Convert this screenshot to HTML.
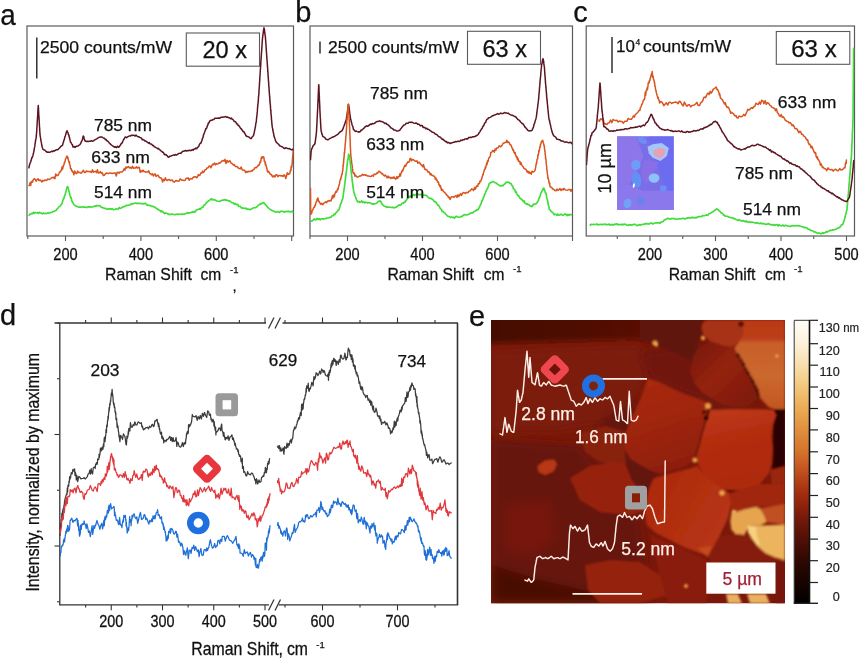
<!DOCTYPE html>
<html><head><meta charset="utf-8"><title>Raman spectra and AFM figure</title>
<style>
html,body{margin:0;padding:0;background:#fff;}
body{width:860px;height:658px;overflow:hidden;}
svg{display:block;font-family:"Liberation Sans", Arial, Helvetica, sans-serif;}
</style></head><body>
<svg width="860" height="658" viewBox="0 0 860 658">
<rect width="860" height="658" fill="#ffffff"/>

<text x="0.3" y="25" font-size="29" fill="#111" stroke="#111" stroke-width="0.25" text-anchor="start" textLength="15.5" lengthAdjust="spacingAndGlyphs" >a</text>
<text x="295.3" y="21.8" font-size="29" fill="#111" stroke="#111" stroke-width="0.25" text-anchor="start" >b</text>
<text x="573.3" y="21.8" font-size="29" fill="#111" stroke="#111" stroke-width="0.25" text-anchor="start" >c</text>
<text x="0" y="325" font-size="29" fill="#111" stroke="#111" stroke-width="0.25" text-anchor="start" >d</text>
<text x="469" y="325.5" font-size="29" fill="#111" stroke="#111" stroke-width="0.25" text-anchor="start" >e</text>
<defs>
<clipPath id="ca"><rect x="27" y="26" width="266.5" height="210"/></clipPath>
<clipPath id="cb"><rect x="310" y="26" width="262.5" height="210"/></clipPath>
<clipPath id="cc"><rect x="586.2" y="26" width="268.3" height="210"/></clipPath>
<filter id="glow" x="-5%" y="-5%" width="110%" height="110%"><feGaussianBlur stdDeviation="0.9"/></filter>
</defs>
<rect x="27" y="26" width="266.5" height="210" fill="#fff" stroke="#5a5a5a" stroke-width="1.2"/>
<line x1="27.799999999999997" y1="236" x2="27.799999999999997" y2="239" stroke="#5a5a5a" stroke-width="1.1"/>
<line x1="65.5" y1="236" x2="65.5" y2="241" stroke="#5a5a5a" stroke-width="1.1"/>
<line x1="103.2" y1="236" x2="103.2" y2="239" stroke="#5a5a5a" stroke-width="1.1"/>
<line x1="140.9" y1="236" x2="140.9" y2="241" stroke="#5a5a5a" stroke-width="1.1"/>
<line x1="178.6" y1="236" x2="178.6" y2="239" stroke="#5a5a5a" stroke-width="1.1"/>
<line x1="216.3" y1="236" x2="216.3" y2="241" stroke="#5a5a5a" stroke-width="1.1"/>
<line x1="254.0" y1="236" x2="254.0" y2="239" stroke="#5a5a5a" stroke-width="1.1"/>
<line x1="291.7" y1="236" x2="291.7" y2="241" stroke="#5a5a5a" stroke-width="1.1"/>
<text transform="translate(65.5,260) scale(1,1.12)" font-size="14.6" fill="#111" stroke="#111" stroke-width="0.25" text-anchor="middle" >200</text>
<text transform="translate(140.9,260) scale(1,1.12)" font-size="14.6" fill="#111" stroke="#111" stroke-width="0.25" text-anchor="middle" >400</text>
<text transform="translate(216.3,260) scale(1,1.12)" font-size="14.6" fill="#111" stroke="#111" stroke-width="0.25" text-anchor="middle" >600</text>
<text transform="translate(105,280) scale(1,1.11)" font-size="15.5" fill="#111" stroke="#111" stroke-width="0.25" text-anchor="start" textLength="87" lengthAdjust="spacingAndGlyphs" >Raman Shift</text>
<text transform="translate(200.5,280) scale(1,1.11)" font-size="15.5" fill="#111" stroke="#111" stroke-width="0.25" text-anchor="start" textLength="20.7" lengthAdjust="spacingAndGlyphs" >cm</text>
<text x="230" y="273" font-size="9.5" fill="#111" stroke="#111" stroke-width="0.25" text-anchor="start" >-1</text>
<text x="232.5" y="290.5" font-size="15" fill="#111" stroke="#111" stroke-width="0.25" text-anchor="start" >,</text>
<line x1="36.8" y1="37.5" x2="36.8" y2="78.5" stroke="#222" stroke-width="1.4"/>
<text x="40" y="52.5" font-size="17" fill="#111" stroke="#111" stroke-width="0.25" text-anchor="start" textLength="132" lengthAdjust="spacingAndGlyphs" >2500 counts/mW</text>
<rect x="186.3" y="33" width="73.2" height="33.2" fill="#fff" stroke="#5a5a5a" stroke-width="1.1"/>
<text x="202.5" y="57.5" font-size="23.5" fill="#111" stroke="#111" stroke-width="0.25" text-anchor="start" textLength="44.5" lengthAdjust="spacingAndGlyphs" >20 x</text>
<g clip-path="url(#ca)">
<path d="M29.1,215.4 L29.7,214.4 L30.6,214.1 L31.5,213.5 L32.5,213.8 L33.4,212.3 L34.3,213.4 L35.3,212.4 L36.3,212.8 L37.3,212.7 L38.3,213.4 L39.3,212.3 L40.3,213.0 L41.3,213.1 L42.3,213.8 L43.3,213.1 L44.3,213.6 L45.2,213.3 L46.2,213.5 L47.2,213.4 L48.2,212.6 L49.1,213.1 L50.1,212.8 L51.1,212.4 L52.1,212.3 L53.0,211.5 L54.0,211.5 L54.9,210.8 L55.7,210.5 L56.4,210.0 L57.1,208.9 L57.8,208.3 L58.5,207.5 L59.2,206.7 L60.0,206.1 L60.6,205.6 L61.2,204.4 L61.7,204.0 L62.0,203.5 L62.4,202.3 L62.7,201.0 L63.1,199.8 L63.4,198.9 L63.8,198.8 L64.1,197.3 L64.5,196.1 L64.8,195.5 L65.1,195.2 L65.4,193.5 L65.6,192.7 L65.9,191.7 L66.2,190.5 L66.4,189.2 L66.7,188.5 L66.9,187.6 L67.2,186.9 L67.4,186.5 L67.7,186.7 L67.9,187.3 L68.2,188.5 L68.5,188.9 L68.7,190.6 L69.0,191.3 L69.2,192.0 L69.5,193.2 L69.7,194.0 L70.0,195.4 L70.3,196.5 L70.6,197.6 L71.0,197.3 L71.3,198.3 L71.6,199.5 L71.9,200.7 L72.3,201.9 L72.6,202.7 L73.0,202.7 L73.7,204.1 L74.4,205.1 L75.2,205.4 L76.1,206.2 L76.9,206.4 L77.8,206.8 L78.7,207.1 L79.7,207.1 L80.7,207.1 L81.7,207.0 L82.7,206.8 L83.7,207.1 L84.8,207.0 L85.8,207.4 L86.8,207.4 L87.8,207.1 L88.8,206.9 L89.8,206.8 L90.8,207.1 L91.8,207.0 L92.8,206.7 L93.7,206.6 L94.7,206.1 L95.6,206.2 L96.6,205.5 L97.5,205.8 L98.5,205.5 L99.3,205.8 L100.1,205.8 L100.8,206.8 L101.7,207.5 L102.6,207.4 L103.5,208.0 L104.5,208.5 L105.4,208.2 L106.4,209.0 L107.4,209.2 L108.4,208.7 L109.4,209.2 L110.4,208.7 L111.4,209.2 L112.4,208.7 L113.4,209.8 L114.4,209.5 L115.4,209.3 L116.3,208.8 L117.3,209.2 L118.2,209.1 L119.2,207.5 L120.2,208.3 L121.1,208.1 L122.1,207.3 L123.0,206.5 L124.0,206.9 L124.9,206.2 L125.9,205.8 L126.8,205.2 L127.8,205.5 L128.8,205.3 L129.7,204.5 L130.7,204.6 L131.6,203.7 L132.6,204.1 L133.5,203.5 L134.5,203.2 L135.5,203.1 L136.5,203.4 L137.5,203.4 L138.5,203.4 L139.5,203.4 L140.5,203.4 L141.5,203.7 L142.5,203.6 L143.5,203.9 L144.5,203.6 L145.4,203.1 L146.4,204.6 L147.3,205.4 L148.3,205.1 L149.2,205.3 L150.1,205.6 L151.1,206.0 L152.0,206.4 L153.0,206.3 L153.9,206.9 L154.8,207.1 L155.7,208.0 L156.6,208.3 L157.4,209.1 L158.3,209.4 L159.2,210.3 L160.0,210.6 L160.9,211.8 L161.7,210.9 L162.6,211.7 L163.6,212.7 L164.5,213.6 L165.5,212.9 L166.4,213.3 L167.4,213.5 L168.3,214.4 L169.3,214.1 L170.2,214.6 L171.2,214.3 L172.2,214.0 L173.2,214.5 L174.2,214.5 L175.3,214.7 L176.3,214.2 L177.3,214.0 L178.3,214.4 L179.3,214.2 L180.3,214.2 L181.3,214.0 L182.3,214.4 L183.3,214.0 L184.2,214.3 L185.2,213.8 L186.2,213.5 L187.2,212.5 L188.2,213.1 L189.2,212.8 L190.1,212.8 L191.1,212.6 L192.1,211.9 L193.1,212.2 L194.1,211.5 L195.0,212.1 L196.0,210.5 L196.8,209.9 L197.7,209.5 L198.6,209.3 L199.5,208.7 L200.4,209.3 L201.3,208.0 L202.1,207.2 L202.8,207.4 L203.5,206.0 L204.1,205.0 L204.8,205.0 L205.4,204.1 L206.0,203.0 L206.6,202.8 L207.3,201.6 L208.1,201.5 L208.9,200.5 L209.7,200.3 L210.5,199.3 L211.4,198.6 L212.3,200.0 L213.2,199.4 L214.2,199.9 L215.1,200.0 L216.0,200.6 L217.0,201.0 L217.9,201.2 L218.9,201.3 L219.9,201.5 L220.9,200.7 L221.9,200.2 L222.9,200.1 L223.9,200.1 L224.9,199.6 L225.9,200.5 L226.8,200.1 L227.8,200.5 L228.7,201.0 L229.6,200.9 L230.5,201.5 L231.4,202.5 L232.4,202.8 L233.3,202.9 L234.2,204.1 L235.1,203.4 L236.0,204.2 L236.9,204.7 L237.7,204.3 L238.6,206.5 L239.5,206.4 L240.4,206.4 L241.2,208.0 L242.1,207.9 L243.1,208.2 L244.0,208.1 L245.0,208.5 L246.0,208.2 L247.0,209.2 L248.0,209.0 L249.0,209.3 L249.9,209.7 L250.9,209.2 L251.8,208.8 L252.7,208.4 L253.6,207.7 L254.5,207.8 L255.5,207.7 L256.4,207.0 L257.3,206.6 L258.1,205.4 L258.9,204.8 L259.7,204.0 L260.5,204.4 L261.4,203.3 L262.3,203.5 L263.2,202.6 L264.0,202.9 L264.7,203.6 L265.4,204.6 L266.0,205.1 L266.7,206.0 L267.2,206.7 L267.8,207.6 L268.5,207.9 L269.2,208.9 L270.1,209.4 L270.9,209.9 L271.8,210.5 L272.7,210.6 L273.6,211.3 L274.5,211.6 L275.5,212.0 L276.4,212.2 L277.5,211.6 L278.5,212.1 L279.5,212.5 L280.5,211.3 L281.5,211.4 L282.5,211.4 L283.5,211.6 L284.5,212.2 L285.5,211.6 L286.5,211.3 L287.5,211.7 L288.5,211.2 L289.5,211.8 L290.5,211.5 L291.5,211.8 L292.5,211.1 L293.2,212.3" fill="none" stroke="#3fdc3a" stroke-width="1.65" stroke-linejoin="round" stroke-linecap="round" />
<path d="M29.0,185.6 L29.4,185.4 L30.0,182.8 L30.7,185.4 L31.3,181.6 L32.0,181.6 L32.6,182.1 L33.2,179.7 L33.9,179.1 L34.6,178.6 L35.3,179.6 L36.2,181.2 L37.2,179.5 L38.1,178.8 L39.1,180.6 L40.0,179.9 L41.0,180.7 L41.9,182.0 L42.9,180.4 L43.9,180.9 L44.8,179.9 L45.8,180.3 L46.8,180.4 L47.7,179.0 L48.7,179.4 L49.7,179.2 L50.7,178.6 L51.6,177.9 L52.5,177.3 L53.4,177.9 L54.1,177.1 L54.9,178.8 L55.7,173.9 L56.4,175.6 L57.2,175.2 L58.0,175.4 L58.8,174.0 L59.5,172.1 L60.1,172.1 L60.6,171.7 L61.1,170.1 L61.5,170.2 L62.0,166.9 L62.4,169.2 L62.9,168.1 L63.3,165.6 L63.7,165.5 L64.1,164.1 L64.4,162.3 L64.7,162.2 L65.0,162.1 L65.3,159.9 L65.6,158.9 L65.9,158.2 L66.2,157.7 L66.5,157.7 L66.9,155.9 L67.2,157.5 L67.5,158.1 L67.9,157.2 L68.2,159.5 L68.6,160.7 L68.9,161.7 L69.2,163.0 L69.4,161.8 L69.7,164.7 L69.9,165.0 L70.1,165.3 L70.4,168.0 L70.8,169.1 L71.3,168.8 L71.8,171.0 L72.3,170.8 L72.7,172.0 L73.2,171.9 L73.9,174.8 L74.7,171.1 L75.7,173.2 L76.7,173.7 L77.6,171.1 L78.6,172.5 L79.6,172.4 L80.6,173.0 L81.5,173.1 L82.5,171.4 L83.5,170.3 L84.5,172.6 L85.5,172.4 L86.5,170.8 L87.5,171.6 L88.5,171.6 L89.5,171.8 L90.5,171.4 L91.5,172.5 L92.5,169.7 L93.5,172.2 L94.5,171.6 L95.5,171.2 L96.5,172.7 L97.4,169.8 L98.4,173.1 L99.4,172.7 L100.4,171.6 L101.3,173.2 L102.3,172.8 L103.3,175.6 L104.3,175.2 L105.2,174.1 L106.2,173.1 L107.2,173.2 L108.2,173.5 L109.2,173.2 L110.3,172.9 L111.3,173.2 L112.3,173.5 L113.3,173.3 L114.3,173.1 L115.3,172.9 L116.3,176.0 L117.2,172.3 L118.1,172.4 L119.0,173.2 L119.9,172.0 L120.7,172.1 L121.6,171.9 L122.4,171.8 L123.3,170.8 L124.1,168.7 L125.0,170.1 L125.8,167.0 L126.7,167.9 L127.6,167.2 L128.5,166.5 L129.5,168.0 L130.5,167.3 L131.5,168.4 L132.5,166.2 L133.5,168.3 L134.5,168.0 L135.5,167.9 L136.5,166.8 L137.4,168.2 L138.3,167.4 L139.3,167.2 L140.2,172.4 L141.1,170.7 L142.1,171.8 L143.0,170.1 L144.0,171.5 L144.9,171.8 L145.8,172.1 L146.8,171.9 L147.7,172.1 L148.7,170.8 L149.6,173.5 L150.5,173.7 L151.5,174.7 L152.4,173.8 L153.4,176.0 L154.3,174.3 L155.2,174.0 L156.1,176.4 L157.1,175.5 L158.0,175.2 L158.9,176.9 L159.8,177.8 L160.7,177.8 L161.6,178.4 L162.6,182.1 L163.5,179.5 L164.4,180.6 L165.3,177.7 L166.3,180.0 L167.3,180.5 L168.3,179.7 L169.3,179.4 L170.3,180.6 L171.3,180.2 L172.3,180.1 L173.3,181.8 L174.3,182.1 L175.2,181.2 L176.2,180.4 L177.2,181.1 L178.2,181.3 L179.2,180.9 L180.2,178.9 L181.2,179.8 L182.2,180.2 L183.2,180.3 L184.2,180.5 L185.2,180.1 L186.1,178.2 L187.1,178.4 L188.1,177.8 L189.1,180.3 L190.1,178.6 L191.1,178.8 L192.0,179.0 L193.0,177.6 L194.0,176.7 L195.0,177.0 L195.9,176.8 L196.7,177.8 L197.6,176.7 L198.4,174.4 L199.3,175.4 L200.1,175.0 L201.0,172.8 L201.8,173.1 L202.7,171.0 L203.5,172.5 L204.3,171.3 L205.1,169.8 L205.7,169.6 L206.2,169.6 L206.8,168.0 L207.5,168.1 L208.2,167.7 L209.1,166.0 L210.0,166.1 L210.9,167.8 L211.8,165.6 L212.7,164.3 L213.6,164.7 L214.6,163.0 L215.5,164.9 L216.4,163.8 L217.4,164.1 L218.3,163.6 L219.2,162.8 L220.2,163.0 L221.1,161.9 L222.1,160.9 L223.0,160.5 L224.0,161.1 L225.0,159.4 L226.0,163.5 L227.0,160.5 L228.0,162.1 L229.0,161.1 L229.9,160.8 L230.8,162.9 L231.7,163.3 L232.5,163.9 L233.4,165.1 L234.2,164.6 L235.1,166.0 L235.9,166.7 L236.8,166.4 L237.6,167.0 L238.5,168.3 L239.3,168.4 L240.2,168.9 L241.1,167.0 L242.1,169.6 L243.0,170.2 L244.0,170.1 L244.9,170.9 L245.8,172.7 L246.8,171.4 L247.7,172.2 L248.7,171.2 L249.6,171.4 L250.5,171.6 L251.3,170.7 L252.1,171.1 L253.0,169.7 L253.8,169.8 L254.6,168.1 L255.5,167.4 L256.3,167.7 L257.1,166.7 L257.7,166.3 L258.2,165.5 L258.6,164.8 L259.0,165.2 L259.4,164.6 L259.9,163.1 L260.3,161.2 L260.7,162.0 L261.2,158.3 L261.6,157.0 L262.1,158.2 L262.6,157.1 L263.0,156.8 L263.4,157.3 L263.7,156.8 L264.0,158.1 L264.3,161.2 L264.7,162.0 L265.0,161.4 L265.3,164.7 L265.5,163.0 L265.8,164.4 L266.1,166.2 L266.3,165.8 L266.6,167.4 L266.8,168.6 L267.1,169.4 L267.4,171.5 L267.9,172.1 L268.5,171.3 L269.3,172.4 L270.0,173.9 L270.7,174.4 L271.4,174.4 L272.1,176.1 L273.0,176.9 L273.9,175.7 L274.9,177.0 L275.9,174.8 L276.9,174.8 L277.9,176.7 L278.9,175.5 L279.9,175.4 L281.0,176.0 L282.0,175.6 L283.0,176.5 L284.0,174.9 L284.9,175.7 L285.8,178.5 L286.6,175.2 L287.4,172.7 L288.2,174.4 L289.0,173.8 L289.7,173.8 L290.1,171.9 L290.4,170.2 L290.7,171.1 L291.0,169.5 L291.2,166.3 L291.5,167.6 L291.7,165.8 L291.9,166.0 L292.1,163.7 L292.2,163.7 L292.2,162.2 L292.3,161.5 L292.4,160.0 L292.5,158.6 L292.6,158.1 L292.6,157.6 L292.7,156.4 L292.8,156.5 L292.9,154.4 L293.0,153.6 L293.0,153.9 L293.1,151.1 L293.2,150.8" fill="none" stroke="#d9541f" stroke-width="1.5" stroke-linejoin="round" stroke-linecap="round" />
<path d="M28.9,167.8 L29.1,166.7 L29.4,165.6 L29.7,164.0 L30.0,163.6 L30.3,162.6 L30.7,161.8 L31.0,160.6 L31.3,159.9 L31.6,158.8 L31.9,157.5 L32.2,157.4 L32.6,156.4 L32.9,155.7 L33.2,154.2 L33.5,153.1 L33.7,152.1 L33.9,150.8 L34.1,150.7 L34.2,148.9 L34.4,147.9 L34.6,147.3 L34.7,146.9 L34.9,145.4 L35.0,144.0 L35.2,143.1 L35.3,142.6 L35.5,141.3 L35.6,140.1 L35.8,139.3 L36.0,138.7 L36.1,138.1 L36.3,136.0 L36.4,135.2 L36.5,134.2 L36.6,132.6 L36.6,132.1 L36.7,131.1 L36.8,130.9 L36.8,129.4 L36.9,127.9 L36.9,127.7 L37.0,126.3 L37.1,124.9 L37.1,124.3 L37.2,123.3 L37.2,122.2 L37.3,121.5 L37.3,119.7 L37.4,119.4 L37.5,118.8 L37.5,117.8 L37.6,116.9 L37.6,115.9 L37.7,115.0 L37.8,113.1 L37.8,112.8 L37.9,110.8 L37.9,110.3 L38.0,108.8 L38.0,108.8 L38.1,107.9 L38.2,106.4 L38.2,106.4 L38.3,105.6 L38.3,106.6 L38.4,107.6 L38.5,108.2 L38.5,109.7 L38.6,111.2 L38.6,111.2 L38.7,112.8 L38.7,113.5 L38.8,115.1 L38.9,115.7 L38.9,116.8 L39.0,117.8 L39.0,118.6 L39.1,119.0 L39.2,121.0 L39.2,121.0 L39.3,122.6 L39.3,123.7 L39.4,124.2 L39.4,125.6 L39.5,126.9 L39.6,127.5 L39.6,128.2 L39.7,128.5 L39.7,130.2 L39.8,131.3 L39.9,132.3 L39.9,133.2 L40.0,134.7 L40.1,135.3 L40.3,136.5 L40.5,137.7 L40.6,138.2 L40.8,139.4 L41.0,141.2 L41.2,141.7 L41.3,142.0 L41.5,143.4 L41.7,144.6 L41.9,145.8 L42.1,146.4 L42.2,147.2 L42.5,148.0 L43.0,149.3 L43.8,149.8 L44.6,150.1 L45.4,150.8 L46.2,151.4 L47.0,152.3 L47.9,152.0 L48.8,152.3 L49.8,152.2 L50.7,151.9 L51.7,151.2 L52.7,151.7 L53.7,150.7 L54.6,150.9 L55.6,150.2 L56.6,149.6 L57.4,149.9 L58.2,149.4 L58.9,148.5 L59.7,147.9 L60.4,146.9 L61.1,146.2 L61.8,145.7 L62.4,145.6 L62.8,144.3 L63.1,142.9 L63.4,142.3 L63.7,141.0 L64.0,140.1 L64.3,139.6 L64.6,138.1 L64.9,136.8 L65.2,136.1 L65.4,135.5 L65.7,134.5 L66.0,133.9 L66.3,132.3 L66.5,131.8 L66.8,131.0 L67.1,130.7 L67.4,131.6 L67.7,132.4 L68.1,132.9 L68.4,134.5 L68.7,134.7 L69.0,136.1 L69.3,137.0 L69.5,138.1 L69.7,138.7 L70.0,139.9 L70.2,140.8 L70.5,142.2 L71.0,142.5 L71.4,143.6 L72.0,144.4 L72.5,144.9 L73.0,147.1 L73.6,146.8 L74.3,146.6 L75.1,147.4 L76.1,146.2 L77.0,146.3 L77.9,146.1 L78.9,145.2 L79.7,144.8 L80.3,144.1 L80.8,143.4 L81.2,142.0 L81.7,141.2 L82.0,140.6 L82.3,140.1 L82.5,139.0 L82.7,138.4 L83.0,137.0 L83.2,136.1 L83.4,136.3 L83.7,136.4 L84.0,137.7 L84.2,138.7 L84.6,140.0 L85.2,141.0 L85.9,141.2 L86.7,141.5 L87.6,141.2 L88.5,141.4 L89.5,141.3 L90.5,141.2 L91.5,140.5 L92.5,141.3 L93.4,140.8 L94.4,140.1 L95.3,139.5 L96.2,139.1 L97.0,138.7 L97.8,138.1 L98.6,137.7 L99.5,137.2 L100.3,137.1 L101.2,137.1 L102.0,137.1 L102.9,137.7 L103.8,138.0 L104.6,138.4 L105.5,139.8 L106.3,139.5 L107.0,141.0 L107.7,141.0 L108.4,141.9 L109.1,142.9 L109.8,143.3 L110.4,144.2 L111.1,144.7 L111.8,145.3 L112.6,146.0 L113.5,146.2 L114.4,147.2 L115.4,146.8 L116.4,147.6 L117.4,146.3 L118.3,147.2 L119.0,147.0 L119.6,146.0 L120.1,145.7 L120.7,144.7 L121.2,143.5 L121.7,142.9 L122.3,142.9 L122.8,141.1 L123.3,140.3 L123.9,139.2 L124.4,138.5 L125.0,137.3 L125.8,137.1 L126.7,137.7 L127.6,136.8 L128.6,136.3 L129.5,136.1 L130.4,136.0 L131.4,135.2 L132.3,135.5 L133.2,135.2 L134.1,135.2 L135.1,136.1 L136.0,135.1 L136.9,136.1 L137.9,136.7 L138.8,136.7 L139.7,137.4 L140.6,137.7 L141.5,138.2 L142.3,139.8 L143.2,139.6 L144.0,139.9 L144.9,140.9 L145.8,140.9 L146.6,141.8 L147.5,142.1 L148.3,143.1 L149.2,142.5 L150.0,143.8 L150.9,144.1 L151.7,144.2 L152.6,145.5 L153.4,145.4 L154.3,146.8 L155.1,147.0 L155.9,147.6 L156.8,147.9 L157.6,148.8 L158.5,148.3 L159.3,149.6 L160.1,149.9 L160.9,150.8 L161.7,151.3 L162.5,152.2 L163.3,152.3 L164.0,153.9 L164.8,154.7 L165.6,154.4 L166.4,155.1 L167.2,155.8 L167.9,156.8 L168.8,157.3 L169.7,156.3 L170.6,156.2 L171.6,155.7 L172.5,155.4 L173.5,154.9 L174.4,155.3 L175.4,154.5 L176.4,155.1 L177.3,154.6 L178.3,153.7 L179.2,153.4 L180.2,153.1 L181.0,153.4 L181.9,152.1 L182.8,151.3 L183.6,151.3 L184.5,151.0 L185.4,150.4 L186.4,151.1 L187.4,150.6 L188.4,150.7 L189.4,150.2 L190.4,150.5 L191.4,150.4 L192.4,149.6 L193.3,150.1 L194.1,148.9 L195.0,149.0 L195.8,148.0 L196.7,148.7 L197.5,147.5 L198.2,146.9 L198.8,146.2 L199.4,144.6 L200.0,143.5 L200.6,143.3 L201.1,142.9 L201.4,141.7 L201.8,141.0 L202.1,140.1 L202.4,138.3 L202.7,138.0 L203.0,137.6 L203.3,135.8 L203.7,134.3 L204.0,134.0 L204.3,133.0 L204.6,132.3 L205.0,130.9 L205.3,130.3 L205.8,128.6 L206.2,128.8 L206.6,128.2 L207.0,127.2 L207.5,125.3 L207.9,125.0 L208.3,122.9 L208.8,123.2 L209.2,122.2 L209.7,121.0 L210.3,120.8 L211.1,120.2 L212.1,120.2 L213.0,119.6 L214.0,119.4 L214.9,118.3 L215.9,118.3 L216.9,118.3 L217.8,118.3 L218.8,118.0 L219.8,118.3 L220.8,117.3 L221.7,117.3 L222.7,117.3 L223.7,116.9 L224.7,116.9 L225.7,116.5 L226.6,117.3 L227.6,117.0 L228.5,117.8 L229.4,117.8 L230.4,118.7 L231.3,118.0 L232.2,119.2 L232.9,119.4 L233.6,120.4 L234.3,121.5 L235.0,121.4 L235.6,122.1 L236.3,122.9 L236.9,124.1 L237.6,124.1 L238.3,125.6 L238.9,125.8 L239.6,126.7 L240.2,127.7 L240.9,128.7 L241.5,129.2 L242.1,130.0 L242.7,131.0 L243.3,131.7 L243.9,131.6 L244.6,133.2 L245.2,134.2 L245.8,135.3 L246.5,136.3 L247.3,136.4 L248.2,136.8 L249.0,136.9 L249.8,137.9 L250.6,138.5 L251.3,138.6 L251.9,137.3 L252.4,136.8 L252.9,136.2 L253.4,135.7 L253.8,134.2 L254.1,133.0 L254.3,132.0 L254.5,131.1 L254.7,130.0 L254.9,129.5 L255.0,128.6 L255.2,127.5 L255.4,126.7 L255.6,125.1 L255.7,124.4 L255.9,123.2 L256.1,122.4 L256.3,121.8 L256.4,120.3 L256.5,118.7 L256.6,118.3 L256.7,117.1 L256.8,115.8 L256.9,115.1 L257.0,114.7 L257.1,114.0 L257.2,112.2 L257.3,111.7 L257.4,110.8 L257.5,109.0 L257.5,108.4 L257.6,107.4 L257.7,106.5 L257.8,104.8 L257.9,104.3 L258.0,103.8 L258.1,102.9 L258.2,102.1 L258.3,100.3 L258.4,100.1 L258.4,98.7 L258.5,96.9 L258.6,96.7 L258.7,95.3 L258.8,94.6 L258.9,93.4 L258.9,92.9 L259.0,91.5 L259.0,90.3 L259.1,89.8 L259.2,88.5 L259.2,87.3 L259.3,86.9 L259.4,85.3 L259.4,84.2 L259.5,83.2 L259.6,81.9 L259.6,81.2 L259.7,81.1 L259.8,79.1 L259.8,78.4 L259.9,77.0 L259.9,76.2 L260.0,76.0 L260.1,74.7 L260.1,73.2 L260.2,72.4 L260.3,71.1 L260.3,70.2 L260.4,69.1 L260.5,68.1 L260.5,67.6 L260.6,66.6 L260.7,65.6 L260.7,64.4 L260.8,63.0 L260.8,62.4 L260.9,61.1 L261.0,60.7 L261.0,59.6 L261.1,58.7 L261.2,57.3 L261.2,55.8 L261.3,55.8 L261.4,54.9 L261.4,52.9 L261.5,52.5 L261.6,51.9 L261.7,50.1 L261.7,50.1 L261.8,48.3 L261.9,47.1 L261.9,46.9 L262.0,45.6 L262.1,44.2 L262.1,43.8 L262.2,41.8 L262.3,42.1 L262.3,40.2 L262.4,39.6 L262.5,38.3 L262.6,37.6 L262.7,36.8 L262.8,35.2 L263.0,34.8 L263.1,33.4 L263.3,32.3 L263.4,31.4 L263.5,30.2 L263.7,29.2 L263.8,28.9 L263.9,27.8 L264.1,28.2 L264.2,28.6 L264.3,29.1 L264.5,29.8 L264.6,31.2 L264.7,32.5 L264.9,33.4 L265.0,34.1 L265.1,35.8 L265.3,35.8 L265.4,36.9 L265.5,38.4 L265.6,40.1 L265.7,40.5 L265.7,41.0 L265.8,42.6 L265.9,43.6 L265.9,44.7 L266.0,45.2 L266.1,46.1 L266.1,47.4 L266.2,48.5 L266.3,49.9 L266.3,51.1 L266.4,51.1 L266.5,52.2 L266.5,53.3 L266.6,54.3 L266.7,55.5 L266.8,56.5 L266.8,57.5 L266.9,58.8 L267.0,59.3 L267.0,60.0 L267.1,60.8 L267.2,62.0 L267.2,63.0 L267.3,63.7 L267.4,65.6 L267.5,66.4 L267.5,67.2 L267.6,68.0 L267.7,68.8 L267.7,70.0 L267.8,72.0 L267.9,71.6 L268.0,73.4 L268.0,74.6 L268.1,75.4 L268.2,76.2 L268.2,77.6 L268.3,78.0 L268.4,79.5 L268.5,80.8 L268.5,81.0 L268.6,82.1 L268.7,83.4 L268.7,84.7 L268.8,85.8 L268.9,86.6 L269.0,87.1 L269.0,88.0 L269.1,89.4 L269.2,90.5 L269.2,91.0 L269.3,92.4 L269.4,93.5 L269.5,94.7 L269.5,95.0 L269.6,96.5 L269.7,96.9 L269.8,98.2 L269.9,99.3 L269.9,100.9 L270.0,102.5 L270.1,102.4 L270.2,103.5 L270.3,104.7 L270.4,104.8 L270.4,106.6 L270.5,106.9 L270.6,108.9 L270.7,109.8 L270.8,110.5 L270.9,111.0 L270.9,112.9 L271.0,113.4 L271.1,114.3 L271.2,115.5 L271.3,115.7 L271.4,117.4 L271.4,118.6 L271.5,119.4 L271.6,120.3 L271.7,121.0 L271.8,122.5 L271.9,123.4 L271.9,124.3 L272.1,125.1 L272.2,126.6 L272.4,127.7 L272.6,128.4 L272.8,129.5 L272.9,130.7 L273.1,131.7 L273.3,132.3 L273.5,133.1 L273.7,134.0 L273.8,135.1 L274.1,136.3 L274.4,137.4 L274.7,137.9 L275.0,139.0 L275.3,139.6 L275.7,141.3 L276.0,141.6 L276.6,142.7 L277.2,143.0 L278.0,143.8 L278.8,144.3 L279.6,145.8 L280.4,145.9 L281.1,146.4 L281.9,146.7 L282.8,147.2 L283.7,148.0 L284.7,148.6 L285.7,147.7 L286.7,148.1 L287.6,148.6 L288.6,148.7 L289.6,148.5 L290.6,149.3 L291.5,149.8 L292.5,149.2 L293.2,150.0" fill="none" stroke="#5c1420" stroke-width="1.5" stroke-linejoin="round" stroke-linecap="round" />
</g>
<text x="94" y="131" font-size="17" fill="#111" stroke="#111" stroke-width="0.25" text-anchor="start" textLength="58" lengthAdjust="spacingAndGlyphs" >785 nm</text>
<text x="91.3" y="163" font-size="17" fill="#111" stroke="#111" stroke-width="0.25" text-anchor="start" textLength="58.5" lengthAdjust="spacingAndGlyphs" >633 nm</text>
<text x="94" y="198" font-size="17" fill="#111" stroke="#111" stroke-width="0.25" text-anchor="start" textLength="58" lengthAdjust="spacingAndGlyphs" >514 nm</text>
<rect x="310" y="26" width="262.5" height="210" fill="#fff" stroke="#5a5a5a" stroke-width="1.2"/>
<line x1="310.0" y1="236" x2="310.0" y2="239" stroke="#5a5a5a" stroke-width="1.1"/>
<line x1="347.5" y1="236" x2="347.5" y2="241" stroke="#5a5a5a" stroke-width="1.1"/>
<line x1="385.0" y1="236" x2="385.0" y2="239" stroke="#5a5a5a" stroke-width="1.1"/>
<line x1="422.5" y1="236" x2="422.5" y2="241" stroke="#5a5a5a" stroke-width="1.1"/>
<line x1="460.0" y1="236" x2="460.0" y2="239" stroke="#5a5a5a" stroke-width="1.1"/>
<line x1="497.5" y1="236" x2="497.5" y2="241" stroke="#5a5a5a" stroke-width="1.1"/>
<line x1="535.0" y1="236" x2="535.0" y2="239" stroke="#5a5a5a" stroke-width="1.1"/>
<line x1="572.5" y1="236" x2="572.5" y2="241" stroke="#5a5a5a" stroke-width="1.1"/>
<text transform="translate(347.5,260) scale(1,1.12)" font-size="14.6" fill="#111" stroke="#111" stroke-width="0.25" text-anchor="middle" >200</text>
<text transform="translate(422.5,260) scale(1,1.12)" font-size="14.6" fill="#111" stroke="#111" stroke-width="0.25" text-anchor="middle" >400</text>
<text transform="translate(497.5,260) scale(1,1.12)" font-size="14.6" fill="#111" stroke="#111" stroke-width="0.25" text-anchor="middle" >600</text>
<text transform="translate(387.5,280) scale(1,1.11)" font-size="15.5" fill="#111" stroke="#111" stroke-width="0.25" text-anchor="start" textLength="86.5" lengthAdjust="spacingAndGlyphs" >Raman Shift</text>
<text transform="translate(483.7,280) scale(1,1.11)" font-size="15.5" fill="#111" stroke="#111" stroke-width="0.25" text-anchor="start" textLength="20.7" lengthAdjust="spacingAndGlyphs" >cm</text>
<text x="513" y="272" font-size="9.5" fill="#111" stroke="#111" stroke-width="0.25" text-anchor="start" >-1</text>
<line x1="320" y1="41.5" x2="320" y2="53.5" stroke="#222" stroke-width="1.4"/>
<text x="328" y="53" font-size="17" fill="#111" stroke="#111" stroke-width="0.25" text-anchor="start" textLength="131" lengthAdjust="spacingAndGlyphs" >2500 counts/mW</text>
<rect x="467.5" y="31.3" width="73" height="33" fill="#fff" stroke="#5a5a5a" stroke-width="1.1"/>
<text x="482.5" y="57" font-size="23.5" fill="#111" stroke="#111" stroke-width="0.25" text-anchor="start" textLength="44.5" lengthAdjust="spacingAndGlyphs" >63 x</text>
<g clip-path="url(#cb)">
<path d="M310.5,159.7 L310.6,159.2 L310.6,157.7 L310.7,157.2 L310.8,155.9 L310.9,154.5 L310.9,153.8 L311.0,153.2 L311.1,152.1 L311.2,150.7 L311.4,150.2 L311.6,149.1 L312.0,148.3 L312.5,147.4 L312.9,146.0 L313.5,145.7 L314.1,144.6 L314.6,144.4 L315.0,143.3 L315.2,142.1 L315.3,140.8 L315.5,140.2 L315.6,139.2 L315.7,137.8 L315.8,137.8 L316.0,136.3 L316.1,135.7 L316.2,133.8 L316.3,133.7 L316.5,131.8 L316.5,131.0 L316.6,130.4 L316.6,129.2 L316.7,127.5 L316.7,126.9 L316.8,126.4 L316.8,125.8 L316.9,124.5 L316.9,123.1 L317.0,122.4 L317.0,120.8 L317.1,120.3 L317.1,118.8 L317.2,118.2 L317.2,117.1 L317.3,116.4 L317.3,115.1 L317.4,114.5 L317.4,113.1 L317.5,112.4 L317.5,111.4 L317.6,109.6 L317.6,109.2 L317.7,108.2 L317.7,106.9 L317.8,106.2 L317.8,104.7 L317.8,104.3 L317.9,103.3 L317.9,102.3 L318.0,101.9 L318.0,100.3 L318.1,99.2 L318.1,97.9 L318.2,97.3 L318.2,95.9 L318.2,95.5 L318.3,94.0 L318.3,93.2 L318.4,92.8 L318.4,91.5 L318.5,90.2 L318.5,89.6 L318.6,88.1 L318.6,87.4 L318.6,86.2 L318.7,84.9 L318.7,84.7 L318.8,84.9 L318.8,85.2 L318.9,86.0 L318.9,87.2 L319.0,87.6 L319.0,89.2 L319.0,90.0 L319.1,92.0 L319.1,92.2 L319.2,92.9 L319.2,94.6 L319.3,95.3 L319.3,96.4 L319.4,97.4 L319.4,98.4 L319.4,99.3 L319.5,100.7 L319.5,101.5 L319.6,102.2 L319.6,103.3 L319.7,104.1 L319.7,105.5 L319.8,106.6 L319.8,107.6 L319.8,108.6 L319.9,109.3 L319.9,110.9 L320.0,111.3 L320.0,112.4 L320.1,113.3 L320.1,114.4 L320.2,115.3 L320.2,117.0 L320.3,117.5 L320.4,117.9 L320.4,119.3 L320.5,120.0 L320.5,121.6 L320.6,122.8 L320.6,123.2 L320.7,124.6 L320.7,125.3 L320.8,126.5 L320.9,127.9 L320.9,128.3 L321.0,129.0 L321.1,130.6 L321.3,131.5 L321.6,132.5 L321.8,133.6 L322.0,134.1 L322.3,134.7 L322.7,136.4 L323.3,136.7 L324.1,137.1 L324.9,137.7 L325.7,139.0 L326.5,139.3 L327.3,139.7 L328.2,139.8 L329.1,139.0 L330.0,138.4 L330.8,138.1 L331.7,137.5 L332.6,137.3 L333.5,136.7 L334.4,136.5 L335.3,135.8 L336.1,135.3 L336.8,134.9 L337.6,134.5 L338.4,133.9 L339.1,132.8 L339.9,132.2 L340.7,131.4 L341.4,131.2 L342.1,130.6 L342.7,129.2 L343.1,128.7 L343.4,127.4 L343.8,126.5 L344.1,125.7 L344.5,124.6 L344.8,124.1 L345.2,122.4 L345.5,121.7 L345.9,120.9 L346.2,119.7 L346.4,119.2 L346.5,117.6 L346.7,117.1 L346.8,115.6 L346.9,115.0 L347.1,114.2 L347.2,113.7 L347.3,112.4 L347.5,111.6 L347.6,110.1 L347.8,109.8 L347.9,108.1 L348.0,107.1 L348.2,105.8 L348.3,105.2 L348.4,104.9 L348.6,104.4 L348.7,105.2 L348.9,106.2 L349.0,107.2 L349.1,108.1 L349.3,108.9 L349.4,110.7 L349.5,110.7 L349.7,112.0 L349.8,113.4 L350.0,114.6 L350.1,115.2 L350.2,116.2 L350.4,117.3 L350.5,118.2 L350.7,119.5 L350.9,120.1 L351.1,120.9 L351.4,122.0 L351.7,123.1 L352.0,124.4 L352.3,125.5 L352.5,125.8 L352.8,126.5 L353.1,127.5 L353.4,129.5 L353.9,129.6 L354.5,130.5 L355.4,131.4 L356.3,131.1 L357.2,131.6 L358.0,131.9 L358.9,131.7 L359.7,132.0 L360.5,131.4 L361.2,129.9 L362.0,130.1 L362.8,129.1 L363.5,128.6 L364.3,127.9 L365.1,126.8 L365.9,126.5 L366.7,125.8 L367.6,126.2 L368.5,125.9 L369.5,124.9 L370.4,124.1 L371.3,124.4 L372.2,123.6 L373.1,123.8 L374.1,123.5 L375.0,123.0 L375.9,122.1 L376.9,121.6 L377.8,121.4 L378.8,121.3 L379.7,120.8 L380.7,121.4 L381.6,121.5 L382.5,121.8 L383.3,122.2 L384.2,122.9 L385.1,123.6 L386.0,123.1 L386.9,124.3 L387.7,124.6 L388.5,125.1 L389.2,125.9 L390.0,126.7 L390.7,127.9 L391.5,128.0 L392.2,128.5 L393.0,129.0 L393.8,130.1 L394.7,130.0 L395.7,130.4 L396.6,130.9 L397.6,131.0 L398.5,130.8 L399.3,130.5 L399.9,130.1 L400.5,129.0 L401.2,128.3 L401.8,127.6 L402.4,126.6 L403.0,126.0 L403.7,125.1 L404.5,125.0 L405.4,124.3 L406.3,123.2 L407.2,123.3 L408.1,123.2 L409.0,122.4 L410.0,122.1 L410.9,122.5 L411.9,122.1 L412.9,122.7 L413.8,123.1 L414.8,123.4 L415.8,123.0 L416.8,123.2 L417.7,124.4 L418.6,124.1 L419.5,124.7 L420.4,125.9 L421.3,125.5 L422.2,125.4 L423.1,127.4 L424.0,127.3 L424.9,127.6 L425.8,128.7 L426.7,128.3 L427.6,129.3 L428.4,129.3 L429.3,129.8 L430.1,130.6 L431.0,131.2 L431.8,131.8 L432.7,132.3 L433.5,132.4 L434.4,133.0 L435.2,134.2 L436.1,134.3 L436.9,134.7 L437.7,135.6 L438.5,136.3 L439.3,136.9 L440.1,137.0 L440.8,137.7 L441.6,138.6 L442.4,139.4 L443.1,139.3 L443.9,140.2 L444.7,140.8 L445.6,141.7 L446.5,141.4 L447.4,142.9 L448.4,142.5 L449.3,142.9 L450.3,143.5 L451.3,142.9 L452.2,142.8 L453.2,142.3 L454.2,142.3 L455.2,141.6 L456.2,141.7 L457.2,141.6 L458.1,141.1 L459.1,141.5 L460.1,141.1 L461.0,140.1 L462.0,140.5 L462.9,139.7 L463.9,139.8 L464.8,139.1 L465.8,138.9 L466.7,138.8 L467.7,138.9 L468.6,137.5 L469.6,137.6 L470.5,137.3 L471.5,137.4 L472.5,136.8 L473.4,136.7 L474.4,136.7 L475.4,136.3 L476.3,135.7 L477.2,135.3 L477.9,134.7 L478.5,134.0 L479.0,132.9 L479.5,132.3 L480.0,131.6 L480.6,130.4 L481.1,129.6 L481.6,129.0 L482.2,128.3 L482.7,126.8 L483.2,126.0 L483.7,125.8 L484.1,124.5 L484.6,123.3 L485.1,122.8 L485.6,122.4 L486.1,120.9 L486.6,119.9 L487.1,119.2 L487.7,119.1 L488.5,117.8 L489.4,117.7 L490.2,117.3 L491.1,116.8 L492.0,116.0 L492.9,115.8 L493.8,115.2 L494.7,115.0 L495.6,114.6 L496.6,114.3 L497.6,113.6 L498.6,114.2 L499.6,113.9 L500.6,113.1 L501.6,113.6 L502.6,113.6 L503.6,113.3 L504.5,112.5 L505.5,112.9 L506.5,112.9 L507.5,113.4 L508.4,113.1 L509.3,114.2 L510.3,114.7 L511.2,115.0 L512.2,115.2 L513.1,115.5 L514.0,116.2 L514.9,116.5 L515.7,116.8 L516.4,117.7 L517.1,118.6 L517.8,119.4 L518.5,119.9 L519.2,120.2 L519.9,121.0 L520.6,122.0 L521.4,122.7 L522.1,123.6 L522.7,123.5 L523.4,124.6 L524.0,125.2 L524.7,126.7 L525.3,127.4 L526.0,128.0 L526.6,128.9 L527.2,129.3 L527.9,130.4 L528.6,130.8 L529.4,130.9 L530.3,130.7 L531.3,130.7 L532.1,130.3 L532.6,128.8 L533.0,128.2 L533.3,127.4 L533.6,126.6 L533.9,125.0 L534.1,124.3 L534.4,123.5 L534.7,123.1 L535.0,121.4 L535.3,120.6 L535.6,119.7 L535.9,118.7 L536.1,117.9 L536.3,116.8 L536.5,115.8 L536.6,114.9 L536.7,113.9 L536.8,113.0 L537.0,112.0 L537.1,110.5 L537.2,109.9 L537.4,108.9 L537.5,108.1 L537.6,107.1 L537.7,106.4 L537.9,104.7 L538.0,103.9 L538.1,103.0 L538.3,101.7 L538.4,100.9 L538.5,99.8 L538.6,98.8 L538.7,98.6 L538.8,96.9 L538.8,96.4 L538.9,94.7 L539.0,94.0 L539.1,92.8 L539.2,92.1 L539.3,91.5 L539.4,90.5 L539.4,89.2 L539.5,88.1 L539.6,87.0 L539.7,86.1 L539.8,85.4 L539.9,83.5 L540.0,82.9 L540.0,81.7 L540.1,81.3 L540.2,79.6 L540.3,79.2 L540.4,77.6 L540.5,76.7 L540.6,76.4 L540.7,75.3 L540.8,73.7 L540.9,72.5 L541.0,71.7 L541.0,71.2 L541.1,70.0 L541.2,68.7 L541.3,68.2 L541.4,67.4 L541.5,65.7 L541.7,65.0 L541.9,63.8 L542.1,63.4 L542.2,62.1 L542.4,60.9 L542.6,59.6 L542.8,59.3 L543.0,58.6 L543.1,59.0 L543.3,59.8 L543.5,61.0 L543.6,61.3 L543.8,62.6 L543.9,63.9 L544.1,65.3 L544.2,65.9 L544.4,66.8 L544.4,67.6 L544.5,68.6 L544.6,69.7 L544.6,70.6 L544.7,71.8 L544.8,72.8 L544.9,74.4 L544.9,74.8 L545.0,76.1 L545.1,76.7 L545.2,78.1 L545.2,79.5 L545.3,79.6 L545.4,80.4 L545.4,82.1 L545.5,82.8 L545.6,83.7 L545.7,84.9 L545.8,85.9 L545.9,87.2 L546.0,87.9 L546.0,88.6 L546.1,89.4 L546.2,90.3 L546.3,91.5 L546.4,93.1 L546.5,93.3 L546.6,94.8 L546.6,96.1 L546.7,96.9 L546.8,98.2 L546.9,99.0 L547.0,100.2 L547.1,100.6 L547.2,101.5 L547.3,103.3 L547.4,103.9 L547.5,104.8 L547.6,105.6 L547.7,107.2 L547.8,107.9 L547.9,108.9 L548.0,109.5 L548.1,110.8 L548.2,111.6 L548.3,112.7 L548.4,113.8 L548.5,114.6 L548.6,115.5 L548.7,116.9 L548.8,117.4 L549.0,119.1 L549.2,120.1 L549.5,120.2 L549.7,122.1 L549.9,122.3 L550.1,124.0 L550.4,124.4 L550.6,125.7 L550.8,126.2 L551.0,127.7 L551.3,128.5 L551.5,129.9 L551.7,130.6 L551.9,131.1 L552.2,132.4 L552.5,133.1 L552.9,134.2 L553.5,135.4 L554.2,136.2 L554.8,136.5 L555.5,137.0 L556.2,138.0 L556.8,139.3 L557.6,139.3 L558.4,139.4 L559.4,139.7 L560.3,140.1 L561.3,141.1 L562.2,141.0 L563.2,141.2 L564.1,141.8 L565.1,142.3 L566.0,142.1 L567.0,142.1 L568.0,142.5 L569.0,142.8 L570.0,142.2 L571.0,142.5 L571.7,143.6" fill="none" stroke="#5c1420" stroke-width="1.5" stroke-linejoin="round" stroke-linecap="round" />
<path d="M310.5,188.2 L310.5,188.2 L310.5,191.5 L310.5,190.3 L310.5,191.6 L310.5,193.8 L310.5,192.8 L310.6,194.0 L310.6,195.7 L310.6,196.3 L310.6,196.6 L310.6,198.4 L310.6,199.2 L310.6,201.0 L310.6,200.2 L310.6,202.0 L310.6,204.5 L310.6,206.0 L310.6,204.3 L310.6,207.1 L310.6,206.8 L310.7,207.9 L310.7,208.9 L310.7,210.2 L310.7,212.4 L310.7,213.1 L310.7,213.6 L310.8,213.9 L311.0,214.2 L311.3,213.5 L311.7,213.2 L312.1,211.2 L312.4,210.7 L312.8,209.7 L313.2,208.8 L313.6,208.2 L314.0,207.2 L314.4,207.2 L314.9,205.2 L315.3,205.6 L315.8,203.2 L316.1,202.2 L316.5,201.7 L316.7,200.9 L316.9,199.9 L317.1,199.7 L317.4,198.8 L317.6,198.1 L317.9,198.0 L318.2,199.1 L318.4,201.3 L318.7,201.3 L319.0,201.0 L319.4,202.4 L319.9,202.9 L320.8,204.4 L321.7,203.2 L322.7,204.8 L323.7,203.3 L324.7,202.6 L325.6,201.9 L326.5,202.7 L327.5,201.3 L328.4,200.5 L329.3,201.2 L330.3,200.4 L331.1,200.8 L331.7,199.1 L332.3,196.1 L332.8,198.1 L333.3,195.1 L333.9,197.0 L334.4,196.4 L334.9,193.8 L335.5,192.3 L336.0,191.3 L336.5,192.2 L337.1,190.5 L337.5,189.3 L337.8,188.7 L338.1,189.6 L338.4,187.2 L338.7,186.6 L338.9,185.6 L339.2,184.9 L339.5,183.9 L339.8,181.5 L340.0,181.0 L340.3,179.6 L340.6,178.6 L340.9,179.2 L341.1,176.9 L341.4,176.3 L341.7,174.8 L342.0,173.9 L342.2,174.1 L342.4,172.1 L342.6,171.1 L342.7,170.9 L342.8,169.9 L342.9,169.1 L343.0,167.6 L343.1,165.1 L343.2,166.0 L343.3,164.9 L343.4,164.3 L343.5,161.8 L343.6,163.5 L343.7,159.5 L343.8,160.1 L343.9,158.5 L344.0,157.1 L344.1,157.2 L344.2,155.3 L344.3,152.6 L344.4,152.6 L344.5,152.9 L344.6,153.3 L344.7,149.3 L344.8,149.5 L344.9,149.7 L345.0,148.0 L345.1,146.2 L345.2,144.4 L345.3,143.1 L345.4,142.9 L345.5,142.2 L345.6,139.7 L345.6,139.2 L345.7,139.8 L345.8,138.2 L345.8,136.9 L345.9,136.2 L346.0,134.9 L346.0,135.3 L346.1,134.8 L346.2,134.2 L346.2,132.1 L346.3,131.1 L346.4,130.7 L346.4,129.9 L346.5,128.7 L346.6,127.5 L346.6,125.0 L346.7,123.2 L346.8,124.2 L346.8,122.4 L346.9,121.5 L347.0,119.8 L347.0,118.5 L347.1,119.6 L347.2,117.9 L347.3,115.7 L347.3,115.8 L347.4,114.8 L347.5,113.9 L347.6,114.3 L347.7,111.5 L347.7,109.5 L347.8,109.5 L347.9,108.0 L348.0,108.0 L348.0,106.7 L348.1,105.8 L348.2,104.2 L348.3,104.8 L348.3,104.6 L348.4,106.4 L348.4,106.7 L348.5,107.1 L348.6,109.4 L348.6,109.4 L348.7,112.1 L348.7,112.3 L348.8,113.4 L348.9,114.1 L348.9,114.9 L349.0,114.1 L349.0,118.0 L349.1,117.3 L349.1,119.8 L349.2,119.5 L349.3,120.9 L349.3,121.8 L349.4,122.2 L349.4,123.9 L349.5,125.4 L349.5,125.7 L349.6,126.0 L349.6,127.5 L349.7,129.2 L349.7,130.9 L349.8,131.7 L349.8,132.2 L349.8,132.2 L349.9,134.7 L349.9,135.0 L350.0,135.8 L350.0,137.8 L350.0,138.5 L350.1,139.4 L350.1,139.1 L350.2,140.5 L350.2,140.7 L350.3,143.2 L350.3,144.1 L350.3,145.8 L350.4,146.2 L350.4,146.7 L350.5,149.7 L350.5,148.2 L350.5,149.0 L350.6,150.6 L350.6,152.5 L350.7,152.8 L350.7,153.7 L350.8,154.2 L350.9,157.2 L351.0,156.5 L351.1,157.2 L351.3,158.9 L351.4,159.4 L351.5,160.8 L351.7,163.1 L351.8,162.7 L351.9,164.0 L352.0,164.7 L352.2,165.8 L352.3,167.6 L352.4,168.4 L352.5,168.7 L352.7,169.2 L352.8,170.9 L353.0,172.6 L353.3,172.8 L353.8,173.6 L354.3,173.1 L354.9,176.2 L355.4,175.1 L356.1,175.9 L356.8,176.9 L357.7,177.1 L358.7,176.8 L359.6,175.9 L360.6,176.0 L361.6,175.5 L362.5,174.3 L363.5,175.2 L364.5,174.7 L365.4,175.4 L366.4,175.0 L367.4,176.0 L368.4,175.9 L369.4,176.2 L370.4,176.5 L371.4,176.2 L372.4,175.4 L373.3,176.3 L374.2,174.0 L375.0,174.2 L375.9,174.4 L376.7,173.0 L377.6,173.3 L378.5,171.5 L379.3,171.3 L380.1,172.2 L380.9,172.7 L381.6,173.8 L382.3,173.5 L383.0,174.5 L383.7,175.4 L384.4,176.0 L385.2,175.1 L386.1,176.1 L387.1,177.9 L388.1,176.0 L389.0,177.8 L390.0,177.2 L391.0,178.5 L392.0,177.4 L392.9,178.3 L393.9,176.9 L394.9,178.5 L395.8,179.2 L396.7,176.7 L397.6,178.4 L398.5,176.4 L399.3,176.5 L400.0,173.6 L400.5,175.9 L400.9,173.4 L401.3,172.8 L401.8,171.3 L402.2,170.6 L402.6,171.4 L403.0,169.2 L403.4,169.4 L403.8,167.6 L404.2,167.1 L404.6,165.5 L405.1,165.4 L405.7,166.3 L406.4,164.1 L407.1,163.3 L407.9,161.8 L408.6,162.2 L409.3,161.8 L410.0,158.7 L410.7,158.3 L411.5,160.8 L412.4,159.5 L413.3,159.7 L414.2,160.4 L415.2,161.2 L416.1,161.3 L417.0,160.9 L417.8,163.3 L418.6,162.3 L419.3,162.3 L420.0,163.3 L420.7,164.3 L421.4,164.8 L422.1,165.7 L422.8,166.8 L423.5,164.6 L424.2,167.4 L425.0,169.4 L425.7,169.8 L426.4,169.5 L427.2,170.2 L428.0,172.2 L428.7,171.8 L429.5,172.2 L430.2,174.8 L431.0,173.7 L431.7,175.2 L432.5,175.3 L433.2,176.0 L434.0,175.9 L434.7,176.7 L435.3,179.1 L435.9,178.0 L436.4,180.0 L436.9,179.7 L437.4,181.3 L437.9,182.3 L438.4,181.9 L439.0,185.0 L439.5,184.8 L440.0,186.8 L440.5,185.9 L441.0,188.3 L441.5,190.3 L442.1,189.4 L442.6,189.6 L443.2,191.3 L443.9,191.8 L444.5,192.2 L445.2,193.1 L445.8,193.5 L446.4,195.1 L447.1,195.2 L447.7,195.6 L448.4,197.6 L449.2,197.2 L450.1,199.5 L451.1,197.1 L452.1,196.7 L453.1,196.7 L454.1,197.3 L455.1,196.3 L456.0,195.5 L457.0,197.4 L457.9,194.7 L458.8,196.5 L459.7,195.0 L460.6,193.6 L461.5,195.4 L462.4,193.5 L463.4,192.4 L464.3,192.9 L465.2,193.5 L466.1,192.6 L467.1,192.4 L468.0,192.8 L468.9,191.2 L469.9,191.0 L470.8,190.1 L471.8,188.8 L472.7,189.5 L473.6,190.6 L474.5,187.4 L475.3,189.3 L475.9,187.7 L476.5,185.9 L477.1,185.9 L477.7,186.5 L478.2,183.8 L478.8,184.0 L479.4,183.5 L480.0,181.1 L480.6,181.5 L481.1,180.5 L481.5,178.8 L481.8,178.8 L482.1,177.0 L482.5,175.9 L482.8,174.4 L483.1,174.8 L483.4,173.2 L483.7,172.1 L484.1,170.7 L484.4,169.6 L484.7,169.1 L485.0,169.3 L485.3,167.1 L485.6,168.0 L486.0,166.2 L486.3,165.1 L486.6,163.0 L487.0,164.6 L487.4,161.0 L487.8,161.6 L488.1,161.6 L488.5,159.2 L488.9,157.9 L489.3,157.5 L489.6,157.3 L490.0,156.7 L490.4,155.2 L490.7,152.9 L491.2,152.4 L491.8,152.3 L492.6,150.5 L493.4,150.8 L494.3,152.2 L495.1,149.0 L495.9,150.2 L496.7,148.0 L497.6,147.9 L498.4,147.5 L499.2,145.8 L500.0,146.3 L500.8,146.8 L501.6,145.7 L502.3,145.0 L503.1,143.2 L503.8,143.0 L504.6,142.7 L505.4,142.4 L506.1,142.3 L506.8,140.2 L507.5,142.6 L508.1,141.8 L508.7,142.6 L509.3,142.6 L509.9,144.4 L510.5,145.0 L511.1,145.1 L511.6,146.7 L512.0,147.9 L512.5,148.4 L512.9,150.2 L513.4,149.7 L513.8,152.1 L514.3,152.1 L514.7,153.5 L515.2,152.6 L515.6,155.1 L516.1,155.8 L516.5,157.5 L517.0,156.7 L517.4,159.6 L518.0,158.5 L518.5,161.3 L519.1,161.5 L519.7,161.2 L520.3,164.4 L520.9,162.5 L521.5,164.2 L522.0,165.3 L522.6,166.3 L523.2,166.9 L523.8,168.2 L524.5,168.7 L525.1,169.1 L525.8,169.1 L526.5,170.3 L527.1,172.0 L527.8,171.1 L528.5,172.9 L529.1,171.9 L529.8,173.4 L530.5,172.6 L531.3,174.3 L532.0,171.2 L532.8,171.8 L533.5,171.9 L534.3,171.2 L534.8,170.5 L535.2,169.9 L535.4,168.4 L535.6,167.7 L535.8,166.0 L536.1,165.1 L536.3,162.7 L536.5,163.3 L536.7,163.2 L536.9,160.6 L537.1,159.3 L537.3,159.3 L537.5,159.1 L537.7,158.2 L537.9,155.1 L538.2,155.6 L538.4,153.8 L538.6,153.5 L538.8,150.5 L539.0,152.1 L539.2,150.1 L539.5,149.6 L539.7,148.3 L539.9,146.6 L540.2,146.9 L540.4,145.1 L540.6,144.0 L540.9,144.1 L541.2,142.6 L541.6,141.2 L542.1,141.6 L542.5,140.2 L542.9,141.0 L543.2,142.5 L543.6,143.6 L543.9,144.8 L544.1,146.1 L544.2,145.8 L544.4,146.2 L544.5,149.1 L544.6,149.9 L544.7,149.6 L544.8,151.3 L545.0,151.5 L545.1,151.5 L545.2,154.6 L545.3,155.0 L545.5,155.9 L545.6,158.1 L545.7,158.9 L545.8,158.2 L545.9,158.9 L546.0,159.2 L546.1,161.7 L546.2,162.4 L546.3,164.0 L546.4,164.7 L546.5,165.2 L546.6,166.4 L546.7,166.5 L546.8,169.7 L546.9,169.3 L547.0,171.2 L547.2,171.2 L547.3,172.8 L547.4,174.2 L547.5,174.5 L547.7,175.0 L547.9,178.5 L548.1,177.5 L548.3,179.1 L548.5,179.5 L548.7,180.0 L549.0,182.6 L549.2,182.9 L549.4,183.8 L549.6,182.7 L549.9,185.7 L550.3,187.0 L551.0,187.2 L551.8,187.5 L552.6,189.1 L553.4,189.0 L554.2,189.9 L555.1,190.6 L556.0,190.8 L557.0,189.0 L558.0,190.4 L559.0,189.6 L560.0,188.6 L561.0,190.5 L562.0,189.0 L563.0,190.0 L564.0,188.4 L565.0,189.6 L566.0,190.1 L567.0,190.4 L568.0,189.9 L569.0,189.5 L570.0,189.4 L571.0,191.3 L571.7,189.6" fill="none" stroke="#d9541f" stroke-width="1.5" stroke-linejoin="round" stroke-linecap="round" />
<path d="M310.8,221.0 L311.4,221.2 L312.4,220.7 L313.3,219.9 L314.3,218.9 L315.2,219.9 L316.2,219.7 L317.1,218.3 L318.1,219.5 L319.1,218.6 L320.1,219.8 L321.1,219.0 L322.1,218.6 L323.1,219.2 L324.1,218.8 L325.1,218.7 L326.1,218.4 L327.0,218.0 L328.0,218.0 L328.9,217.8 L329.9,217.3 L330.8,217.5 L331.8,215.9 L332.6,215.8 L333.4,215.7 L334.1,214.2 L334.8,214.6 L335.5,213.5 L336.2,212.4 L336.9,212.0 L337.7,210.9 L338.3,209.8 L338.8,209.9 L339.2,209.0 L339.5,207.7 L339.9,206.7 L340.2,204.9 L340.5,204.5 L340.8,203.7 L341.2,203.0 L341.5,202.5 L341.8,200.8 L342.1,199.7 L342.5,199.5 L342.8,198.1 L343.0,196.6 L343.2,196.7 L343.3,194.8 L343.4,194.0 L343.6,192.8 L343.7,192.3 L343.8,191.6 L343.9,190.1 L344.1,189.4 L344.2,188.0 L344.3,188.2 L344.5,186.8 L344.6,185.0 L344.7,184.4 L344.9,183.6 L345.0,182.4 L345.1,180.9 L345.2,180.2 L345.4,179.5 L345.5,178.4 L345.6,176.9 L345.8,176.4 L345.9,174.9 L346.0,173.4 L346.1,173.3 L346.3,172.7 L346.4,171.5 L346.5,170.9 L346.6,170.0 L346.7,168.4 L346.9,167.0 L347.0,166.3 L347.1,164.7 L347.2,164.3 L347.3,163.3 L347.4,162.4 L347.5,161.7 L347.7,159.5 L347.8,159.6 L348.0,158.1 L348.1,157.7 L348.3,156.4 L348.5,154.9 L348.7,155.0 L348.8,154.2 L349.0,155.3 L349.2,155.9 L349.4,156.9 L349.6,158.1 L349.8,159.8 L350.0,160.3 L350.1,161.0 L350.2,162.7 L350.3,163.0 L350.4,163.9 L350.5,164.6 L350.6,166.1 L350.7,167.1 L350.8,167.8 L350.9,168.3 L351.0,170.0 L351.1,171.1 L351.2,171.9 L351.3,172.6 L351.4,173.6 L351.6,174.8 L351.7,176.6 L351.8,177.1 L351.9,177.4 L352.1,179.3 L352.2,179.8 L352.3,181.9 L352.4,181.9 L352.6,183.0 L352.7,184.1 L352.8,185.1 L352.9,186.0 L353.1,187.0 L353.2,187.9 L353.3,188.7 L353.4,189.8 L353.6,190.5 L353.7,191.7 L354.0,192.7 L354.3,193.7 L354.7,194.6 L355.0,195.7 L355.4,196.8 L355.8,197.5 L356.1,198.6 L356.5,199.6 L356.9,200.3 L357.3,201.2 L357.9,202.0 L358.8,201.4 L359.8,202.4 L360.8,202.0 L361.8,200.8 L362.8,202.6 L363.8,201.9 L364.8,202.9 L365.8,202.2 L366.8,202.6 L367.8,203.1 L368.8,202.7 L369.8,202.7 L370.8,203.2 L371.8,203.9 L372.8,203.9 L373.8,204.2 L374.7,203.7 L375.6,203.5 L376.5,203.2 L377.3,202.5 L378.2,201.4 L379.0,201.5 L379.8,200.8 L380.4,201.0 L381.0,202.1 L381.6,202.9 L382.1,204.1 L382.7,204.7 L383.2,205.2 L383.9,206.0 L384.7,206.2 L385.7,206.5 L386.7,207.3 L387.7,207.1 L388.7,207.0 L389.7,207.2 L390.7,207.2 L391.7,207.6 L392.7,207.2 L393.6,208.0 L394.6,207.5 L395.5,207.4 L396.4,207.1 L397.3,206.4 L398.2,205.4 L399.1,204.9 L400.0,205.3 L400.9,204.9 L401.8,203.5 L402.6,203.2 L403.4,203.3 L404.1,202.2 L404.8,202.3 L405.5,201.0 L406.2,200.4 L406.9,199.3 L407.6,198.5 L408.3,197.3 L409.0,196.1 L409.8,197.0 L410.6,196.4 L411.6,195.5 L412.5,195.8 L413.5,194.5 L414.4,195.4 L415.4,194.6 L416.3,194.8 L417.3,193.3 L418.3,194.6 L419.2,194.6 L420.2,194.6 L421.2,194.3 L422.2,195.1 L423.1,195.3 L424.1,195.2 L425.1,195.1 L426.1,195.5 L427.0,196.0 L427.9,197.1 L428.7,197.6 L429.6,198.4 L430.4,198.5 L431.2,198.3 L432.0,199.2 L432.8,199.6 L433.6,200.5 L434.5,201.8 L435.3,201.7 L436.0,202.3 L436.7,203.4 L437.3,204.3 L437.9,205.2 L438.5,205.2 L439.1,206.1 L439.6,207.1 L440.2,208.4 L440.8,209.0 L441.4,209.3 L442.0,211.3 L442.6,211.1 L443.3,212.0 L444.1,212.6 L444.8,213.0 L445.5,214.0 L446.3,214.7 L447.0,215.5 L447.8,216.2 L448.5,216.4 L449.4,216.6 L450.4,217.4 L451.4,216.9 L452.4,217.4 L453.4,217.2 L454.4,218.1 L455.4,217.0 L456.4,216.3 L457.4,216.8 L458.4,217.2 L459.4,217.3 L460.4,217.0 L461.3,216.3 L462.3,216.4 L463.3,215.1 L464.2,215.0 L465.2,214.6 L466.2,215.0 L467.2,215.0 L468.1,214.3 L469.1,214.2 L470.0,213.5 L470.9,213.1 L471.8,212.8 L472.7,212.8 L473.6,211.9 L474.4,211.4 L475.3,211.2 L476.2,210.5 L477.0,209.5 L477.9,209.9 L478.6,208.5 L479.2,207.8 L479.5,206.8 L479.9,206.2 L480.3,204.9 L480.7,204.2 L481.1,203.8 L481.5,201.9 L481.9,200.6 L482.2,200.9 L482.6,199.6 L483.0,198.8 L483.4,197.9 L483.8,196.5 L484.2,195.8 L484.6,194.1 L485.0,193.9 L485.4,193.0 L485.8,191.6 L486.2,190.8 L486.6,190.2 L487.0,189.4 L487.4,188.3 L487.8,188.0 L488.2,186.8 L488.6,185.9 L489.0,184.0 L489.4,183.6 L490.0,183.1 L490.7,182.3 L491.6,182.3 L492.6,181.8 L493.5,181.6 L494.4,182.2 L495.3,182.7 L496.2,183.1 L497.0,183.7 L497.9,184.6 L498.7,184.9 L499.6,185.6 L500.5,186.0 L501.3,185.9 L502.2,185.5 L503.0,185.8 L503.8,184.6 L504.6,184.3 L505.5,183.1 L506.3,182.3 L507.2,182.0 L508.0,182.3 L508.9,182.2 L509.8,183.4 L510.7,183.4 L511.4,184.1 L512.0,185.7 L512.4,185.8 L512.9,186.6 L513.4,188.7 L513.9,188.7 L514.4,189.5 L514.9,190.1 L515.4,191.7 L515.9,192.5 L516.3,192.0 L516.8,193.8 L517.4,194.8 L518.0,195.7 L518.6,195.7 L519.3,196.9 L520.0,198.4 L520.7,198.9 L521.4,198.8 L522.1,200.0 L522.7,200.3 L523.4,201.7 L524.1,200.9 L524.9,203.1 L525.7,203.4 L526.5,204.3 L527.4,203.8 L528.3,204.7 L529.2,204.8 L530.1,205.9 L531.0,206.0 L531.9,206.6 L532.7,205.7 L533.6,204.0 L534.4,204.5 L535.3,203.9 L536.2,203.8 L536.9,203.0 L537.6,201.7 L538.0,201.1 L538.4,200.7 L538.7,199.0 L539.1,198.4 L539.4,197.0 L539.8,196.9 L540.1,196.0 L540.5,194.6 L540.8,193.3 L541.2,192.5 L541.7,191.8 L542.1,190.8 L542.6,190.2 L543.1,188.6 L543.6,188.2 L544.0,188.5 L544.3,190.0 L544.7,190.1 L545.0,191.6 L545.3,192.8 L545.7,192.8 L546.0,193.6 L546.3,194.6 L546.5,196.5 L546.7,197.4 L546.9,198.1 L547.2,198.8 L547.4,200.2 L547.6,200.6 L547.8,202.3 L548.0,203.1 L548.2,204.1 L548.4,205.7 L548.7,205.7 L548.9,206.6 L549.1,208.2 L549.3,209.5 L549.7,209.5 L550.3,210.2 L551.1,211.2 L551.8,212.1 L552.6,212.2 L553.4,213.6 L554.2,214.7 L555.0,214.2 L555.9,214.3 L556.9,215.4 L557.9,214.0 L558.9,215.1 L560.0,215.0 L561.0,214.1 L562.0,215.0 L563.0,215.3 L564.0,214.6 L565.0,213.8 L566.0,214.5 L567.0,215.6 L568.0,214.4 L569.0,215.3 L570.0,214.4 L571.0,214.7 L571.7,214.7" fill="none" stroke="#3fdc3a" stroke-width="1.65" stroke-linejoin="round" stroke-linecap="round" />
</g>
<text x="370" y="99" font-size="17" fill="#111" stroke="#111" stroke-width="0.25" text-anchor="start" textLength="58" lengthAdjust="spacingAndGlyphs" >785 nm</text>
<text x="366.2" y="150" font-size="17" fill="#111" stroke="#111" stroke-width="0.25" text-anchor="start" textLength="58" lengthAdjust="spacingAndGlyphs" >633 nm</text>
<text x="366.2" y="197.5" font-size="17" fill="#111" stroke="#111" stroke-width="0.25" text-anchor="start" textLength="58" lengthAdjust="spacingAndGlyphs" >514 nm</text>
<rect x="586.2" y="26" width="268.29999999999995" height="210" fill="#fff" stroke="#5a5a5a" stroke-width="1.2"/>
<line x1="617.25" y1="236" x2="617.25" y2="239" stroke="#5a5a5a" stroke-width="1.1"/>
<line x1="650.0" y1="236" x2="650.0" y2="241" stroke="#5a5a5a" stroke-width="1.1"/>
<line x1="682.75" y1="236" x2="682.75" y2="239" stroke="#5a5a5a" stroke-width="1.1"/>
<line x1="715.5" y1="236" x2="715.5" y2="241" stroke="#5a5a5a" stroke-width="1.1"/>
<line x1="748.25" y1="236" x2="748.25" y2="239" stroke="#5a5a5a" stroke-width="1.1"/>
<line x1="781.0" y1="236" x2="781.0" y2="241" stroke="#5a5a5a" stroke-width="1.1"/>
<line x1="813.75" y1="236" x2="813.75" y2="239" stroke="#5a5a5a" stroke-width="1.1"/>
<line x1="846.5" y1="236" x2="846.5" y2="241" stroke="#5a5a5a" stroke-width="1.1"/>
<text transform="translate(650.0,260) scale(1,1.12)" font-size="14.6" fill="#111" stroke="#111" stroke-width="0.25" text-anchor="middle" >200</text>
<text transform="translate(715.5,260) scale(1,1.12)" font-size="14.6" fill="#111" stroke="#111" stroke-width="0.25" text-anchor="middle" >300</text>
<text transform="translate(781.0,260) scale(1,1.12)" font-size="14.6" fill="#111" stroke="#111" stroke-width="0.25" text-anchor="middle" >400</text>
<text transform="translate(846.5,260) scale(1,1.12)" font-size="14.6" fill="#111" stroke="#111" stroke-width="0.25" text-anchor="middle" >500</text>
<text transform="translate(668.7,280) scale(1,1.11)" font-size="15.5" fill="#111" stroke="#111" stroke-width="0.25" text-anchor="start" textLength="86.8" lengthAdjust="spacingAndGlyphs" >Raman Shift</text>
<text transform="translate(765,280) scale(1,1.11)" font-size="15.5" fill="#111" stroke="#111" stroke-width="0.25" text-anchor="start" textLength="20.7" lengthAdjust="spacingAndGlyphs" >cm</text>
<text x="794" y="272" font-size="9.5" fill="#111" stroke="#111" stroke-width="0.25" text-anchor="start" >-1</text>
<line x1="612" y1="37" x2="612" y2="73" stroke="#222" stroke-width="1.4"/>
<text x="616" y="52" font-size="17" fill="#111" stroke="#111" stroke-width="0.25" text-anchor="start" >10</text>
<text x="635.5" y="45" font-size="8.5" fill="#111" stroke="#111" stroke-width="0.25" text-anchor="start" >4</text>
<text x="643" y="52" font-size="17" fill="#111" stroke="#111" stroke-width="0.25" text-anchor="start" textLength="88" lengthAdjust="spacingAndGlyphs" >counts/mW</text>
<rect x="776.3" y="31.5" width="73.5" height="32.8" fill="#fff" stroke="#5a5a5a" stroke-width="1.1"/>
<text x="791.2" y="56.8" font-size="23.5" fill="#111" stroke="#111" stroke-width="0.25" text-anchor="start" textLength="45.5" lengthAdjust="spacingAndGlyphs" >63 x</text>
<g clip-path="url(#cc)">
<path d="M590.3,225.1 L591.0,224.3 L592.0,224.5 L593.0,224.6 L594.0,224.2 L595.0,224.5 L596.0,224.5 L597.0,223.9 L598.0,224.9 L599.0,224.7 L600.0,224.3 L601.0,224.4 L602.0,224.7 L603.0,224.4 L604.1,224.4 L605.1,224.0 L606.1,224.7 L607.1,224.5 L608.1,224.6 L609.1,224.0 L610.1,225.1 L611.1,224.6 L612.1,224.4 L613.1,225.2 L614.1,224.5 L615.1,224.0 L616.1,224.4 L617.1,223.8 L618.1,225.0 L619.1,224.5 L620.1,224.4 L621.1,225.0 L622.1,224.1 L623.1,224.9 L624.1,224.0 L625.1,224.5 L626.1,224.4 L627.1,225.3 L628.1,225.4 L629.1,224.7 L630.1,225.1 L631.1,224.8 L632.1,225.1 L633.2,224.6 L634.2,224.3 L635.2,224.3 L636.2,225.1 L637.2,225.7 L638.2,225.0 L639.2,224.6 L640.2,225.3 L641.2,224.6 L642.1,224.5 L643.1,224.4 L644.1,224.1 L645.1,223.9 L646.1,223.4 L647.1,224.0 L648.1,223.7 L649.1,224.1 L650.1,223.5 L651.1,222.9 L652.1,223.4 L653.1,224.0 L654.1,223.2 L655.1,223.0 L656.1,222.8 L657.1,222.8 L658.1,223.0 L659.1,222.6 L660.1,223.3 L661.0,222.3 L661.8,221.8 L662.6,221.7 L663.4,221.2 L664.3,220.0 L665.1,219.6 L666.0,219.3 L666.9,218.8 L667.9,218.1 L668.9,219.0 L669.9,219.1 L670.9,218.9 L671.9,218.4 L672.9,218.7 L673.9,218.5 L674.9,218.6 L675.9,219.2 L676.9,219.3 L677.9,219.0 L678.9,218.9 L679.9,219.0 L680.9,218.7 L681.9,218.6 L682.9,218.3 L683.9,218.4 L684.9,219.1 L685.9,218.6 L686.9,218.1 L687.9,217.9 L688.9,217.7 L689.9,218.1 L690.9,218.0 L691.9,217.3 L692.9,217.8 L693.9,217.4 L694.9,218.0 L695.9,217.4 L696.9,217.7 L697.9,216.8 L698.9,216.6 L699.8,216.6 L700.8,216.7 L701.8,216.3 L702.8,215.5 L703.8,215.8 L704.8,215.6 L705.7,215.2 L706.7,214.9 L707.6,215.4 L708.5,214.2 L709.4,213.5 L710.2,213.5 L711.1,212.8 L711.9,212.2 L712.8,211.9 L713.6,211.2 L714.4,210.6 L715.2,210.2 L716.0,209.4 L716.8,208.9 L717.5,209.2 L718.2,209.8 L718.9,210.8 L719.5,211.1 L720.2,211.5 L721.0,212.9 L721.7,213.0 L722.5,213.4 L723.3,214.9 L724.1,215.1 L724.9,216.1 L725.8,216.1 L726.8,216.2 L727.7,216.5 L728.7,217.0 L729.7,217.4 L730.6,217.5 L731.6,218.0 L732.5,217.9 L733.5,218.7 L734.4,218.4 L735.4,219.2 L736.4,219.7 L737.4,220.1 L738.4,220.5 L739.3,219.5 L740.3,220.5 L741.3,220.9 L742.3,221.0 L743.3,220.5 L744.3,221.2 L745.3,221.9 L746.2,220.9 L747.2,221.8 L748.2,222.2 L749.2,221.8 L750.2,222.4 L751.2,222.0 L752.2,222.2 L753.2,222.3 L754.2,222.7 L755.2,222.7 L756.2,223.2 L757.2,222.7 L758.2,223.1 L759.2,223.6 L760.1,223.5 L761.1,223.0 L762.1,223.8 L763.1,223.5 L764.1,223.9 L765.1,224.0 L766.1,224.4 L767.1,224.2 L768.1,223.6 L769.1,223.9 L770.1,224.7 L771.1,224.5 L772.1,225.1 L773.1,224.9 L774.1,224.6 L775.1,225.4 L776.1,224.8 L777.1,224.5 L778.1,226.0 L779.1,224.7 L780.1,225.6 L781.1,225.8 L782.1,225.6 L783.1,225.1 L784.1,226.1 L785.1,225.3 L786.1,225.4 L787.1,225.8 L788.1,226.3 L789.1,226.2 L790.1,226.4 L791.1,225.9 L792.1,225.9 L793.1,225.5 L794.1,225.7 L795.1,225.9 L796.1,225.5 L797.1,225.8 L798.1,225.5 L799.1,225.7 L800.0,226.2 L801.0,226.3 L802.0,226.8 L803.0,226.9 L804.0,227.7 L804.9,227.3 L805.8,227.7 L806.7,227.8 L807.6,228.7 L808.5,229.3 L809.4,229.3 L810.3,230.0 L811.2,230.7 L812.1,230.8 L813.1,231.0 L814.0,231.9 L815.0,231.9 L815.9,232.3 L816.9,232.9 L817.8,233.2 L818.8,233.0 L819.7,233.3 L820.7,233.8 L821.6,233.6 L822.6,232.7 L823.5,233.5 L824.4,232.7 L825.4,232.6 L826.3,231.6 L827.3,232.1 L828.2,231.2 L829.2,231.0 L830.2,230.3 L831.1,230.4 L832.1,230.1 L833.0,229.8 L834.0,229.8 L835.0,229.4 L835.9,229.4 L836.9,228.6 L837.8,228.1 L838.7,227.9 L839.4,227.5 L840.1,227.0 L840.8,226.2 L841.6,224.6 L842.3,224.6 L842.9,224.3 L843.4,222.9 L843.7,221.8 L844.0,221.1 L844.2,219.9 L844.5,219.3 L844.8,218.1 L845.0,217.6 L845.3,216.3 L845.5,214.9 L845.8,214.4 L846.1,213.6 L846.3,212.1 L846.6,211.2 L846.8,209.5 L847.0,209.7 L847.1,208.2 L847.2,206.6 L847.3,205.7 L847.4,205.3 L847.5,204.6 L847.5,203.3 L847.6,202.5 L847.7,201.0 L847.8,199.9 L847.9,199.7 L848.0,198.5 L848.0,197.4 L848.1,196.8 L848.2,195.0 L848.3,194.2 L848.4,193.7 L848.5,193.0 L848.5,191.4 L848.6,190.9 L848.7,189.2 L848.8,188.5 L848.9,187.3 L849.0,185.8 L849.0,185.5 L849.1,184.7 L849.2,183.3 L849.3,182.3 L849.4,181.8 L849.5,179.9 L849.5,178.8 L849.6,178.1 L849.7,176.9 L849.8,176.8 L849.9,175.5 L849.9,174.1 L850.0,173.1 L850.1,173.4 L850.2,171.1 L850.3,170.1 L850.3,169.5 L850.4,168.6 L850.5,167.4 L850.6,166.0 L850.7,164.9 L850.7,164.6 L850.8,163.3 L850.9,161.8 L851.0,161.8 L851.1,160.6 L851.1,159.3 L851.2,158.3 L851.3,157.4 L851.4,156.1 L851.5,154.9 L851.5,154.5 L851.6,152.8 L851.6,152.5 L851.7,150.8 L851.7,150.3 L851.7,149.3 L851.8,149.0 L851.8,147.0 L851.9,145.8 L851.9,145.1 L852.0,143.9 L852.0,143.1 L852.0,142.5 L852.1,141.6 L852.1,140.9 L852.2,139.1 L852.2,139.2 L852.3,138.0 L852.3,136.2 L852.3,134.5 L852.4,134.3 L852.4,133.3 L852.5,131.5 L852.5,131.3 L852.6,130.2 L852.6,129.0 L852.6,128.5 L852.7,127.6 L852.7,126.1 L852.8,125.4 L852.8,124.0 L852.9,123.0 L852.9,122.3 L852.9,121.4 L853.0,120.1 L853.0,118.5 L853.0,118.5 L853.0,116.7 L853.0,116.3 L853.0,115.9 L853.1,114.2 L853.1,112.8 L853.1,111.7 L853.1,111.6 L853.1,110.2 L853.1,109.4 L853.1,108.5 L853.1,107.2 L853.1,106.1 L853.1,104.9 L853.1,103.1 L853.2,102.7 L853.2,102.2 L853.2,101.1 L853.2,100.3 L853.2,99.1 L853.2,98.2 L853.2,97.5 L853.2,95.9 L853.2,95.1 L853.2,93.6 L853.3,93.5 L853.3,92.2 L853.3,91.3 L853.3,90.7 L853.3,89.5 L853.3,88.1 L853.3,87.4 L853.3,85.6 L853.3,85.3 L853.3,84.2 L853.3,82.6 L853.4,82.6 L853.4,80.9 L853.4,80.4 L853.4,79.0 L853.4,78.5 L853.4,77.6 L853.4,75.8 L853.4,74.6 L853.4,74.0 L853.4,73.4 L853.4,72.0 L853.5,70.9 L853.5,70.2 L853.5,68.1 L853.5,67.8 L853.5,66.6 L853.5,66.2 L853.5,64.8 L853.5,63.7 L853.5,62.9 L853.5,61.5 L853.6,61.0 L853.6,59.8 L853.6,58.9 L853.6,57.8 L853.6,57.4 L853.6,56.0 L853.6,55.2 L853.6,54.2 L853.6,52.7 L853.7,52.2 L853.7,51.1 L853.7,50.1 L853.7,48.9 L853.7,48.2" fill="none" stroke="#3fdc3a" stroke-width="1.65" stroke-linejoin="round" stroke-linecap="round" />
<path d="M598.8,120.1 L599.4,121.3 L600.6,118.7 L601.8,119.6 L603.1,119.1 L604.4,124.1 L605.6,123.8 L606.9,124.5 L608.1,123.0 L609.3,122.7 L610.6,120.1 L611.8,122.7 L613.0,119.5 L614.3,120.1 L615.6,120.5 L616.9,120.2 L618.2,122.0 L619.5,121.1 L620.8,121.4 L622.1,121.4 L623.4,123.2 L624.7,121.3 L625.8,121.3 L627.0,121.3 L628.1,118.5 L629.2,119.0 L630.3,119.3 L631.4,119.3 L632.5,117.6 L633.5,115.9 L634.4,117.1 L635.3,114.5 L636.2,113.8 L637.2,113.0 L638.1,111.9 L639.0,110.5 L639.8,110.5 L640.4,107.7 L640.8,107.1 L641.3,106.0 L641.7,104.3 L642.2,104.0 L642.6,102.9 L643.0,101.6 L643.5,100.1 L643.9,99.6 L644.4,99.5 L644.8,97.6 L645.2,92.2 L645.7,95.3 L646.1,91.0 L646.5,89.9 L646.8,90.5 L647.1,87.8 L647.5,89.4 L647.8,87.3 L648.1,84.5 L648.4,82.4 L648.8,83.1 L649.1,82.8 L649.4,80.4 L649.8,80.9 L650.2,78.3 L650.6,77.4 L651.1,75.0 L651.5,74.5 L651.9,72.9 L652.2,71.5 L652.6,77.1 L652.9,75.8 L653.3,77.3 L653.6,79.8 L653.9,79.8 L654.2,81.2 L654.4,82.7 L654.6,82.4 L654.9,86.4 L655.1,86.5 L655.3,86.8 L655.6,89.6 L655.8,90.3 L656.0,90.3 L656.3,92.7 L656.7,93.8 L657.1,95.4 L657.5,96.6 L657.9,98.2 L658.3,97.5 L658.7,100.0 L659.2,100.3 L659.6,103.0 L660.2,102.0 L661.2,101.4 L662.5,102.9 L663.8,105.7 L665.1,104.1 L666.4,102.8 L667.7,105.0 L669.0,102.3 L670.3,102.3 L671.6,103.4 L672.9,102.8 L674.2,102.4 L675.5,102.0 L676.8,102.4 L678.1,103.6 L679.4,101.2 L680.7,102.0 L681.9,104.4 L683.2,106.0 L684.4,102.0 L685.7,104.6 L686.9,106.2 L688.2,104.7 L689.4,104.8 L690.7,106.9 L691.9,105.5 L693.2,105.3 L694.4,105.0 L695.7,103.8 L696.9,102.4 L698.1,105.5 L699.4,105.6 L700.4,103.5 L701.3,102.1 L702.1,101.8 L703.0,100.1 L703.8,97.5 L704.7,97.1 L705.5,97.7 L706.4,95.9 L707.2,93.8 L708.2,93.0 L709.2,94.6 L710.2,91.3 L711.2,93.2 L712.2,91.7 L713.1,89.2 L713.9,88.9 L714.7,88.3 L715.5,87.5 L716.2,87.1 L716.8,89.0 L717.3,89.8 L717.7,89.5 L718.2,91.1 L718.6,91.6 L719.0,93.2 L719.4,95.1 L719.8,93.9 L720.3,97.5 L721.0,98.5 L721.7,99.4 L722.3,99.4 L723.0,101.3 L723.7,102.2 L724.4,104.0 L725.2,102.7 L726.1,105.7 L727.0,107.5 L727.9,107.0 L728.8,107.9 L729.8,110.5 L730.7,113.3 L731.6,112.2 L732.5,113.2 L733.4,113.5 L734.3,115.2 L735.2,116.0 L736.0,115.5 L736.9,117.6 L738.0,118.2 L739.1,116.0 L740.3,116.5 L741.5,116.8 L742.7,116.0 L743.8,114.4 L744.9,115.8 L745.9,113.9 L746.9,111.8 L747.8,109.2 L748.8,110.0 L749.8,109.5 L750.8,108.2 L751.7,107.7 L752.7,108.4 L753.7,106.7 L754.8,106.6 L755.9,103.2 L757.1,104.0 L758.2,104.7 L759.4,102.0 L760.5,104.1 L761.7,100.3 L762.9,100.9 L764.0,103.7 L765.2,100.6 L766.3,104.2 L767.5,102.7 L768.7,103.4 L769.8,105.2 L770.9,105.8 L771.9,107.3 L772.8,107.5 L773.7,108.3 L774.6,108.3 L775.5,110.7 L776.5,108.9 L777.4,112.9 L778.3,113.4 L779.2,115.5 L780.2,116.4 L781.2,114.5 L782.2,117.3 L783.2,116.8 L784.1,117.9 L785.1,120.0 L786.1,120.6 L787.1,121.4 L788.1,121.7 L789.1,122.9 L790.1,122.4 L791.1,123.7 L792.1,125.8 L793.1,124.9 L794.0,126.3 L795.0,128.6 L795.9,128.7 L796.9,128.8 L797.9,130.8 L798.8,132.7 L799.8,131.3 L800.7,131.7 L801.6,134.3 L802.5,134.2 L803.4,135.7 L804.3,136.4 L805.2,137.0 L806.1,138.8 L807.0,140.0 L807.7,139.8 L808.4,143.0 L809.1,144.4 L809.7,144.0 L810.4,145.5 L811.1,147.9 L811.7,146.2 L812.4,147.6 L813.1,149.4 L813.7,150.9 L814.4,152.6 L815.0,153.4 L815.6,152.5 L816.2,156.6 L816.8,157.9 L817.4,156.9 L817.9,159.5 L818.5,159.5 L819.1,160.9 L819.7,161.8 L820.4,165.2 L821.1,163.8 L821.8,165.8 L822.4,167.5 L823.1,167.1 L824.2,168.4 L825.4,168.7 L826.7,170.7 L828.0,167.9 L829.3,169.4 L830.6,169.8 L831.9,169.5 L833.2,171.1 L834.5,169.7 L835.8,169.2 L837.1,170.4 L838.4,170.7 L839.7,168.6 L841.0,170.1 L842.3,169.7 L843.6,168.7 L844.5,167.3 L844.9,167.8 L845.2,166.3 L845.5,163.5 L845.8,162.6 L846.1,163.6 L846.4,159.9" fill="none" stroke="#d9541f" stroke-width="1.5" stroke-linejoin="round" stroke-linecap="round" />
<path d="M586.5,164.7 L586.6,163.9 L586.6,162.6 L586.7,162.0 L586.8,160.9 L586.8,159.8 L586.9,158.5 L587.0,157.8 L587.0,156.9 L587.1,155.8 L587.2,155.2 L587.2,154.6 L587.3,153.1 L587.4,152.2 L587.4,151.6 L587.6,150.1 L587.7,149.5 L588.0,147.7 L588.2,147.0 L588.5,146.5 L588.7,145.3 L589.0,144.1 L589.2,143.5 L589.5,142.3 L589.7,141.4 L589.9,140.1 L590.2,139.3 L590.4,138.4 L590.7,137.1 L590.9,135.6 L591.2,135.4 L591.6,135.4 L592.1,132.7 L592.7,132.5 L593.3,131.9 L593.8,131.2 L594.4,130.7 L594.9,129.8 L595.5,129.1 L596.0,128.3 L596.3,126.6 L596.4,125.8 L596.5,124.7 L596.6,124.0 L596.7,122.7 L596.8,121.5 L596.9,121.5 L597.0,119.8 L597.1,118.7 L597.2,118.2 L597.3,116.5 L597.4,115.7 L597.5,114.6 L597.6,113.2 L597.7,112.0 L597.8,111.9 L597.9,110.7 L598.0,109.7 L598.1,109.2 L598.2,107.6 L598.3,107.5 L598.4,105.3 L598.4,103.9 L598.5,103.8 L598.6,103.0 L598.6,102.5 L598.7,100.7 L598.8,99.7 L598.8,98.8 L598.9,98.7 L599.0,96.2 L599.0,96.0 L599.1,94.9 L599.2,93.5 L599.3,92.7 L599.3,91.9 L599.4,90.6 L599.5,89.9 L599.5,89.1 L599.6,88.1 L599.7,86.7 L599.7,85.8 L599.8,84.9 L599.9,84.2 L599.9,83.0 L600.0,83.1 L600.1,83.3 L600.1,83.6 L600.2,85.5 L600.3,85.9 L600.4,87.3 L600.4,88.1 L600.5,89.5 L600.6,90.2 L600.6,91.2 L600.7,91.6 L600.8,93.6 L600.8,94.2 L600.9,95.0 L601.0,96.6 L601.0,97.4 L601.1,98.2 L601.2,99.3 L601.2,100.2 L601.3,100.8 L601.4,101.7 L601.5,103.5 L601.5,104.5 L601.6,105.4 L601.7,106.3 L601.7,107.5 L601.8,108.6 L601.9,109.3 L602.0,110.5 L602.1,111.5 L602.2,112.0 L602.4,113.4 L602.5,113.8 L602.6,114.4 L602.7,116.4 L602.8,117.0 L602.9,118.8 L603.0,118.7 L603.1,120.5 L603.2,121.1 L603.3,122.2 L603.4,122.8 L603.5,125.0 L603.6,125.0 L603.9,126.7 L604.5,126.8 L605.2,127.0 L606.0,127.8 L606.8,129.1 L607.6,129.1 L608.4,130.0 L609.1,131.1 L610.0,131.3 L610.9,130.8 L611.9,130.9 L612.9,131.4 L613.9,130.6 L614.9,131.0 L615.9,130.6 L616.9,130.0 L617.9,130.4 L618.9,129.9 L619.9,130.0 L620.9,129.5 L621.8,129.9 L622.8,129.4 L623.8,129.6 L624.8,128.7 L625.8,128.8 L626.8,129.0 L627.7,128.9 L628.7,128.6 L629.7,128.4 L630.7,127.6 L631.7,127.8 L632.7,127.7 L633.7,127.4 L634.7,127.5 L635.7,127.0 L636.7,127.3 L637.6,126.8 L638.6,126.4 L639.6,126.1 L640.6,126.9 L641.6,125.9 L642.5,125.7 L643.4,125.0 L644.2,125.7 L645.0,125.0 L645.8,123.5 L646.6,122.5 L647.3,122.2 L647.8,121.4 L648.3,120.6 L648.6,120.0 L649.0,118.5 L649.4,117.9 L649.8,117.2 L650.2,116.3 L650.6,115.3 L651.0,114.3 L651.4,114.4 L651.8,115.3 L652.2,115.5 L652.6,117.2 L653.0,117.7 L653.4,119.1 L653.8,119.0 L654.2,120.7 L654.6,121.3 L655.0,122.8 L655.6,123.2 L656.2,123.7 L656.8,125.1 L657.5,125.3 L658.1,126.0 L658.7,126.8 L659.3,127.6 L660.1,128.2 L661.0,128.6 L661.9,129.4 L662.9,129.6 L663.9,129.8 L664.9,130.2 L665.9,129.9 L666.9,129.8 L667.9,129.6 L668.9,130.1 L669.9,130.4 L670.8,131.0 L671.8,130.5 L672.8,131.4 L673.8,131.6 L674.8,131.1 L675.8,131.2 L676.8,131.4 L677.8,131.1 L678.8,131.1 L679.8,131.3 L680.8,131.8 L681.8,130.9 L682.8,132.0 L683.8,132.3 L684.8,132.3 L685.8,132.5 L686.8,131.4 L687.8,131.5 L688.8,132.3 L689.8,131.8 L690.8,131.9 L691.8,131.4 L692.8,131.4 L693.8,130.6 L694.8,130.7 L695.8,131.0 L696.7,130.6 L697.7,130.3 L698.7,130.5 L699.7,129.7 L700.6,129.1 L701.5,128.9 L702.4,128.7 L703.3,128.9 L704.2,127.5 L705.1,127.7 L706.0,127.2 L706.9,126.8 L707.8,126.6 L708.7,125.6 L709.6,125.5 L710.5,124.3 L711.3,124.5 L712.1,123.7 L713.0,122.6 L713.8,121.6 L714.6,121.8 L715.5,121.2 L716.2,122.0 L716.8,122.5 L717.2,122.2 L717.7,123.8 L718.2,124.3 L718.7,125.1 L719.2,125.6 L719.7,126.8 L720.2,127.9 L720.7,128.4 L721.2,129.8 L721.7,130.4 L722.2,131.9 L722.8,132.4 L723.3,133.1 L723.8,133.9 L724.3,134.6 L724.8,135.9 L725.3,136.2 L725.9,137.5 L726.4,138.1 L726.9,139.1 L727.5,140.5 L728.1,140.8 L728.8,141.6 L729.5,141.9 L730.2,142.7 L730.9,143.5 L731.6,143.9 L732.3,144.5 L733.1,145.6 L733.8,146.7 L734.5,146.5 L735.3,147.6 L736.2,147.7 L737.1,148.5 L738.0,148.9 L738.9,148.7 L739.9,149.1 L740.8,149.9 L741.7,149.7 L742.7,149.4 L743.6,149.1 L744.5,148.8 L745.4,148.9 L746.4,147.9 L747.3,147.4 L748.2,146.9 L749.1,147.2 L750.1,146.7 L751.1,145.8 L752.0,145.5 L753.0,145.3 L754.0,145.8 L755.0,145.6 L756.0,145.1 L757.0,144.2 L757.9,144.2 L758.9,144.9 L759.8,145.0 L760.7,145.4 L761.7,145.8 L762.6,146.1 L763.5,146.8 L764.4,147.0 L765.3,146.9 L766.2,147.7 L767.1,148.5 L768.0,148.7 L768.9,149.6 L769.7,150.5 L770.6,149.9 L771.4,152.1 L772.3,151.3 L773.1,151.9 L774.0,152.7 L774.8,152.6 L775.7,153.6 L776.5,154.1 L777.4,154.4 L778.2,155.3 L779.1,155.5 L779.9,156.2 L780.8,156.2 L781.6,157.5 L782.4,158.2 L783.3,159.1 L784.1,158.8 L784.9,159.8 L785.8,160.1 L786.6,161.0 L787.4,160.7 L788.3,161.6 L789.1,162.4 L790.0,163.5 L790.8,162.8 L791.8,164.0 L792.7,164.2 L793.6,164.8 L794.5,164.8 L795.4,164.9 L796.3,166.3 L797.2,165.9 L798.2,166.8 L799.1,166.8 L799.9,167.8 L800.7,168.7 L801.4,169.0 L802.2,169.4 L803.0,170.2 L803.7,171.0 L804.5,171.0 L805.2,172.4 L806.0,172.9 L806.7,173.4 L807.5,174.4 L808.3,175.0 L809.0,175.5 L809.8,176.1 L810.5,176.7 L811.2,177.7 L811.9,178.9 L812.6,179.2 L813.3,180.0 L814.0,180.0 L814.7,180.6 L815.4,182.1 L816.1,182.4 L816.8,183.7 L817.5,183.9 L818.2,184.7 L819.0,185.6 L819.7,185.9 L820.5,185.9 L821.4,187.6 L822.3,187.6 L823.1,188.4 L824.0,188.5 L824.8,189.1 L825.7,189.7 L826.6,190.5 L827.4,190.9 L828.3,190.7 L829.1,192.0 L830.0,192.4 L830.9,192.8 L831.7,193.7 L832.6,193.2 L833.4,194.5 L834.3,194.9 L835.1,195.7 L836.0,196.2 L836.8,196.9 L837.7,196.7 L838.5,198.0 L839.4,197.7 L840.2,198.7 L841.1,199.1 L842.0,199.9 L842.9,200.1 L843.8,200.7 L844.7,201.1 L845.6,201.2 L846.5,201.7 L847.2,201.2 L847.8,199.8 L848.2,199.2 L848.7,198.4 L849.2,197.7 L849.5,196.7 L849.7,196.1 L849.8,194.7 L850.0,194.2 L850.1,193.0 L850.3,191.3 L850.4,190.9 L850.6,189.7 L850.7,189.1 L850.8,188.5 L851.0,186.4 L851.1,185.8 L851.3,185.7 L851.4,183.5 L851.5,183.2 L851.7,181.3 L851.8,180.9 L852.0,179.8 L852.1,178.5 L852.2,177.6 L852.3,177.3 L852.3,175.9 L852.4,175.5 L852.5,173.7 L852.6,172.8 L852.7,172.5 L852.8,171.7 L852.9,170.3 L853.0,169.1 L853.1,168.2 L853.2,167.0 L853.3,166.8 L853.3,165.4 L853.4,163.7 L853.5,163.5 L853.6,161.9 L853.7,161.0 L853.8,160.5" fill="none" stroke="#5c1420" stroke-width="1.5" stroke-linejoin="round" stroke-linecap="round" />
</g>
<text x="777.8" y="107.5" font-size="17" fill="#111" stroke="#111" stroke-width="0.25" text-anchor="start" textLength="58.5" lengthAdjust="spacingAndGlyphs" >633 nm</text>
<text x="735" y="179" font-size="17" fill="#111" stroke="#111" stroke-width="0.25" text-anchor="start" textLength="58" lengthAdjust="spacingAndGlyphs" >785 nm</text>
<text x="743" y="215" font-size="17" fill="#111" stroke="#111" stroke-width="0.25" text-anchor="start" textLength="58" lengthAdjust="spacingAndGlyphs" >514 nm</text>
<defs><clipPath id="insclip"><rect x="617.2" y="136.3" width="56.6" height="73.6"/></clipPath><filter id="insblur" x="-10%" y="-10%" width="120%" height="120%"><feGaussianBlur stdDeviation="0.7"/></filter></defs><g clip-path="url(#insclip)"><rect x="617" y="136" width="57" height="74" fill="#7a6ee8"/><g filter="url(#insblur)"><polygon points="617.1,136.5 635.9,136.5 643.6,155.9 635.9,172.7 629.4,184.3 617.1,185.6" fill="#8c76ea" /><polygon points="617.1,185.6 629.4,184.3 642.3,190.8 673.6,190.8 673.6,209.9 617.1,209.9" fill="#8a78ec" /><polygon points="648.8,136.5 673.6,136.5 673.6,190.8 664.3,189.5 659.1,168.8 652.7,158.4" fill="#6c6cf0" /><polygon points="643.6,159.7 659.1,162.3 652.7,172.7 646.2,184.3 641.0,175.2" fill="#8a6ee6" /><polygon points="647.5,146.8 652.7,144.2 661.7,142.9 668.8,148.1 666.9,155.9 660.4,161.0 652.7,157.8 648.8,153.3" fill="#a4c6f8" /><polygon points="652.7,151.3 659.1,147.5 665.6,149.4 664.3,155.2 659.8,158.7 654.6,155.9" fill="#e6a2b4" /><ellipse cx="642.3" cy="140.3" rx="5.2" ry="3.2" fill="#6e8cf4" transform="rotate(30 642.3 140.3)"/><ellipse cx="635.9" cy="164.9" rx="4.7" ry="5.2" fill="#6e9cf8" transform="rotate(10 635.9 164.9)"/><ellipse cx="636.5" cy="179.8" rx="4.7" ry="8.0" fill="#6490f4" transform="rotate(-10 636.5 179.8)"/><ellipse cx="654.0" cy="178.1" rx="5.4" ry="4.7" fill="#8cc2f8" transform="rotate(0 654.0 178.1)"/><ellipse cx="627.5" cy="203.4" rx="3.9" ry="4.9" fill="#70a2f8" transform="rotate(15 627.5 203.4)"/><ellipse cx="640.8" cy="200.8" rx="4.1" ry="3.9" fill="#6a82f0" transform="rotate(0 640.8 200.8)"/><ellipse cx="663.3" cy="188.4" rx="3.4" ry="3.1" fill="#6a90f4" transform="rotate(0 663.3 188.4)"/><ellipse cx="633.8" cy="185.6" rx="1.0" ry="2.3" fill="#ffffff" transform="rotate(10 633.8 185.6)"/></g></g>
<text transform="translate(610.5,193.5) rotate(-90)" font-size="18" fill="#111" stroke="#111" stroke-width="0.25">10 µm</text>
<line x1="54.5" y1="323" x2="266" y2="323" stroke="#333" stroke-width="1.3"/>
<line x1="282.5" y1="323" x2="458" y2="323" stroke="#333" stroke-width="1.3"/>
<line x1="59.8" y1="323" x2="59.8" y2="605" stroke="#333" stroke-width="1.3"/>
<line x1="457.5" y1="323" x2="457.5" y2="605" stroke="#333" stroke-width="1.6"/>
<line x1="59.2" y1="604.9" x2="269" y2="604.9" stroke="#333" stroke-width="1.3"/>
<line x1="278.7" y1="604.9" x2="458.2" y2="604.9" stroke="#333" stroke-width="1.3"/>
<line x1="268.5" y1="328.5" x2="274" y2="317.5" stroke="#333" stroke-width="1.2"/>
<line x1="275" y1="328.5" x2="280.5" y2="317.5" stroke="#333" stroke-width="1.2"/>
<line x1="268.5" y1="610.4" x2="274" y2="599.4" stroke="#333" stroke-width="1.2"/>
<line x1="275" y1="610.4" x2="280.5" y2="599.4" stroke="#333" stroke-width="1.2"/>
<line x1="85.625" y1="323" x2="85.625" y2="320" stroke="#333" stroke-width="1.1"/>
<line x1="85.625" y1="604.9" x2="85.625" y2="607.5" stroke="#333" stroke-width="1.1"/>
<line x1="111.25" y1="323" x2="111.25" y2="317.5" stroke="#333" stroke-width="1.1"/>
<line x1="111.25" y1="604.9" x2="111.25" y2="610.3" stroke="#333" stroke-width="1.1"/>
<line x1="136.875" y1="323" x2="136.875" y2="320" stroke="#333" stroke-width="1.1"/>
<line x1="136.875" y1="604.9" x2="136.875" y2="607.5" stroke="#333" stroke-width="1.1"/>
<line x1="162.5" y1="323" x2="162.5" y2="317.5" stroke="#333" stroke-width="1.1"/>
<line x1="162.5" y1="604.9" x2="162.5" y2="610.3" stroke="#333" stroke-width="1.1"/>
<line x1="188.125" y1="323" x2="188.125" y2="320" stroke="#333" stroke-width="1.1"/>
<line x1="188.125" y1="604.9" x2="188.125" y2="607.5" stroke="#333" stroke-width="1.1"/>
<line x1="213.75" y1="323" x2="213.75" y2="317.5" stroke="#333" stroke-width="1.1"/>
<line x1="213.75" y1="604.9" x2="213.75" y2="610.3" stroke="#333" stroke-width="1.1"/>
<line x1="239.375" y1="323" x2="239.375" y2="320" stroke="#333" stroke-width="1.1"/>
<line x1="239.375" y1="604.9" x2="239.375" y2="607.5" stroke="#333" stroke-width="1.1"/>
<line x1="265.0" y1="323" x2="265.0" y2="317.5" stroke="#333" stroke-width="1.1"/>
<line x1="265.0" y1="604.9" x2="265.0" y2="610.3" stroke="#333" stroke-width="1.1"/>
<line x1="285.0" y1="323" x2="285.0" y2="320" stroke="#333" stroke-width="1.1"/>
<line x1="285.0" y1="604.9" x2="285.0" y2="607.5" stroke="#333" stroke-width="1.1"/>
<line x1="322.5" y1="323" x2="322.5" y2="317.5" stroke="#333" stroke-width="1.1"/>
<line x1="322.5" y1="604.9" x2="322.5" y2="610.3" stroke="#333" stroke-width="1.1"/>
<line x1="360.0" y1="323" x2="360.0" y2="320" stroke="#333" stroke-width="1.1"/>
<line x1="360.0" y1="604.9" x2="360.0" y2="607.5" stroke="#333" stroke-width="1.1"/>
<line x1="397.5" y1="323" x2="397.5" y2="317.5" stroke="#333" stroke-width="1.1"/>
<line x1="397.5" y1="604.9" x2="397.5" y2="610.3" stroke="#333" stroke-width="1.1"/>
<line x1="435.0" y1="323" x2="435.0" y2="320" stroke="#333" stroke-width="1.1"/>
<line x1="435.0" y1="604.9" x2="435.0" y2="607.5" stroke="#333" stroke-width="1.1"/>
<line x1="59.5" y1="323.0" x2="57.0" y2="323.0" stroke="#333" stroke-width="1.1"/>
<line x1="59.5" y1="378.75" x2="57.0" y2="378.75" stroke="#333" stroke-width="1.1"/>
<line x1="59.5" y1="434.5" x2="54.5" y2="434.5" stroke="#333" stroke-width="1.1"/>
<line x1="59.5" y1="490.25" x2="57.0" y2="490.25" stroke="#333" stroke-width="1.1"/>
<line x1="59.5" y1="546.0" x2="54.5" y2="546.0" stroke="#333" stroke-width="1.1"/>
<line x1="59.5" y1="601.75" x2="57.0" y2="601.75" stroke="#333" stroke-width="1.1"/>
<text transform="translate(111.25,626.5) scale(1,1.1)" font-size="14.4" fill="#111" stroke="#111" stroke-width="0.25" text-anchor="middle" >200</text>
<text transform="translate(162.5,626.5) scale(1,1.1)" font-size="14.4" fill="#111" stroke="#111" stroke-width="0.25" text-anchor="middle" >300</text>
<text transform="translate(213.75,626.5) scale(1,1.1)" font-size="14.4" fill="#111" stroke="#111" stroke-width="0.25" text-anchor="middle" >400</text>
<text transform="translate(265.0,626.5) scale(1,1.1)" font-size="14.4" fill="#111" stroke="#111" stroke-width="0.25" text-anchor="middle" >500</text>
<text transform="translate(322.5,626.5) scale(1,1.1)" font-size="14.4" fill="#111" stroke="#111" stroke-width="0.25" text-anchor="middle" >600</text>
<text transform="translate(397.5,626.5) scale(1,1.1)" font-size="14.4" fill="#111" stroke="#111" stroke-width="0.25" text-anchor="middle" >700</text>
<text transform="translate(191.3,654.8) scale(1,1.17)" font-size="15.5" fill="#111" stroke="#111" stroke-width="0.25" text-anchor="start" textLength="91.7" lengthAdjust="spacingAndGlyphs" >Raman Shift,</text>
<text transform="translate(287,654.8) scale(1,1.17)" font-size="15.5" fill="#111" stroke="#111" stroke-width="0.25" text-anchor="start" textLength="21" lengthAdjust="spacingAndGlyphs" >cm</text>
<text x="316.3" y="647.5" font-size="9.5" fill="#111" stroke="#111" stroke-width="0.25" text-anchor="start" >-1</text>
<text transform="translate(39.2,591.6) rotate(-90) scale(1,1.1)" font-size="16" fill="#111" stroke="#111" stroke-width="0.25" textLength="238.6" lengthAdjust="spacingAndGlyphs">Intensity, normalized by maximum</text>
<text x="90.5" y="375.5" font-size="17" fill="#111" stroke="#111" stroke-width="0.25" text-anchor="start" textLength="29" lengthAdjust="spacingAndGlyphs" >203</text>
<text x="268.8" y="365.5" font-size="17" fill="#111" stroke="#111" stroke-width="0.25" text-anchor="start" textLength="28.5" lengthAdjust="spacingAndGlyphs" >629</text>
<text x="397.5" y="367" font-size="17" fill="#111" stroke="#111" stroke-width="0.25" text-anchor="start" textLength="28.5" lengthAdjust="spacingAndGlyphs" >734</text>
<path d="M60.0,535.3 L60.1,530.4 L60.3,528.9 L60.4,523.7 L60.5,527.6 L60.6,525.9 L60.8,524.4 L60.9,524.9 L61.0,524.0 L61.2,520.1 L61.3,519.4 L61.4,519.0 L61.5,520.2 L61.7,518.8 L61.8,514.2 L61.9,513.4 L62.1,515.9 L62.3,516.4 L62.5,512.3 L62.8,509.9 L63.0,512.2 L63.2,508.5 L63.4,509.4 L63.6,509.8 L63.8,507.0 L64.1,504.9 L64.3,505.0 L64.5,501.4 L64.7,501.2 L64.9,499.3 L65.2,499.0 L65.4,497.3 L65.7,496.8 L66.0,495.4 L66.2,495.2 L66.5,494.1 L66.8,493.5 L67.0,494.5 L67.3,487.8 L67.6,492.2 L67.8,488.2 L68.0,485.2 L68.3,486.1 L68.5,485.6 L68.7,486.3 L69.0,481.2 L69.2,482.6 L69.4,481.3 L69.6,476.8 L69.9,476.7 L70.1,479.0 L70.3,478.1 L70.6,477.7 L70.8,475.6 L71.0,474.3 L71.3,472.7 L72.1,474.0 L72.9,469.3 L73.6,469.9 L74.1,471.6 L74.6,468.9 L75.0,475.4 L75.4,472.4 L75.9,474.8 L76.3,480.0 L76.7,475.4 L77.2,477.0 L77.7,481.7 L78.8,476.4 L79.9,477.3 L80.9,478.9 L82.0,478.5 L83.1,478.4 L84.1,477.6 L85.1,479.0 L86.1,478.0 L87.2,476.8 L88.2,473.9 L89.1,473.3 L89.8,470.2 L90.5,474.2 L91.2,468.6 L91.9,472.9 L92.6,473.9 L93.3,467.5 L94.0,467.4 L94.7,466.9 L95.2,468.5 L95.6,464.2 L96.1,464.6 L96.5,462.8 L96.9,462.3 L97.3,464.2 L97.7,458.9 L98.1,459.8 L98.5,459.2 L98.8,459.3 L99.1,454.2 L99.3,457.6 L99.6,455.2 L99.8,455.0 L100.1,452.4 L100.5,448.1 L100.9,449.0 L101.3,450.8 L101.7,448.2 L102.1,447.1 L102.6,449.5 L103.0,449.3 L103.4,444.0 L103.8,446.7 L104.2,438.2 L104.6,437.1 L105.0,441.6 L105.2,438.4 L105.3,438.9 L105.5,437.7 L105.6,435.4 L105.7,435.8 L105.9,433.7 L106.0,429.4 L106.2,431.6 L106.3,430.5 L106.5,432.5 L106.6,425.8 L106.8,426.9 L106.9,425.0 L107.1,424.4 L107.2,426.7 L107.4,423.2 L107.5,420.5 L107.7,420.6 L107.8,420.7 L108.0,416.2 L108.1,416.5 L108.3,418.9 L108.4,416.5 L108.6,413.7 L108.7,411.7 L108.9,411.3 L109.1,407.5 L109.2,411.2 L109.4,408.9 L109.6,407.5 L109.7,403.6 L109.9,403.7 L110.1,404.9 L110.2,403.3 L110.4,400.8 L110.6,401.6 L110.7,401.3 L110.9,397.2 L111.1,396.4 L111.2,394.6 L111.4,393.0 L111.6,395.6 L111.7,394.0 L111.9,392.6 L112.1,389.4 L112.2,390.8 L112.4,393.7 L112.6,394.1 L112.8,396.2 L112.9,395.8 L113.1,399.4 L113.3,402.7 L113.5,403.3 L113.6,404.5 L113.8,402.7 L114.0,405.4 L114.2,404.0 L114.3,407.6 L114.5,406.2 L114.7,407.1 L114.9,407.9 L115.0,411.5 L115.2,411.8 L115.3,412.7 L115.5,411.3 L115.6,414.8 L115.8,412.9 L116.0,419.5 L116.1,417.6 L116.3,419.3 L116.4,419.8 L116.6,418.1 L116.7,419.6 L116.9,423.2 L117.1,427.2 L117.2,423.3 L117.4,425.2 L117.5,427.6 L117.8,425.5 L118.0,426.6 L118.3,430.1 L118.5,431.9 L118.7,432.3 L119.0,437.0 L119.2,434.9 L119.4,437.0 L119.7,440.4 L119.9,441.7 L120.6,435.3 L121.6,437.0 L122.5,439.3 L123.4,433.9 L124.0,435.1 L124.4,435.4 L124.8,436.3 L125.2,437.8 L125.6,441.3 L126.0,444.4 L126.4,444.9 L126.7,440.9 L126.9,436.1 L127.2,438.6 L127.5,437.0 L127.7,437.3 L128.0,435.3 L128.3,431.1 L128.5,434.2 L128.8,428.4 L129.1,429.9 L129.3,430.8 L129.6,429.8 L129.9,431.0 L130.4,422.7 L131.3,427.2 L132.2,427.2 L133.1,424.6 L134.0,425.7 L134.8,421.8 L135.9,425.0 L137.0,424.8 L138.1,421.9 L139.2,422.5 L140.3,423.4 L141.3,422.7 L141.9,426.8 L142.5,426.1 L143.0,429.2 L143.6,429.9 L144.2,428.7 L144.7,429.2 L145.5,427.9 L146.5,427.7 L147.5,427.2 L148.5,428.9 L149.5,426.1 L150.4,427.3 L151.1,426.7 L151.9,424.6 L152.6,424.3 L153.4,426.6 L154.1,426.1 L154.9,420.8 L155.6,421.1 L156.4,420.0 L157.2,419.3 L157.6,423.0 L157.9,422.5 L158.2,424.6 L158.4,426.7 L158.7,423.5 L158.9,425.1 L159.2,426.6 L159.4,429.5 L159.7,428.5 L159.9,431.0 L160.2,433.0 L160.6,434.1 L160.9,433.8 L161.2,432.5 L161.5,432.1 L161.8,438.2 L162.1,438.0 L162.5,436.4 L162.8,438.3 L163.1,439.5 L163.4,438.2 L163.7,442.9 L164.5,440.3 L165.3,440.4 L166.0,441.6 L166.8,439.3 L167.6,439.7 L168.4,438.7 L169.2,437.2 L169.9,436.4 L170.7,440.5 L171.5,437.4 L172.3,441.6 L173.1,437.6 L173.8,441.5 L174.6,441.2 L175.4,440.3 L176.1,437.5 L176.8,446.4 L177.5,442.0 L178.3,443.2 L179.0,446.1 L179.7,446.8 L180.6,447.2 L181.5,445.6 L182.4,442.6 L183.3,446.5 L184.3,442.5 L185.0,444.0 L185.3,443.6 L185.5,443.6 L185.8,439.9 L186.0,438.7 L186.3,437.7 L186.5,433.6 L186.8,434.6 L187.0,433.0 L187.3,431.7 L187.5,433.1 L187.8,431.1 L188.0,433.7 L188.3,432.4 L188.5,424.9 L188.8,427.7 L189.2,424.5 L189.7,426.4 L190.1,424.7 L190.5,425.1 L191.0,422.9 L191.4,422.8 L191.8,419.8 L192.3,414.5 L193.0,416.3 L194.0,416.6 L195.1,417.0 L196.1,415.6 L197.2,420.3 L198.2,416.5 L199.3,419.0 L200.3,415.5 L201.4,419.0 L202.4,413.3 L203.5,416.4 L204.5,412.4 L205.6,415.5 L206.7,417.4 L207.7,410.9 L208.8,412.1 L209.3,415.2 L209.9,415.3 L210.4,414.1 L211.0,419.8 L211.5,418.7 L212.1,422.0 L212.6,421.1 L213.1,419.3 L213.7,421.5 L214.0,426.1 L214.3,421.9 L214.5,424.7 L214.8,427.8 L215.1,429.7 L215.3,430.4 L215.6,427.1 L215.9,434.9 L216.1,431.7 L216.7,432.1 L217.5,431.3 L218.2,430.1 L219.0,427.9 L219.8,428.3 L220.6,430.7 L221.3,425.1 L221.7,424.1 L222.1,430.7 L222.5,431.4 L223.0,433.1 L223.4,436.1 L223.8,432.4 L224.2,435.2 L224.6,436.8 L225.0,439.2 L225.4,439.8 L225.8,437.3 L226.2,437.3 L227.1,438.9 L228.1,435.8 L229.0,440.4 L230.0,437.0 L230.9,436.5 L231.9,434.9 L232.6,439.5 L233.0,438.2 L233.4,437.9 L233.8,440.9 L234.1,440.6 L234.5,442.9 L234.9,445.3 L235.3,443.4 L235.6,445.9 L236.0,446.8 L236.4,449.1 L236.8,449.1 L237.2,449.1 L237.5,448.9 L237.9,451.7 L238.3,450.2 L238.7,454.4 L239.1,454.3 L239.5,456.3 L239.9,455.3 L240.2,455.8 L240.6,456.6 L241.0,461.5 L241.3,460.0 L241.6,461.1 L241.8,459.2 L242.1,463.5 L242.3,458.2 L242.5,468.4 L242.8,466.4 L243.0,468.0 L243.3,466.3 L243.5,468.0 L243.7,472.3 L244.5,471.6 L245.3,473.6 L246.1,476.0 L246.8,475.6 L247.6,471.5 L248.4,474.0 L249.3,474.2 L250.4,474.9 L251.5,473.0 L252.5,473.3 L253.6,476.1 L254.2,477.2 L254.8,480.2 L255.4,479.6 L255.9,483.9 L256.5,478.6 L257.1,480.4 L257.7,484.0 L258.3,482.1 L259.0,479.9 L259.7,482.3 L260.3,482.1 L261.0,481.6 L261.6,477.4 L262.1,477.2 L262.7,476.7 L263.2,475.4 L263.8,476.3 L264.3,472.5 L264.9,473.1 L265.4,467.3 L266.0,471.9 L266.4,472.6 L266.8,468.4 L267.2,469.4 L267.6,463.3 L268.0,464.7 L268.3,461.4 L268.7,463.9 L269.1,463.3 L269.5,458.6" fill="none" stroke="#3c3c3c" stroke-width="1.25" stroke-linejoin="round" stroke-linecap="round" />
<path d="M277.5,447.1 L278.2,445.8 L278.8,448.5 L279.5,445.7 L280.2,451.2 L280.8,447.8 L281.5,451.0 L282.3,450.0 L283.1,447.9 L283.9,454.1 L284.6,446.7 L285.4,448.0 L286.2,448.4 L287.0,443.2 L287.8,447.3 L288.5,443.7 L289.3,445.1 L290.1,440.7 L290.9,439.7 L291.4,443.0 L291.8,440.6 L292.1,438.9 L292.5,438.8 L292.8,437.5 L293.2,433.3 L293.5,430.2 L293.9,430.2 L294.2,428.9 L294.6,427.0 L294.9,429.0 L295.3,428.2 L295.6,428.0 L296.0,427.5 L296.3,425.3 L296.7,424.5 L297.0,424.1 L297.4,421.0 L297.7,420.5 L298.1,420.9 L298.4,418.4 L298.8,417.6 L299.1,417.4 L299.5,419.1 L299.8,416.2 L300.2,413.9 L300.5,412.3 L300.9,412.2 L301.2,415.6 L301.6,404.3 L301.9,410.3 L302.3,408.7 L302.6,408.8 L302.8,403.9 L303.1,409.0 L303.3,405.8 L303.5,402.7 L303.8,402.1 L304.0,399.3 L304.3,399.7 L304.5,398.3 L304.7,399.2 L305.0,397.1 L305.2,395.1 L305.5,395.5 L305.7,394.2 L305.9,392.5 L306.2,388.1 L306.4,391.9 L306.6,386.6 L306.9,385.8 L307.1,386.5 L307.4,386.6 L307.7,388.1 L308.2,383.2 L308.7,390.2 L309.2,391.5 L309.7,388.5 L310.2,389.2 L310.6,387.5 L311.0,386.4 L311.4,384.0 L311.9,382.3 L312.3,384.1 L312.7,384.0 L313.1,385.9 L313.6,379.6 L314.0,376.5 L314.4,379.7 L314.8,377.5 L315.3,378.1 L315.7,375.6 L316.1,372.9 L316.9,373.3 L317.8,375.6 L318.8,374.0 L319.7,371.1 L320.7,374.0 L321.6,369.0 L322.5,370.3 L323.2,372.5 L323.9,370.4 L324.6,371.6 L325.3,374.8 L326.0,375.5 L326.7,376.0 L327.4,376.3 L327.8,374.5 L328.1,374.1 L328.5,380.3 L328.8,372.3 L329.2,375.3 L329.5,370.3 L329.9,372.9 L330.2,371.6 L330.6,369.1 L330.9,366.0 L331.3,363.5 L331.6,366.9 L332.0,361.6 L332.3,360.6 L332.7,364.9 L333.0,363.7 L333.4,359.9 L333.7,358.4 L334.1,358.4 L334.5,361.4 L334.9,360.8 L335.4,359.9 L335.8,362.3 L336.2,365.3 L336.7,361.2 L337.3,361.4 L337.8,362.5 L338.3,364.5 L338.9,360.7 L339.4,359.5 L340.0,362.1 L340.5,355.5 L341.1,355.1 L341.9,358.2 L342.9,359.1 L343.9,358.5 L344.9,353.1 L345.9,360.0 L346.4,359.3 L346.7,357.1 L347.1,357.2 L347.4,357.6 L347.7,353.9 L348.0,351.0 L348.3,348.2 L348.6,350.8 L348.9,349.1 L349.2,350.4 L349.6,350.4 L349.9,354.1 L350.3,356.0 L350.6,356.5 L351.0,354.6 L351.3,359.4 L351.7,359.4 L352.0,355.1 L352.4,362.0 L352.7,358.1 L353.1,360.8 L353.4,366.0 L353.8,366.3 L354.1,364.9 L354.5,365.5 L354.8,368.9 L355.2,365.9 L355.5,371.1 L355.9,370.8 L356.2,373.8 L356.5,373.2 L356.9,372.5 L357.2,376.0 L357.5,376.0 L357.8,375.0 L358.1,376.6 L358.4,377.9 L358.8,381.0 L359.1,383.4 L359.4,382.9 L359.7,381.8 L360.0,384.4 L360.4,387.2 L360.8,389.2 L361.2,386.4 L361.6,389.8 L362.0,389.5 L362.4,387.2 L362.8,389.9 L363.1,392.3 L363.5,393.4 L364.1,394.6 L364.9,395.0 L365.7,397.6 L366.4,395.9 L367.2,395.4 L368.0,400.2 L368.8,398.9 L369.6,402.3 L370.2,400.1 L370.8,405.1 L371.3,401.3 L371.8,402.3 L372.3,406.9 L372.9,409.9 L373.4,406.0 L373.9,411.4 L374.5,412.3 L375.0,411.9 L375.5,411.0 L376.0,408.2 L376.6,410.3 L377.1,412.7 L377.6,416.2 L378.2,415.8 L378.7,415.9 L379.3,418.3 L379.8,415.9 L380.4,420.8 L380.9,419.2 L381.5,424.4 L382.0,423.2 L382.6,422.3 L383.7,423.0 L384.8,421.3 L385.8,424.9 L386.9,422.9 L387.8,425.2 L388.5,428.4 L389.2,427.8 L389.9,428.9 L390.6,433.9 L391.3,431.0 L392.0,432.7 L392.6,430.5 L393.0,427.8 L393.5,429.4 L393.9,425.8 L394.3,421.2 L394.8,427.1 L395.2,425.6 L395.6,421.9 L396.1,425.4 L396.5,421.7 L396.9,420.0 L397.3,418.0 L397.8,421.0 L398.2,417.0 L398.6,415.8 L399.0,414.9 L399.5,413.3 L399.9,410.5 L400.3,411.3 L400.7,410.0 L401.2,412.0 L401.6,407.2 L402.0,409.9 L402.4,406.6 L402.9,405.1 L403.3,405.2 L403.7,404.6 L404.1,403.7 L404.5,403.6 L404.9,401.9 L405.3,397.5 L405.7,398.1 L406.1,401.5 L406.5,397.1 L407.0,391.9 L407.4,395.6 L407.8,397.5 L408.2,395.5 L408.5,392.3 L408.9,391.6 L409.3,391.4 L409.7,388.8 L410.1,387.2 L410.5,390.2 L410.9,385.3 L411.3,386.9 L411.9,382.9 L412.6,385.3 L413.2,385.5 L413.9,389.3 L414.6,388.2 L415.1,389.1 L415.2,389.7 L415.4,392.8 L415.6,395.5 L415.8,393.6 L416.0,397.0 L416.2,396.9 L416.3,396.8 L416.5,399.8 L416.7,402.7 L416.9,396.3 L417.1,403.7 L417.2,406.8 L417.4,404.2 L417.6,407.1 L417.8,408.6 L418.0,408.8 L418.1,409.4 L418.3,412.5 L418.5,413.2 L418.7,412.5 L418.9,414.5 L419.0,412.6 L419.2,415.1 L419.4,416.8 L419.5,417.5 L419.7,417.5 L419.8,422.2 L420.0,421.6 L420.2,423.4 L420.3,420.6 L420.5,423.2 L420.7,424.0 L420.8,426.0 L421.0,430.7 L421.2,433.4 L421.3,430.0 L421.5,431.4 L421.6,431.5 L421.8,431.9 L422.0,435.7 L422.1,434.3 L422.3,434.2 L422.5,438.5 L422.7,438.1 L423.0,440.0 L423.4,441.1 L423.7,443.4 L424.0,443.8 L424.3,445.4 L424.6,444.6 L424.9,445.6 L425.2,447.6 L425.5,448.4 L425.8,450.0 L426.1,450.8 L426.4,455.3 L426.7,451.9 L427.0,454.2 L427.3,454.6 L427.7,457.9 L428.4,454.8 L429.1,454.7 L429.8,460.2 L430.5,460.2 L431.2,460.0 L431.9,459.1 L432.6,463.7 L433.6,461.7 L434.7,459.4 L435.7,459.3 L436.8,458.6 L437.8,462.2 L438.9,458.8 L439.9,456.8 L440.8,458.3 L441.7,462.2 L442.5,461.9 L443.4,460.1 L444.2,459.9 L445.1,461.7 L446.0,464.1 L447.0,463.2 L448.0,463.1 L449.1,464.5 L450.2,463.6 L451.2,462.9" fill="none" stroke="#3c3c3c" stroke-width="1.25" stroke-linejoin="round" stroke-linecap="round" />
<path d="M60.0,530.8 L60.2,533.2 L60.4,530.2 L60.5,530.3 L60.7,531.4 L60.9,528.3 L61.1,529.2 L61.3,526.9 L61.5,527.3 L61.6,520.2 L61.8,519.7 L62.0,517.5 L62.2,520.8 L62.4,517.8 L62.6,519.5 L62.8,517.0 L63.1,515.4 L63.3,519.2 L63.5,514.4 L63.8,511.8 L64.0,508.5 L64.3,512.6 L64.5,511.0 L64.8,505.0 L65.0,506.2 L65.3,506.0 L65.5,500.4 L65.8,502.6 L66.0,505.6 L66.3,497.3 L66.8,501.3 L67.3,503.7 L67.8,496.7 L68.3,496.1 L68.8,496.7 L69.3,496.5 L69.8,495.2 L70.2,489.6 L70.7,490.4 L71.2,491.5 L72.2,489.9 L73.1,492.9 L74.1,488.8 L75.0,488.1 L76.0,492.9 L76.9,487.7 L77.8,485.5 L78.5,488.6 L79.2,488.9 L79.9,492.1 L80.6,492.3 L81.3,491.2 L82.0,492.0 L82.7,492.5 L83.4,497.8 L84.2,499.4 L84.9,493.7 L85.7,494.4 L86.5,493.1 L87.3,490.2 L88.2,489.7 L89.2,489.4 L90.3,485.5 L91.3,487.9 L92.3,490.4 L93.3,491.1 L94.3,487.9 L95.3,486.9 L96.2,488.8 L97.2,491.6 L98.1,483.9 L99.1,483.7 L100.0,484.0 L100.6,485.4 L101.2,481.1 L101.8,483.4 L102.4,479.6 L103.1,481.8 L103.7,478.7 L104.3,477.5 L104.9,479.6 L105.3,473.8 L105.7,473.8 L106.1,476.3 L106.5,475.4 L106.9,473.0 L107.3,466.2 L107.6,472.2 L108.0,470.2 L108.4,467.6 L108.8,462.7 L109.0,468.3 L109.3,469.4 L109.5,465.3 L109.7,466.2 L110.0,460.4 L110.2,461.3 L110.4,458.2 L110.7,456.0 L110.9,456.8 L111.2,454.4 L111.4,453.7 L111.6,453.7 L111.9,455.7 L112.1,457.0 L112.4,459.1 L112.6,456.9 L112.9,461.7 L113.1,457.7 L113.4,463.2 L113.6,464.4 L113.9,459.7 L114.1,465.5 L114.4,470.0 L114.6,469.6 L114.9,468.4 L115.4,469.2 L116.0,472.2 L116.6,472.7 L117.2,475.3 L117.8,474.6 L118.4,477.3 L119.0,477.0 L119.6,475.1 L120.4,474.9 L121.4,475.5 L122.4,477.3 L123.4,473.7 L124.4,477.5 L125.2,471.7 L125.7,475.7 L126.2,475.1 L126.7,479.1 L127.1,479.6 L127.6,479.9 L128.1,478.3 L128.6,480.1 L129.3,480.3 L130.0,483.4 L130.7,478.6 L131.4,480.5 L132.1,480.7 L132.8,475.6 L133.5,475.5 L134.2,470.6 L134.9,474.1 L135.8,477.3 L136.7,474.0 L137.6,477.8 L138.4,479.5 L139.3,479.1 L140.1,477.5 L140.7,478.1 L141.2,475.0 L141.8,474.6 L142.3,480.4 L142.9,472.5 L143.4,471.1 L144.0,472.2 L144.5,471.5 L145.1,471.9 L145.8,469.1 L146.5,469.3 L147.1,470.3 L147.8,475.3 L148.5,477.0 L149.2,473.4 L149.9,474.9 L150.5,475.4 L151.1,472.2 L151.7,472.4 L152.3,474.9 L152.8,468.8 L153.4,471.7 L154.0,472.7 L154.6,466.3 L155.2,470.6 L155.8,467.0 L156.3,465.1 L156.8,469.5 L157.2,468.6 L157.6,468.9 L158.1,469.1 L158.5,469.5 L158.9,471.2 L159.4,472.9 L159.8,476.4 L160.3,474.9 L160.9,477.1 L161.6,476.4 L162.2,479.4 L162.8,479.0 L163.4,483.1 L164.0,481.6 L164.6,477.9 L165.3,482.5 L166.1,482.5 L166.8,486.6 L167.6,485.2 L168.4,488.0 L169.2,488.5 L170.0,485.9 L170.9,487.2 L171.9,488.6 L172.9,486.4 L173.9,497.6 L174.9,491.2 L175.7,487.6 L176.5,488.1 L177.3,492.6 L178.0,492.1 L178.8,490.1 L179.6,490.5 L180.3,495.5 L181.0,495.2 L181.6,498.2 L182.3,497.8 L183.0,501.6 L183.6,495.4 L184.3,502.2 L185.0,499.7 L185.6,500.2 L186.3,505.7 L186.9,499.6 L187.6,504.6 L188.2,503.1 L188.8,505.9 L189.4,498.6 L190.0,502.0 L190.7,501.4 L191.3,499.3 L191.9,498.7 L192.5,497.1 L193.3,493.3 L194.2,494.8 L195.0,490.8 L195.9,496.9 L196.7,496.3 L197.6,489.9 L198.4,495.5 L199.3,491.4 L200.1,487.6 L201.2,489.2 L202.3,492.1 L203.4,490.2 L204.4,487.6 L205.5,491.5 L206.6,489.1 L207.6,488.1 L208.7,486.1 L209.8,490.0 L210.7,491.3 L211.5,487.5 L212.4,490.0 L213.2,490.7 L214.1,492.5 L214.9,490.2 L215.8,498.3 L216.6,494.9 L217.5,497.1 L218.4,493.6 L219.3,498.8 L220.2,494.3 L221.1,488.2 L222.0,494.4 L223.0,491.2 L223.9,488.2 L224.8,490.0 L225.7,488.3 L226.6,492.8 L227.5,493.2 L228.5,489.0 L229.4,494.5 L230.3,496.0 L231.2,488.2 L232.1,497.9 L233.1,496.9 L234.1,497.8 L235.1,499.7 L236.1,496.7 L237.0,495.2 L237.7,498.9 L238.1,498.7 L238.5,501.2 L238.9,495.5 L239.4,501.2 L239.8,509.4 L240.2,505.1 L240.6,507.6 L241.0,507.1 L241.4,506.4 L241.8,510.3 L242.2,511.1 L242.8,509.4 L243.5,510.6 L244.3,513.4 L245.1,510.7 L245.9,511.4 L246.7,517.0 L247.4,517.7 L248.2,515.3 L249.1,519.8 L250.1,517.7 L251.0,516.1 L252.0,513.4 L253.0,516.0 L253.9,512.7 L254.4,514.8 L254.8,514.5 L255.3,519.9 L255.8,518.3 L256.3,519.0 L256.8,521.6 L257.2,526.9 L257.7,524.5 L258.2,518.4 L258.7,521.1 L259.2,520.4 L259.7,517.8 L260.2,515.8 L260.7,521.3 L261.3,518.0 L261.8,517.5 L262.3,515.2 L262.8,515.3 L263.4,513.6 L263.9,511.8 L264.5,510.0 L265.1,507.2 L265.6,506.8 L266.2,507.5 L266.5,504.4 L266.8,506.3 L267.1,502.3 L267.4,505.2 L267.7,498.9 L268.0,502.0 L268.3,503.2 L268.5,501.2 L268.8,496.8 L269.1,500.1 L269.4,496.0 L269.7,495.7 L270.0,493.6" fill="none" stroke="#e0383c" stroke-width="1.25" stroke-linejoin="round" stroke-linecap="round" />
<path d="M277.5,482.7 L277.8,480.3 L278.1,481.5 L278.4,482.0 L278.7,478.4 L279.0,484.7 L279.3,481.8 L279.6,487.0 L279.9,486.2 L280.2,491.2 L280.5,489.2 L280.8,490.7 L281.0,489.2 L281.5,493.8 L282.3,491.0 L283.1,492.2 L283.8,491.9 L284.6,491.0 L285.4,487.8 L286.2,483.0 L287.0,484.0 L287.8,488.1 L288.9,488.2 L289.9,488.5 L291.0,483.8 L292.0,482.4 L293.1,486.6 L294.1,486.1 L295.1,483.7 L295.8,482.8 L296.6,478.7 L297.3,480.6 L298.0,483.4 L298.7,477.2 L299.4,477.4 L300.2,477.4 L300.9,476.1 L301.6,471.7 L302.3,474.0 L303.0,473.0 L303.7,472.8 L304.5,471.8 L305.2,471.9 L305.9,468.6 L306.6,474.2 L307.3,468.6 L308.1,472.0 L308.8,471.2 L309.5,467.1 L310.3,463.3 L311.4,460.6 L312.4,461.9 L313.5,464.5 L314.6,465.3 L315.6,462.7 L316.7,463.0 L317.6,470.2 L318.0,463.4 L318.4,458.8 L318.8,462.1 L319.2,457.3 L319.6,452.8 L320.0,457.9 L320.9,456.0 L321.9,458.5 L322.9,463.2 L323.9,459.6 L324.9,457.8 L325.6,463.1 L326.3,453.2 L327.1,454.7 L327.8,460.0 L328.5,459.5 L329.2,454.3 L329.9,452.4 L330.7,454.0 L331.4,453.1 L332.1,451.9 L332.9,449.7 L333.9,447.2 L334.9,448.1 L335.9,448.3 L336.9,447.8 L337.9,446.7 L338.9,447.5 L339.8,443.0 L340.7,448.8 L341.4,449.1 L342.2,443.6 L343.0,441.0 L343.8,444.3 L344.6,444.0 L345.3,441.7 L346.1,443.6 L346.8,440.6 L347.4,440.2 L348.1,447.4 L348.7,443.5 L349.4,444.5 L350.0,440.9 L350.6,446.5 L351.3,446.8 L351.9,449.1 L352.5,451.7 L352.9,451.6 L353.3,449.4 L353.6,455.8 L354.0,455.2 L354.3,456.6 L354.7,456.2 L355.0,457.6 L355.4,455.1 L355.7,455.8 L356.1,458.9 L356.5,459.8 L356.9,463.1 L357.4,455.6 L357.8,463.2 L358.2,463.5 L358.6,469.2 L359.1,466.2 L359.5,467.2 L359.9,469.7 L360.8,471.2 L361.8,465.9 L362.7,468.1 L363.7,473.1 L364.7,472.8 L365.7,472.6 L366.7,476.7 L367.6,469.8 L368.4,474.6 L369.1,474.1 L369.8,476.8 L370.5,475.2 L371.2,478.5 L371.9,484.9 L372.7,481.0 L373.4,481.0 L374.1,485.2 L374.8,483.8 L375.7,488.1 L376.6,481.4 L377.5,481.5 L378.5,479.8 L379.4,483.1 L380.3,481.4 L381.2,490.2 L382.1,487.5 L382.9,489.3 L383.5,489.4 L384.1,489.9 L384.7,490.2 L385.3,488.1 L385.9,496.3 L386.5,492.6 L387.2,498.8 L387.8,496.3 L388.6,490.6 L389.4,492.1 L390.2,491.3 L391.0,490.0 L391.7,489.1 L392.5,489.6 L393.5,487.7 L394.5,486.9 L395.5,488.4 L396.5,487.8 L397.5,486.0 L398.5,487.7 L399.5,485.1 L400.2,486.5 L400.7,484.5 L401.2,486.3 L401.7,478.2 L402.2,485.7 L402.7,479.5 L403.2,482.5 L403.7,477.1 L404.2,477.1 L404.7,477.6 L405.3,474.6 L406.0,473.5 L406.8,473.5 L407.6,476.8 L408.4,468.1 L409.2,471.4 L409.9,474.2 L410.7,469.3 L411.5,473.5 L412.3,465.1 L413.1,468.0 L413.9,470.8 L414.6,470.8 L415.4,471.8 L416.2,475.8 L416.4,472.7 L416.6,477.2 L416.8,478.2 L417.1,478.2 L417.3,485.0 L417.5,480.0 L417.7,487.1 L417.9,481.5 L418.1,485.4 L418.3,486.1 L418.5,484.5 L418.7,489.3 L418.9,491.7 L419.1,491.4 L419.3,490.9 L419.5,495.2 L419.7,494.8 L419.9,495.0 L420.2,488.0 L420.7,495.6 L421.1,499.1 L421.6,495.1 L422.0,491.5 L422.5,497.8 L422.9,500.4 L423.4,497.7 L423.8,501.7 L424.3,504.6 L424.7,502.5 L425.3,504.3 L426.1,509.9 L426.9,507.1 L427.6,505.4 L428.4,510.0 L429.2,511.3 L430.0,510.8 L430.8,511.2 L431.5,510.4 L432.3,519.8 L433.2,510.4 L434.0,512.4 L434.9,512.8 L435.8,513.5 L436.6,509.3 L437.5,510.2 L438.3,507.4 L439.3,509.2 L440.2,503.1 L441.2,510.2 L442.1,507.4 L443.0,507.8 L444.0,505.0 L444.9,499.8 L445.3,503.3 L445.6,506.0 L445.9,511.3 L446.3,508.6 L446.6,512.5 L446.9,511.2 L447.2,510.1 L447.5,512.1 L447.8,515.4 L448.4,516.0 L449.1,511.5 L449.8,512.9 L450.5,512.2 L451.2,512.8" fill="none" stroke="#e0383c" stroke-width="1.25" stroke-linejoin="round" stroke-linecap="round" />
<path d="M60.0,555.5 L60.2,556.0 L60.5,553.7 L60.7,551.8 L61.0,552.5 L61.2,546.6 L61.4,547.2 L61.7,546.1 L61.9,546.9 L62.2,545.4 L62.4,545.0 L62.7,545.3 L63.0,545.0 L63.3,543.3 L63.6,539.9 L63.9,541.6 L64.3,538.7 L64.6,541.9 L64.9,538.7 L65.2,536.0 L65.5,534.7 L65.8,531.5 L66.2,533.1 L66.6,529.1 L67.1,531.6 L67.6,525.4 L68.1,526.0 L68.6,531.3 L69.1,530.4 L69.6,529.0 L70.1,520.5 L70.6,520.3 L71.0,519.4 L71.8,518.2 L72.9,522.4 L73.9,520.3 L74.9,521.0 L75.9,519.4 L77.0,518.3 L77.6,525.4 L77.8,523.1 L78.0,520.3 L78.1,526.7 L78.3,523.3 L78.5,525.3 L78.7,530.5 L78.9,526.3 L79.0,528.6 L79.2,529.6 L79.4,535.6 L79.7,536.3 L80.0,531.0 L80.3,534.0 L80.6,525.1 L81.0,526.9 L81.3,529.4 L81.6,524.6 L82.0,525.0 L82.3,523.6 L82.8,524.5 L83.5,524.3 L84.2,521.0 L84.9,524.5 L85.5,524.5 L86.2,528.6 L86.9,523.9 L87.6,526.9 L88.5,532.4 L89.4,531.0 L90.3,536.7 L91.2,531.4 L92.1,525.7 L92.7,534.4 L93.1,531.4 L93.5,529.1 L93.9,525.7 L94.2,527.4 L94.6,528.3 L95.0,526.6 L95.4,525.0 L95.8,525.2 L96.2,523.1 L97.0,520.5 L98.0,524.2 L98.9,525.3 L99.9,529.3 L100.8,525.4 L101.8,523.3 L102.6,528.8 L103.0,526.8 L103.5,522.7 L103.9,520.1 L104.3,525.7 L104.8,516.9 L105.2,518.4 L105.6,519.6 L106.1,515.4 L106.4,516.4 L106.7,517.0 L107.0,513.8 L107.3,510.6 L107.6,511.2 L107.9,511.3 L108.2,513.2 L108.5,506.9 L108.7,512.0 L109.0,505.2 L109.3,509.6 L109.6,510.4 L109.9,507.2 L110.6,503.7 L111.5,508.8 L112.4,508.1 L113.4,507.1 L113.9,506.4 L114.1,507.0 L114.3,508.7 L114.5,515.8 L114.7,512.5 L114.9,513.4 L115.0,512.2 L115.2,515.3 L115.4,514.9 L115.6,514.9 L115.8,517.9 L116.0,517.7 L116.2,520.2 L116.9,520.5 L117.6,520.0 L118.3,523.7 L118.9,524.8 L119.6,517.5 L120.3,524.5 L121.0,525.5 L121.5,525.0 L121.9,527.6 L122.3,523.7 L122.7,521.5 L123.1,519.6 L123.4,521.9 L123.8,515.5 L124.2,517.6 L124.6,515.8 L125.0,515.3 L125.2,516.5 L125.4,515.6 L125.5,516.7 L125.7,520.4 L125.9,519.6 L126.1,526.1 L126.3,524.6 L126.4,522.2 L126.6,527.2 L126.8,526.5 L127.0,528.7 L127.2,533.0 L127.4,532.6 L127.6,528.9 L127.9,531.2 L128.3,527.9 L128.6,530.4 L129.0,526.8 L129.3,522.0 L129.7,516.5 L130.0,522.1 L130.4,520.7 L130.7,519.7 L131.1,525.8 L131.4,519.8 L131.7,520.6 L132.1,515.2 L132.4,518.0 L133.2,515.5 L134.1,513.7 L135.0,517.4 L135.9,518.7 L136.8,516.9 L137.7,523.3 L138.6,519.5 L139.6,515.1 L140.5,512.3 L141.5,519.5 L142.4,519.0 L143.3,518.0 L144.2,514.5 L145.0,515.3 L145.8,519.7 L146.5,518.0 L147.3,519.8 L148.1,522.2 L148.9,524.1 L149.7,520.3 L150.4,521.6 L151.0,521.8 L151.7,518.8 L152.4,521.7 L153.0,516.0 L153.7,518.7 L154.3,515.7 L155.0,518.9 L155.7,515.3 L156.3,512.6 L157.0,512.5 L157.6,509.7 L158.2,515.4 L158.7,514.3 L159.3,515.1 L159.8,517.7 L160.4,518.8 L160.9,517.6 L161.5,516.7 L162.0,523.2 L162.5,522.4 L162.8,522.8 L163.0,525.6 L163.3,524.0 L163.6,529.5 L163.8,526.3 L164.1,527.3 L164.3,529.3 L164.6,529.2 L164.8,530.7 L165.1,532.5 L165.4,531.6 L165.6,535.4 L165.9,535.5 L166.1,541.1 L166.4,536.8 L166.6,536.8 L166.9,537.6 L167.2,540.4 L167.6,539.1 L167.9,535.1 L168.3,538.3 L168.6,531.4 L169.0,532.0 L169.3,532.1 L169.7,532.0 L170.1,529.0 L170.4,533.3 L170.8,531.7 L171.1,528.3 L171.6,528.5 L172.2,529.1 L172.8,530.2 L173.4,532.8 L174.0,534.0 L174.5,534.0 L175.1,532.9 L175.7,531.2 L176.3,531.6 L176.9,537.1 L177.5,534.1 L178.0,537.2 L178.5,542.2 L179.0,541.3 L179.4,541.7 L179.9,542.8 L180.4,545.0 L180.9,546.0 L181.4,543.1 L181.9,543.6 L182.4,545.3 L183.0,548.1 L183.5,554.5 L184.1,550.6 L184.7,551.3 L185.2,554.6 L185.8,555.2 L186.4,551.9 L187.4,547.9 L188.3,558.6 L189.2,550.8 L190.1,549.9 L191.1,553.5 L192.0,547.5 L192.9,548.5 L193.8,545.1 L194.7,550.4 L195.6,546.6 L196.5,549.3 L197.4,551.6 L198.3,549.9 L199.1,556.6 L200.0,551.4 L200.9,548.5 L201.8,555.0 L202.6,555.5 L203.3,554.8 L204.0,550.0 L204.7,549.5 L205.4,549.7 L206.1,551.3 L206.8,547.9 L207.5,550.5 L208.2,548.4 L208.9,547.1 L209.6,542.8 L210.4,539.7 L211.4,544.9 L212.5,548.2 L213.6,547.3 L214.6,543.3 L215.7,547.6 L216.6,545.6 L217.2,545.9 L217.8,540.8 L218.5,540.4 L219.1,541.4 L219.8,543.9 L220.4,539.3 L221.0,539.5 L221.7,541.6 L222.3,536.3 L223.3,536.3 L224.3,536.3 L225.3,541.1 L226.4,537.4 L227.4,535.6 L228.5,537.7 L229.5,540.2 L230.6,540.3 L231.7,541.5 L232.8,543.3 L233.8,541.3 L234.9,539.6 L236.0,536.4 L236.6,542.4 L236.9,544.8 L237.3,545.1 L237.7,546.4 L238.1,544.4 L238.5,548.5 L238.9,543.9 L239.3,545.6 L239.6,545.8 L240.1,553.2 L241.1,553.2 L242.2,553.5 L243.2,556.4 L244.3,549.7 L245.3,553.6 L246.4,552.4 L247.4,552.0 L248.4,556.0 L249.5,553.6 L250.5,552.3 L251.5,557.1 L252.5,554.6 L253.6,555.8 L254.0,559.1 L254.4,557.4 L254.7,558.3 L255.1,561.1 L255.4,565.2 L255.8,558.4 L256.1,567.3 L256.5,566.8 L256.8,566.5 L257.2,567.9 L257.5,564.5 L258.0,567.4 L258.5,568.0 L259.0,564.7 L259.5,559.7 L260.0,561.7 L260.5,558.1 L261.0,557.5 L261.4,556.8 L261.8,560.4 L262.2,561.1 L262.6,555.9 L263.0,558.0 L263.4,552.9 L263.8,552.3 L264.1,555.2 L264.5,556.4 L264.9,553.2 L265.2,543.1 L265.5,547.0 L265.7,547.4 L266.0,546.3 L266.2,542.5 L266.5,550.2 L266.7,537.9 L267.0,541.4 L267.2,538.1 L267.5,538.5 L267.7,538.2 L268.0,535.5 L268.2,536.4 L268.5,531.0 L268.7,531.5 L269.0,533.7 L269.2,528.6 L269.5,531.6 L269.7,528.2 L270.0,525.6" fill="none" stroke="#1f6fd6" stroke-width="1.25" stroke-linejoin="round" stroke-linecap="round" />
<path d="M277.5,525.3 L278.0,522.3 L278.5,525.6 L278.9,528.2 L279.4,526.0 L279.9,528.5 L280.4,528.9 L280.8,533.2 L281.3,531.1 L281.8,534.3 L282.3,533.2 L282.8,536.2 L283.5,532.2 L284.2,530.9 L284.8,531.6 L285.5,536.0 L286.1,530.0 L286.7,527.8 L287.2,529.7 L287.7,539.4 L288.3,533.7 L288.8,535.0 L289.3,536.9 L289.8,541.0 L290.4,538.6 L291.0,537.5 L291.6,535.5 L292.2,532.7 L292.8,533.5 L293.3,531.4 L293.9,527.9 L294.5,524.4 L295.1,532.4 L295.7,531.0 L296.4,529.1 L297.2,528.1 L297.9,526.6 L298.7,522.6 L299.5,521.6 L300.2,521.9 L301.0,521.3 L301.8,520.0 L302.5,518.0 L303.1,521.7 L303.8,520.7 L304.4,522.1 L305.0,521.5 L305.6,515.1 L306.2,517.0 L306.8,514.6 L307.4,514.6 L308.5,518.7 L309.6,518.1 L310.7,515.5 L311.8,516.9 L312.8,516.2 L313.9,514.4 L315.0,514.4 L315.7,512.3 L316.3,516.8 L316.9,510.0 L317.6,510.3 L318.2,510.0 L318.9,507.5 L319.5,512.4 L320.2,509.1 L320.8,501.5 L321.4,504.1 L322.0,509.6 L322.6,507.1 L323.2,509.8 L323.8,510.9 L324.4,511.6 L325.0,510.6 L325.5,513.0 L326.1,514.3 L326.7,513.0 L327.3,516.7 L327.8,515.9 L328.3,515.4 L328.8,515.3 L329.3,512.4 L329.8,509.1 L330.2,512.8 L330.7,510.9 L331.2,506.1 L331.7,505.1 L332.2,507.6 L332.7,507.3 L333.5,501.0 L334.2,503.2 L334.9,501.8 L335.6,501.8 L336.3,502.8 L337.0,504.9 L337.8,498.1 L338.9,504.2 L339.9,503.3 L341.0,506.5 L342.1,501.6 L343.1,502.4 L344.2,504.5 L345.3,503.3 L346.3,506.9 L346.8,504.8 L347.3,507.2 L347.8,507.0 L348.3,504.9 L348.8,509.8 L349.3,507.5 L349.7,509.8 L350.2,510.4 L350.7,513.0 L351.2,509.5 L351.6,514.6 L352.1,512.7 L352.5,509.9 L352.9,506.3 L353.3,504.9 L353.7,505.8 L354.1,505.4 L354.5,508.3 L354.9,510.2 L355.3,511.7 L355.8,511.5 L356.2,509.9 L356.6,517.5 L357.0,518.8 L357.4,513.4 L357.8,515.6 L358.2,522.8 L358.6,522.0 L359.4,519.7 L360.4,521.5 L361.3,517.0 L362.3,520.8 L363.2,524.5 L364.2,517.4 L365.1,524.0 L365.7,521.1 L366.3,528.8 L366.9,522.7 L367.5,523.4 L368.1,525.7 L368.8,526.5 L369.4,529.6 L370.0,533.0 L370.5,526.0 L371.0,527.0 L371.5,528.1 L372.0,523.6 L372.5,526.7 L373.0,525.1 L373.5,524.2 L373.8,522.9 L374.1,525.7 L374.3,528.3 L374.5,526.0 L374.8,530.2 L375.0,528.9 L375.2,525.7 L375.5,533.8 L375.7,532.5 L375.9,536.0 L376.2,532.9 L376.4,535.2 L376.6,535.0 L376.9,534.0 L377.1,539.0 L377.3,543.2 L377.7,540.5 L378.3,538.5 L379.0,536.7 L379.6,534.3 L380.3,537.1 L381.0,537.1 L381.5,534.9 L381.9,535.9 L382.3,536.4 L382.6,536.5 L383.0,543.2 L383.4,542.8 L383.8,542.1 L384.2,540.3 L384.6,542.9 L385.0,547.5 L385.3,546.4 L385.7,549.4 L386.0,544.0 L386.4,541.2 L386.7,539.8 L387.1,534.5 L387.4,539.7 L387.8,532.6 L388.1,535.4 L388.5,533.8 L388.8,535.2 L389.3,536.7 L389.7,538.1 L390.2,538.7 L390.6,538.4 L391.0,540.9 L391.5,541.2 L391.9,539.2 L392.3,543.9 L392.9,541.3 L393.5,542.2 L394.2,542.1 L394.8,538.5 L395.5,536.1 L396.1,539.9 L396.8,535.8 L397.4,535.6 L398.0,536.9 L398.7,532.5 L399.6,533.4 L400.6,533.8 L401.5,529.6 L402.4,529.7 L403.4,530.8 L404.3,532.6 L405.1,525.6 L405.6,530.2 L406.0,529.6 L406.5,525.3 L406.9,525.1 L407.4,520.6 L407.8,525.2 L408.3,521.0 L408.7,522.1 L409.2,517.4 L409.6,521.7 L410.2,517.2 L411.1,519.0 L412.1,521.7 L413.0,520.9 L414.0,518.9 L414.9,521.6 L415.9,523.2 L416.4,522.9 L416.7,524.0 L417.0,524.4 L417.3,525.5 L417.6,526.8 L418.0,526.1 L418.3,530.3 L418.6,531.8 L418.9,530.3 L419.2,531.2 L419.5,532.6 L419.8,533.2 L420.1,536.2 L420.4,538.4 L420.7,539.1 L421.0,541.0 L421.3,537.9 L421.6,543.2 L421.9,541.6 L422.2,543.3 L422.5,543.0 L422.8,543.6 L423.1,545.5 L423.4,545.3 L423.7,546.5 L424.0,546.0 L424.3,553.0 L424.6,555.2 L424.9,553.1 L425.2,550.5 L425.6,555.2 L425.9,559.7 L426.2,554.4 L426.6,560.2 L427.1,556.9 L427.6,549.4 L428.1,555.0 L428.6,553.3 L429.1,551.0 L429.6,547.2 L430.0,548.8 L430.4,555.1 L430.7,550.8 L431.1,549.7 L431.4,555.3 L431.8,555.5 L432.1,554.6 L432.5,558.7 L432.8,556.8 L433.2,558.7 L433.5,558.4 L433.9,563.3 L434.4,559.6 L434.8,556.4 L435.3,561.3 L435.7,557.7 L436.2,555.3 L436.6,556.6 L437.1,551.7 L437.5,552.1 L438.0,550.9 L438.4,552.7 L438.9,549.6 L439.5,552.2 L440.1,552.5 L440.6,553.3 L441.2,552.5 L441.8,556.1 L442.3,551.3 L442.8,553.7 L443.3,550.4 L443.8,555.2 L444.3,554.4 L444.8,549.0 L445.3,551.3 L445.8,547.5 L446.3,551.1 L446.8,548.5 L447.2,555.6 L447.7,554.2 L448.1,555.5 L448.6,552.8 L449.0,550.7 L449.5,554.5 L449.9,556.5 L450.4,557.3 L450.8,557.4 L451.2,558.3" fill="none" stroke="#1f6fd6" stroke-width="1.25" stroke-linejoin="round" stroke-linecap="round" />
<rect x="215.5" y="393.3" width="22.5" height="23" rx="3.5" fill="#9a9a9a"/><rect x="222.6" y="400.2" width="8.6" height="9.2" fill="#fff"/>
<rect x="-11.2" y="-11.2" width="22.4" height="22.4" rx="4.5" fill="#e8363e" transform="translate(207,468.8) rotate(45)"/>
<rect x="-4.2" y="-4.2" width="8.4" height="8.4" fill="#fff" transform="translate(207,468.8) rotate(45)"/>
<circle cx="198.3" cy="523" r="8" fill="none" stroke="#1e6fe0" stroke-width="6.6"/>
<defs><clipPath id="afmclip"><rect x="491" y="320" width="294" height="283.5"/></clipPath><filter id="afmblur" x="-5%" y="-5%" width="110%" height="110%"><feGaussianBlur stdDeviation="0.8"/></filter><filter id="afmblur2" x="-30%" y="-30%" width="160%" height="160%"><feGaussianBlur stdDeviation="5"/></filter><linearGradient id="topband" x1="0" y1="0" x2="0" y2="1"><stop offset="0" stop-color="#420c04"/><stop offset="0.55" stop-color="#4c0f06"/><stop offset="0.8" stop-color="#5e1408" stop-opacity="0.7"/><stop offset="1" stop-color="#6a1608" stop-opacity="0"/></linearGradient><linearGradient id="topband2" x1="0" y1="0" x2="0" y2="1"><stop offset="0" stop-color="#5e1207"/><stop offset="0.6" stop-color="#681408"/><stop offset="1" stop-color="#6e1608" stop-opacity="0"/></linearGradient><linearGradient id="topbandH" x1="0" y1="0" x2="1" y2="0"><stop offset="0" stop-color="#430d05"/><stop offset="0.55" stop-color="#521006"/><stop offset="1" stop-color="#641408"/></linearGradient><filter id="afmblur3" x="-10%" y="-50%" width="120%" height="200%"><feGaussianBlur stdDeviation="2.2"/></filter><linearGradient id="gT2" x1="0" y1="0" x2="0" y2="1"><stop offset="0" stop-color="#b83a18"/><stop offset="0.2" stop-color="#bc3e1a"/><stop offset="0.25" stop-color="#c7602a"/><stop offset="0.6" stop-color="#cc682e"/><stop offset="1" stop-color="#c25420"/></linearGradient><linearGradient id="gF2" x1="0" y1="0" x2="1" y2="1"><stop offset="0" stop-color="#74180a"/><stop offset="0.45" stop-color="#94220e"/><stop offset="0.7" stop-color="#881e0a"/><stop offset="1" stop-color="#7a1a0a"/></linearGradient><linearGradient id="gF1" x1="0" y1="0" x2="0.3" y2="1"><stop offset="0" stop-color="#a92a0f"/><stop offset="0.5" stop-color="#a0260d"/><stop offset="1" stop-color="#8f1f0b"/></linearGradient><linearGradient id="gFR" x1="0" y1="0" x2="0.2" y2="1"><stop offset="0" stop-color="#bf3c1c"/><stop offset="0.4" stop-color="#b42d10"/><stop offset="1" stop-color="#ae2a0e"/></linearGradient><linearGradient id="gF7" x1="0" y1="0" x2="1" y2="0.6"><stop offset="0" stop-color="#aa280d"/><stop offset="1" stop-color="#b83514"/></linearGradient></defs><g clip-path="url(#afmclip)"><rect x="491" y="320" width="294" height="283.5" fill="#7a180a"/><g filter="url(#afmblur)"><g filter="url(#afmblur2)"><polygon points="491.0,350.0 640.0,345.0 650.0,370.0 620.0,420.0 560.0,430.0 491.0,430.0" fill="#7c1a0a" /><polygon points="491.0,450.0 525.0,455.0 530.0,495.0 512.0,525.0 491.0,530.0" fill="#561108" /><polygon points="491.0,440.0 580.0,445.0 640.0,520.0 650.0,603.0 491.0,603.0" fill="#661408" /><polygon points="504.0,504.0 551.0,500.0 556.0,540.0 530.0,556.0 504.0,550.0" fill="#761809" /><polygon points="491.0,565.0 540.0,580.0 600.0,594.0 650.0,603.0 491.0,603.0" fill="#4a0e06" /><polygon points="600.0,420.0 640.0,400.0 640.0,470.0 600.0,470.0" fill="#641408" /></g><polygon points="480,310 706,310 704,337 640,339 491,343 480,343" fill="url(#topbandH)" filter="url(#afmblur3)"/><polygon points="580.0,433.0 606.0,426.0 626.0,432.0 624.0,444.0 626.0,454.0 634.0,461.0 620.0,466.0 600.0,462.0 585.0,452.0" fill="#88200c" /><polygon points="537.5,466.0 545.0,460.5 554.0,459.5 557.0,464.0 553.5,471.5 545.0,475.0 538.5,472.0" fill="#b83818" /><polygon points="570.0,478.0 590.0,466.0 615.0,462.0 636.0,466.0 648.0,476.0 652.0,492.0 646.0,510.0 630.0,515.0 600.0,512.0 580.0,500.0" fill="#96220c" /><polygon points="625.1,450.0 630.1,458.4 640.2,465.1 651.9,470.9 660.2,473.4 655.0,479.0 649.0,491.0 647.0,503.0 640.2,492.0 631.8,480.0 626.0,466.0" fill="#641408" /><polygon points="585.0,565.0 610.0,560.0 640.0,562.0 660.0,575.0 668.0,595.0 640.0,603.0 600.0,603.0 588.0,590.0" fill="#94220c" /><polygon points="650.0,535.0 690.0,552.0 712.0,563.0 706.0,603.0 668.0,603.0 660.0,575.0" fill="#8a1e0a" /><polygon points="640.0,352.0 700.0,345.0 760.0,400.0 720.0,412.0 700.0,400.0 650.0,380.0" fill="#701709" filter="url(#afmblur2)"/><polygon points="640.0,320.0 704.0,320.0 700.0,332.0 696.0,350.0 690.0,360.0 670.0,350.0 640.0,340.0" fill="#5e1207" /><polygon points="736.9,320.0 785.0,320.0 785.0,413.0 780.3,411.3 773.6,408.8 768.6,407.1 760.3,397.9 758.6,389.6 751.9,379.5 746.9,371.2 741.9,361.2 736.9,353.6 734.3,347.8 738.5,342.8 742.7,332.7 741.9,326.0" fill="url(#gT2)" /><polygon points="693.4,357.8 696.7,349.4 710.1,341.1 721.8,345.3 731.8,346.9 734.3,347.8 736.9,353.6 741.9,361.2 746.9,371.2 751.9,379.5 756.9,389.6 758.6,396.3 753.6,401.3 746.9,406.3 735.2,407.1 723.5,404.6 713.4,399.6 701.7,392.1 694.2,382.9 690.0,371.2" fill="url(#gF2)" /><polyline points="736.9,353.6 741.9,361.2 746.9,371.2 751.9,379.5 756.9,389.6 758.6,396.3" fill="none" stroke="#4a0e04" stroke-width="3" stroke-dasharray="5 1.2 3 0.8" stroke-linejoin="round"/><polygon points="702.6,322.7 706.8,320.0 736.9,320.0 741.9,326.0 742.7,332.7 738.5,342.8 731.8,346.9 721.8,345.3 710.1,341.1 703.4,334.4 701.4,327.7" fill="#a83012" /><polygon points="773.0,409.0 785.0,409.0 785.0,505.0 778.0,500.0 772.0,470.0 773.0,440.0" fill="#2a0500" /><polygon points="770.0,470.0 785.0,466.0 785.0,482.0 772.0,484.0" fill="#9a260e" /><polygon points="647.7,378.4 660.2,382.6 673.6,389.3 687.0,395.1 700.0,399.3 708.0,403.0 711.0,410.0 706.8,420.1 702.6,433.4 700.1,443.5 696.7,455.2 693.7,461.0 683.6,466.8 671.9,470.1 660.2,473.4 651.9,470.9 640.2,465.1 630.1,458.4 625.1,450.0 624.3,443.6 626.0,431.9 630.1,421.9 635.2,410.2 640.2,400.1 644.3,388.4" fill="url(#gF1)" /><polyline points="709,404 706.8,420.1 702.6,433.4 700.1,443.5 696.7,455.2 697.6,463.5" fill="none" stroke="#420c04" stroke-width="2.4"/><polygon points="710.9,410.0 730.2,409.2 755.3,409.2 773.6,410.0 776.2,415.0 772.8,425.1 771.1,436.8 772.8,448.5 772.0,461.9 768.6,473.6 760.3,483.6 746.9,489.5 733.5,491.1 723.5,488.6 713.4,481.9 703.4,473.6 697.6,463.5 696.7,455.2 700.1,443.5 702.6,433.4 706.8,420.1" fill="url(#gFR)" /><polygon points="726.0,490.0 746.0,490.0 744.0,502.0 736.0,504.0 730.0,498.0" fill="#380802" /><polygon points="653.5,478.5 665.3,475.1 677.0,471.8 690.3,468.4 697.0,466.0 703.4,473.6 713.4,481.9 723.5,488.6 729.0,493.0 731.0,503.0 728.0,518.0 720.0,535.0 713.0,548.0 708.0,556.0 697.0,552.0 683.6,547.0 670.3,540.3 656.9,533.6 646.9,525.3 645.2,515.3 646.0,503.5 648.5,490.2" fill="url(#gF7)" /><polygon points="697.0,548.0 712.0,546.0 708.0,557.0" fill="#c44a1a" /><polygon points="729.0,493.0 760.0,484.0 772.0,484.0 785.0,482.0 785.0,505.0 757.0,507.0 745.0,509.0 731.0,514.0 731.0,503.0" fill="#a0280e" /><polygon points="760.0,508.5 785.0,504.0 785.0,524.5 766.5,522.3 764.4,516.0" fill="#c05020" /><polygon points="731.4,513.8 744.1,509.6 755.9,506.9 760.1,508.5 764.4,516.0 766.5,522.3 760.1,525.5 749.5,525.0 747.3,529.8 744.1,535.1 735.6,534.0 731.4,529.8 730.3,521.3" fill="#e6a450" /><polygon points="747.3,525.5 760.1,525.5 776.1,525.0 785.0,524.5 785.0,560.6 775.0,557.4 765.4,553.2 758.0,546.8 752.7,539.4 748.4,533.0" fill="#ecb45c" /><polygon points="747.9,525.5 755.9,526.1 756.9,535.1 760.1,544.7 756.9,545.7 751.6,538.3 747.9,531.9" fill="#f8d080" /><polygon points="720.0,536.0 735.6,534.0 744.1,535.1 752.7,539.4 758.0,546.8 765.4,553.2 775.0,557.4 775.0,563.0 712.0,563.0 708.0,556.0" fill="#861c0a" /><polygon points="726.0,594.0 738.0,594.0 742.0,603.5 728.0,603.5" fill="#e8b060" /><polygon points="747.0,594.0 766.0,594.0 770.0,603.5 750.0,603.5" fill="#e8b060" /><polygon points="775.5,560.0 785.0,561.5 785.0,603.5 775.5,603.5" fill="#76180a" /></g><g filter="url(#afmblur)"><circle cx="703" cy="338" r="2.2" fill="#e8a048"/><circle cx="655" cy="343" r="2.8" fill="#e8983c"/><circle cx="656.5" cy="345" r="1.5" fill="#f4c070"/><circle cx="708" cy="406" r="3.2" fill="#e89a40"/><circle cx="706" cy="418" r="2.0" fill="#2a0500"/><circle cx="704" cy="412" r="1.6" fill="#2a0500"/><circle cx="695" cy="460" r="2.6" fill="#e8a040"/><circle cx="722" cy="493" r="2.8" fill="#eaa848"/><circle cx="734" cy="512" r="2.2" fill="#f0b860"/><circle cx="686" cy="586" r="2.0" fill="#eaa040"/><circle cx="777" cy="356" r="1.6" fill="#f0b060"/><circle cx="741" cy="324" r="2.5" fill="#4a0c04"/></g></g>
<defs><linearGradient id="cbg" x1="0" y1="0" x2="0" y2="1"><stop offset="0" stop-color="#fffef8"/><stop offset="0.077" stop-color="#fdf2dc"/><stop offset="0.154" stop-color="#f9dfae"/><stop offset="0.231" stop-color="#f3c87e"/><stop offset="0.308" stop-color="#ecac56"/><stop offset="0.385" stop-color="#e0903e"/><stop offset="0.462" stop-color="#d4742e"/><stop offset="0.538" stop-color="#c04e1c"/><stop offset="0.615" stop-color="#a22c0e"/><stop offset="0.692" stop-color="#7a1a0a"/><stop offset="0.769" stop-color="#521006"/><stop offset="0.846" stop-color="#300802"/><stop offset="0.923" stop-color="#180400"/><stop offset="1" stop-color="#000000"/></linearGradient></defs><rect x="794.2" y="320.3" width="15.3" height="283" fill="url(#cbg)"/><path d="M794.2,603.3 V320.3 H809.5" fill="none" stroke="#333" stroke-width="1"/><path d="M809.5,320 V603.8" fill="none" stroke="#111" stroke-width="1.6"/><path d="M793.7,603.3 H818" fill="none" stroke="#222" stroke-width="1.4"/><line x1="809.5" y1="320.3" x2="818" y2="320.3" stroke="#222" stroke-width="1.2"/><line x1="809.5" y1="343.7" x2="818" y2="343.7" stroke="#222" stroke-width="1.2"/><line x1="809.5" y1="365.2" x2="818" y2="365.2" stroke="#222" stroke-width="1.2"/><line x1="809.5" y1="387" x2="818" y2="387" stroke="#222" stroke-width="1.2"/><line x1="809.5" y1="408.5" x2="818" y2="408.5" stroke="#222" stroke-width="1.2"/><line x1="809.5" y1="429.9" x2="818" y2="429.9" stroke="#222" stroke-width="1.2"/><line x1="809.5" y1="451.8" x2="818" y2="451.8" stroke="#222" stroke-width="1.2"/><line x1="809.5" y1="473.6" x2="818" y2="473.6" stroke="#222" stroke-width="1.2"/><line x1="809.5" y1="495.5" x2="818" y2="495.5" stroke="#222" stroke-width="1.2"/><line x1="809.5" y1="517.3" x2="818" y2="517.3" stroke="#222" stroke-width="1.2"/><line x1="809.5" y1="539.1" x2="818" y2="539.1" stroke="#222" stroke-width="1.2"/><line x1="809.5" y1="560.7" x2="818" y2="560.7" stroke="#222" stroke-width="1.2"/><line x1="809.5" y1="582.5" x2="818" y2="582.5" stroke="#222" stroke-width="1.2"/><text x="839.7" y="331.7" font-size="12.6" fill="#222" stroke="#222" stroke-width="0.2" text-anchor="end">130</text><text x="839.7" y="354.9" font-size="12.6" fill="#222" stroke="#222" stroke-width="0.2" text-anchor="end">120</text><text x="839.7" y="376.3" font-size="12.6" fill="#222" stroke="#222" stroke-width="0.2" text-anchor="end">110</text><text x="839.7" y="397.9" font-size="12.6" fill="#222" stroke="#222" stroke-width="0.2" text-anchor="end">100</text><text x="839.7" y="419.5" font-size="12.6" fill="#222" stroke="#222" stroke-width="0.2" text-anchor="end">90</text><text x="839.7" y="441.5" font-size="12.6" fill="#222" stroke="#222" stroke-width="0.2" text-anchor="end">80</text><text x="839.7" y="463.6" font-size="12.6" fill="#222" stroke="#222" stroke-width="0.2" text-anchor="end">70</text><text x="839.7" y="485.4" font-size="12.6" fill="#222" stroke="#222" stroke-width="0.2" text-anchor="end">60</text><text x="839.7" y="507" font-size="12.6" fill="#222" stroke="#222" stroke-width="0.2" text-anchor="end">50</text><text x="839.7" y="528.7" font-size="12.6" fill="#222" stroke="#222" stroke-width="0.2" text-anchor="end">40</text><text x="839.7" y="550.2" font-size="12.6" fill="#222" stroke="#222" stroke-width="0.2" text-anchor="end">30</text><text x="839.7" y="572" font-size="12.6" fill="#222" stroke="#222" stroke-width="0.2" text-anchor="end">20</text><text x="839.7" y="600.7" font-size="12.6" fill="#222" stroke="#222" stroke-width="0.2" text-anchor="end">0</text><text x="843.2" y="331.7" font-size="12.6" fill="#222" stroke="#222" stroke-width="0.2" textLength="16" lengthAdjust="spacingAndGlyphs">nm</text>
<path d="M500.0,433.8 L500.6,434.1 L501.3,434.4 L501.9,434.7 L502.5,435.0 L502.6,434.3 L502.7,433.6 L502.8,432.9 L502.9,432.2 L503.0,431.5 L503.1,430.8 L503.2,430.1 L503.3,429.4 L503.4,428.7 L503.5,428.0 L503.6,427.3 L503.7,426.7 L503.8,426.0 L503.9,425.3 L504.0,424.6 L504.1,423.9 L504.2,423.2 L504.3,422.5 L504.4,421.8 L504.5,421.1 L504.6,420.4 L504.7,419.7 L504.8,419.0 L504.9,418.3 L505.0,417.6 L505.1,418.1 L505.2,418.8 L505.3,419.5 L505.4,420.2 L505.4,420.9 L505.5,421.5 L505.6,422.2 L505.7,422.9 L505.8,423.6 L505.9,424.3 L506.0,425.0 L506.1,425.7 L506.2,426.4 L506.3,427.1 L506.4,427.8 L506.5,428.5 L506.6,429.2 L506.7,429.9 L506.7,430.6 L506.8,431.3 L506.9,432.0 L507.0,432.3 L507.2,431.6 L507.3,431.0 L507.4,430.3 L507.6,429.6 L507.7,428.9 L507.9,428.2 L508.0,427.5 L508.1,426.8 L508.3,426.1 L508.4,425.4 L508.5,424.8 L508.7,424.1 L508.9,424.1 L509.1,424.8 L509.3,425.4 L509.5,426.1 L509.8,426.8 L510.0,427.4 L510.2,428.1 L510.4,428.8 L510.6,429.4 L510.9,430.1 L511.1,430.8 L511.4,431.3 L512.0,431.6 L512.7,432.0 L513.3,432.3 L513.8,432.3 L513.8,431.6 L513.9,430.9 L514.0,430.2 L514.1,429.5 L514.2,428.8 L514.2,428.1 L514.3,427.4 L514.4,426.7 L514.5,426.0 L514.5,425.3 L514.6,424.6 L514.7,423.9 L514.8,423.2 L514.9,422.5 L514.9,421.8 L515.0,421.1 L515.1,420.5 L515.2,419.8 L515.2,419.1 L515.3,418.4 L515.4,417.7 L515.5,417.0 L515.6,416.3 L515.6,415.6 L515.7,414.9 L515.8,414.2 L515.9,413.5 L515.9,412.8 L516.0,412.1 L516.1,411.4 L516.2,410.7 L516.3,410.0 L516.3,409.3 L516.3,408.6 L516.4,407.9 L516.4,407.2 L516.5,406.5 L516.5,405.8 L516.6,405.1 L516.6,404.4 L516.6,403.7 L516.7,403.0 L516.7,402.3 L516.8,401.6 L516.8,400.9 L516.9,400.2 L516.9,399.5 L517.0,398.8 L517.0,398.1 L517.0,397.4 L517.1,396.7 L517.1,396.0 L517.2,395.3 L517.2,394.6 L517.3,393.9 L517.3,393.2 L517.3,392.5 L517.4,391.8 L517.4,391.1 L517.5,390.4 L517.5,390.3 L517.7,391.0 L517.8,391.7 L517.9,392.4 L518.0,393.1 L518.1,393.8 L518.2,394.5 L518.3,395.2 L518.4,395.9 L518.5,396.5 L518.7,397.2 L518.8,397.9 L518.9,398.6 L519.0,399.3 L519.1,400.0 L519.2,400.7 L519.3,401.4 L519.4,402.1 L519.7,402.3 L520.1,401.7 L520.5,401.1 L520.9,400.5 L521.3,400.0 L521.4,399.3 L521.6,398.6 L521.7,397.9 L521.9,397.2 L522.1,396.5 L522.2,395.9 L522.4,395.2 L522.5,394.5 L522.7,393.8 L522.9,393.1 L523.0,392.4 L523.1,391.7 L523.1,391.0 L523.2,390.3 L523.3,389.6 L523.3,388.9 L523.4,388.3 L523.4,387.6 L523.5,386.9 L523.6,386.2 L523.6,385.5 L523.7,384.8 L523.8,384.1 L523.8,383.4 L523.9,382.7 L523.9,382.0 L524.0,381.3 L524.1,380.6 L524.1,379.9 L524.2,379.2 L524.2,378.5 L524.3,377.8 L524.4,377.1 L524.4,376.4 L524.5,375.7 L524.6,375.0 L524.6,374.3 L524.7,373.6 L524.7,372.9 L524.8,372.2 L524.9,371.5 L524.9,370.8 L525.0,370.1 L525.1,369.4 L525.1,368.7 L525.2,368.0 L525.3,367.3 L525.4,366.6 L525.4,365.9 L525.5,365.2 L525.6,364.5 L525.7,363.8 L525.7,363.1 L525.8,362.4 L525.9,361.7 L526.0,361.0 L526.0,360.3 L526.1,359.6 L526.2,358.9 L526.3,358.2 L526.3,357.5 L526.4,356.8 L526.5,356.1 L526.6,355.4 L526.6,354.7 L526.7,354.0 L526.8,353.3 L526.9,352.6 L526.9,351.9 L527.0,351.3 L527.0,352.0 L527.1,352.7 L527.1,353.4 L527.2,354.1 L527.2,354.8 L527.3,355.5 L527.3,356.2 L527.4,356.9 L527.4,357.6 L527.5,358.3 L527.5,359.0 L527.6,359.7 L527.6,360.4 L527.7,361.1 L527.7,361.8 L527.7,362.5 L527.8,363.2 L527.8,363.9 L527.9,364.6 L527.9,365.3 L528.0,366.0 L528.0,366.7 L528.1,367.4 L528.1,368.1 L528.2,368.8 L528.2,369.5 L528.3,370.2 L528.3,370.9 L528.4,371.6 L528.4,372.3 L528.4,373.0 L528.5,373.7 L528.5,374.4 L528.6,375.1 L528.6,375.8 L528.7,376.5 L528.7,377.2 L528.8,377.1 L528.8,376.4 L528.9,375.7 L528.9,375.0 L528.9,374.3 L529.0,373.6 L529.0,372.9 L529.1,372.2 L529.1,371.5 L529.2,370.8 L529.2,370.1 L529.3,369.4 L529.3,368.7 L529.3,368.0 L529.4,367.3 L529.4,366.6 L529.5,365.9 L529.5,365.2 L529.6,364.5 L529.6,363.8 L529.6,363.1 L529.7,362.4 L529.7,361.7 L529.8,361.0 L529.8,360.3 L529.9,359.6 L529.9,358.9 L530.0,358.2 L530.0,357.5 L530.1,358.2 L530.1,358.9 L530.2,359.6 L530.2,360.3 L530.3,361.0 L530.3,361.7 L530.4,362.4 L530.4,363.1 L530.5,363.8 L530.6,364.5 L530.6,365.2 L530.7,365.9 L530.7,366.6 L530.8,367.3 L530.8,368.0 L530.9,368.7 L530.9,369.4 L531.0,370.1 L531.1,370.8 L531.1,371.5 L531.2,372.1 L531.2,372.8 L531.3,373.5 L531.3,374.2 L531.4,374.9 L531.5,375.6 L531.5,376.3 L531.6,377.0 L531.6,377.7 L531.7,378.4 L531.7,379.1 L531.8,379.8 L531.8,380.5 L531.9,381.2 L532.0,381.9 L532.1,382.6 L532.7,383.0 L533.3,383.4 L533.8,383.8 L534.3,384.3 L534.8,384.8 L535.1,384.6 L535.2,383.9 L535.4,383.2 L535.5,382.5 L535.6,381.8 L535.8,381.1 L535.9,380.4 L536.0,379.8 L536.2,379.1 L536.3,378.4 L536.5,377.7 L536.6,377.0 L536.7,376.3 L536.9,375.6 L537.0,374.9 L537.1,374.3 L537.3,373.6 L537.4,372.9 L537.5,372.8 L537.7,373.5 L537.8,374.2 L537.9,374.9 L538.0,375.6 L538.1,376.3 L538.2,377.0 L538.3,377.7 L538.4,378.4 L538.5,379.0 L538.7,379.7 L538.8,380.4 L538.9,381.1 L539.0,381.8 L539.1,382.5 L539.2,383.2 L539.3,383.9 L539.4,384.6 L539.7,385.2 L540.3,385.6 L540.9,386.0 L541.4,386.1 L541.8,385.5 L542.2,384.9 L542.5,384.3 L542.9,383.7 L543.3,383.1 L543.7,382.6 L544.2,383.0 L544.7,383.4 L545.2,383.9 L545.7,384.4 L546.2,384.9 L546.6,384.5 L547.0,383.9 L547.4,383.3 L547.8,382.7 L548.1,382.2 L548.5,381.6 L548.9,381.5 L549.3,382.1 L549.7,382.7 L550.1,383.3 L550.5,383.8 L550.9,384.4 L551.3,385.0 L551.9,385.2 L552.6,385.4 L553.3,385.7 L553.9,385.9 L554.6,386.1 L555.3,386.2 L555.9,386.0 L556.6,385.8 L557.3,385.7 L558.0,385.5 L558.7,385.3 L559.4,385.2 L560.0,385.0 L560.7,385.2 L561.4,385.5 L562.0,385.7 L562.7,385.9 L563.4,386.1 L564.0,386.1 L564.6,385.8 L565.3,385.5 L565.9,385.2 L566.3,385.3 L566.6,386.0 L566.8,386.6 L567.0,387.3 L567.2,387.9 L567.5,388.6 L567.7,389.3 L567.9,389.9 L568.1,390.6 L568.3,391.3 L568.6,391.9 L568.8,392.6 L569.0,393.3 L569.2,393.9 L569.5,394.6 L569.7,395.3 L569.9,395.9 L570.1,396.6 L570.3,397.3 L570.6,397.9 L570.8,398.6 L571.0,399.3 L571.2,399.9 L571.8,400.3 L572.4,400.6 L573.1,400.9 L573.7,401.2 L574.0,401.8 L574.3,402.4 L574.7,403.1 L575.0,403.7 L575.3,404.3 L575.6,405.0 L575.9,405.6 L576.2,406.2 L576.7,405.8 L577.2,405.3 L577.7,404.8 L578.2,404.3 L578.7,403.8 L579.3,404.0 L579.9,404.3 L580.6,404.7 L581.2,405.0 L581.7,404.5 L582.2,404.0 L582.7,403.6 L583.2,403.1 L583.7,402.6 L584.0,401.9 L584.3,401.3 L584.7,400.7 L585.0,400.1 L585.3,399.4 L585.6,398.8 L585.9,398.2 L586.2,397.6 L586.4,398.1 L586.6,398.8 L586.8,399.5 L587.0,400.1 L587.2,400.8 L587.4,401.5 L587.6,402.2 L587.7,402.8 L587.9,403.5 L588.2,403.3 L588.4,402.7 L588.7,402.0 L589.0,401.4 L589.2,400.7 L589.5,400.1 L589.7,399.4 L590.0,398.8 L590.4,399.3 L590.8,399.9 L591.2,400.5 L591.6,401.1 L591.9,401.7 L592.3,402.2 L592.7,402.1 L593.0,401.5 L593.3,400.9 L593.6,400.3 L593.9,399.6 L594.2,399.0 L594.6,398.4 L594.9,397.8 L595.2,397.8 L595.6,398.4 L596.0,399.0 L596.4,399.6 L596.8,400.2 L597.2,400.8 L597.6,401.2 L598.1,400.7 L598.6,400.2 L599.1,399.7 L599.6,399.2 L600.1,398.8 L600.7,399.1 L601.3,399.4 L602.0,399.7 L602.6,399.9 L603.1,399.4 L603.6,398.9 L604.1,398.4 L604.6,397.9 L605.1,397.5 L605.7,397.8 L606.3,398.2 L606.9,398.5 L607.6,398.7 L608.1,398.2 L608.6,397.7 L609.0,397.2 L609.5,396.7 L610.0,396.3 L610.3,397.0 L610.5,397.6 L610.8,398.3 L611.1,398.9 L611.3,399.6 L611.6,400.2 L611.8,400.9 L612.1,401.5 L612.4,402.1 L612.7,402.8 L613.0,403.4 L613.3,404.1 L613.6,404.7 L613.8,405.4 L613.9,406.0 L614.0,406.7 L614.2,407.4 L614.3,408.1 L614.4,408.8 L614.5,409.5 L614.6,410.2 L614.7,410.9 L614.8,411.6 L615.0,412.3 L615.1,413.0 L615.2,413.7 L615.3,414.3 L615.4,415.0 L615.5,415.7 L615.7,416.4 L615.8,417.1 L615.9,417.8 L616.0,418.5 L616.1,419.2 L616.2,419.9 L616.8,420.3 L617.4,420.6 L618.0,420.9 L618.7,421.2 L618.8,420.7 L618.9,420.0 L618.9,419.3 L619.0,418.6 L619.0,417.9 L619.1,417.2 L619.2,416.5 L619.2,415.8 L619.3,415.1 L619.4,414.4 L619.4,413.7 L619.5,413.0 L619.5,412.3 L619.6,411.6 L619.7,410.9 L619.7,410.2 L619.8,409.5 L619.8,408.8 L619.9,408.1 L620.0,407.4 L620.0,406.7 L620.1,406.0 L620.1,405.3 L620.2,404.6 L620.3,403.9 L620.3,403.2 L620.4,402.5 L620.5,401.8 L620.5,401.4 L620.6,402.1 L620.7,402.8 L620.7,403.5 L620.8,404.2 L620.9,404.9 L621.0,405.6 L621.0,406.3 L621.1,407.0 L621.2,407.7 L621.3,408.4 L621.3,409.1 L621.4,409.8 L621.5,410.5 L621.6,411.2 L621.6,411.9 L621.7,412.6 L621.8,413.3 L621.9,414.0 L621.9,414.7 L622.0,415.4 L622.1,416.1 L622.2,416.8 L622.2,417.5 L622.3,418.2 L622.4,418.9 L622.5,419.6 L622.7,420.1 L623.4,420.4 L624.0,420.7 L624.6,421.1 L625.2,421.4 L625.7,421.9 L626.2,422.4 L626.7,422.9 L627.2,423.4 L627.5,423.5 L627.6,422.8 L627.6,422.1 L627.6,421.4 L627.7,420.7 L627.7,420.0 L627.7,419.3 L627.8,418.6 L627.8,417.9 L627.9,417.2 L627.9,416.5 L627.9,415.8 L628.0,415.1 L628.0,414.4 L628.0,413.7 L628.1,413.0 L628.1,412.3 L628.2,411.6 L628.2,410.9 L628.2,410.2 L628.3,409.5 L628.3,408.8 L628.3,408.1 L628.4,407.4 L628.4,406.7 L628.5,406.0 L628.5,405.3 L628.5,404.6 L628.6,403.9 L628.6,403.2 L628.6,402.5 L628.7,401.8 L628.7,401.1 L628.8,400.4 L628.8,399.7 L628.8,399.0 L628.9,398.3 L628.9,397.6 L628.9,396.9 L629.0,396.2 L629.0,395.5 L629.1,394.8 L629.1,394.1 L629.1,393.4 L629.2,392.7 L629.2,392.0 L629.2,391.3 L629.3,391.9 L629.3,392.6 L629.4,393.3 L629.4,394.0 L629.5,394.7 L629.5,395.4 L629.6,396.1 L629.6,396.8 L629.7,397.5 L629.7,398.2 L629.8,398.9 L629.8,399.6 L629.9,400.3 L629.9,401.0 L630.0,401.7 L630.0,402.4 L630.1,403.1 L630.1,403.8 L630.2,404.5 L630.2,405.2 L630.3,405.9 L630.3,406.6 L630.4,407.3 L630.4,408.0 L630.5,408.7 L630.5,409.4 L630.6,410.1 L630.6,410.8 L630.7,411.5 L630.7,412.2 L630.8,412.9 L630.8,413.6 L630.9,414.3 L630.9,415.0 L631.0,415.7 L631.0,416.4 L631.0,417.1 L631.1,417.8 L631.1,418.5 L631.2,419.2 L631.2,419.9 L631.8,420.3 L632.4,420.6 L633.0,420.9 L633.7,421.2 L634.3,421.0 L634.9,420.7 L635.6,420.3 L636.2,420.0 L636.5,419.4 L636.8,418.8 L637.1,418.2 L637.4,417.5 L637.7,416.9 L638.0,416.2" fill="none" stroke="#fff0e8" stroke-width="1.45" stroke-linejoin="round" stroke-linecap="round" />
<path d="M525.0,580.0 L525.6,580.3 L526.3,580.6 L526.9,580.9 L527.5,581.2 L527.8,580.6 L528.1,580.0 L528.4,579.4 L528.8,578.8 L529.2,579.4 L529.5,579.9 L529.9,580.5 L530.3,581.1 L530.7,581.7 L531.1,582.3 L531.6,582.2 L532.1,581.7 L532.6,581.2 L533.0,580.7 L533.5,580.2 L533.8,579.6 L533.9,578.9 L533.9,578.2 L534.0,577.5 L534.1,576.8 L534.1,576.1 L534.2,575.4 L534.3,574.7 L534.4,574.0 L534.4,573.3 L534.5,572.6 L534.6,571.9 L534.6,571.2 L534.7,570.5 L534.8,569.8 L534.8,569.1 L534.9,568.4 L535.0,567.7 L535.1,567.0 L535.2,566.3 L535.4,565.6 L535.5,565.0 L535.6,564.3 L535.8,563.6 L535.9,562.9 L536.1,562.2 L536.2,561.5 L536.3,560.8 L536.5,560.1 L536.6,559.4 L536.7,558.8 L536.9,558.1 L537.1,557.5 L537.8,557.2 L538.4,556.9 L539.1,556.6 L539.7,556.4 L540.3,556.5 L540.8,557.0 L541.3,557.5 L541.8,558.0 L542.3,558.5 L542.8,558.6 L543.5,558.3 L544.1,558.1 L544.8,557.8 L545.4,557.5 L546.1,557.8 L546.7,558.1 L547.3,558.4 L547.9,558.7 L548.5,558.4 L549.1,557.9 L549.6,557.5 L550.2,557.1 L550.7,556.6 L551.3,556.3 L551.8,556.8 L552.3,557.3 L552.8,557.8 L553.3,558.3 L553.8,558.7 L554.4,558.5 L555.1,558.3 L555.8,558.1 L556.4,557.9 L557.1,557.6 L557.8,557.6 L558.4,557.9 L559.0,558.3 L559.6,558.6 L560.3,558.6 L560.9,558.2 L561.5,557.9 L562.1,557.5 L562.7,557.2 L563.3,557.2 L563.9,557.5 L564.5,557.8 L565.2,558.2 L565.8,558.5 L566.4,558.8 L567.0,559.3 L567.5,559.7 L568.0,559.9 L568.0,559.2 L568.1,558.5 L568.1,557.8 L568.2,557.1 L568.2,556.4 L568.2,555.7 L568.3,555.0 L568.3,554.3 L568.4,553.6 L568.4,552.9 L568.4,552.2 L568.5,551.5 L568.5,550.8 L568.5,550.1 L568.6,549.4 L568.6,548.7 L568.7,548.0 L568.7,547.3 L568.7,546.6 L568.8,545.9 L568.8,545.2 L568.8,544.5 L568.9,543.8 L568.9,543.1 L569.0,542.3 L569.0,541.6 L569.0,540.9 L569.1,540.2 L569.1,539.5 L569.2,538.8 L569.2,538.1 L569.2,537.4 L569.3,536.7 L569.3,536.0 L569.3,535.3 L569.4,534.6 L569.4,533.9 L569.5,533.2 L569.5,532.5 L569.6,531.8 L569.7,531.1 L569.8,530.4 L569.9,529.7 L570.0,529.1 L570.1,528.4 L570.1,527.7 L570.2,527.0 L570.3,526.3 L570.4,525.6 L570.6,525.1 L571.0,525.7 L571.3,526.3 L571.7,526.9 L572.1,527.4 L572.5,528.0 L572.9,528.6 L573.3,528.3 L573.8,527.8 L574.2,527.2 L574.7,526.7 L575.1,526.4 L575.4,527.0 L575.7,527.6 L576.0,528.3 L576.3,528.9 L576.6,529.5 L576.9,530.1 L577.3,530.8 L577.6,531.1 L577.9,530.5 L578.2,529.9 L578.6,529.2 L578.9,528.6 L579.2,528.0 L579.6,527.6 L580.0,528.2 L580.4,528.8 L580.7,529.4 L581.1,530.0 L581.5,530.5 L581.9,531.1 L582.5,531.0 L583.2,530.8 L583.8,530.5 L584.4,530.2 L585.0,529.9 L585.4,529.3 L585.7,528.6 L586.0,528.0 L586.3,527.4 L586.6,526.8 L586.9,526.1 L587.2,525.5 L587.5,525.1 L587.6,525.8 L587.7,526.5 L587.8,527.2 L587.8,527.9 L587.9,528.6 L588.0,529.3 L588.1,530.0 L588.2,530.7 L588.2,531.4 L588.3,532.1 L588.4,532.8 L588.5,533.5 L588.6,534.2 L588.6,534.9 L588.7,535.6 L588.8,536.3 L588.9,537.0 L589.0,537.7 L589.0,538.4 L589.1,539.1 L589.2,539.8 L589.3,540.5 L589.3,541.2 L589.4,541.9 L589.5,542.6 L589.8,543.2 L590.1,543.8 L590.4,544.5 L590.7,545.1 L591.0,545.8 L591.4,546.3 L592.0,546.6 L592.6,546.9 L593.3,547.3 L593.8,547.4 L594.2,546.8 L594.6,546.2 L595.0,545.6 L595.4,545.0 L595.8,544.4 L596.2,543.9 L596.7,544.2 L597.2,544.7 L597.7,545.2 L598.1,545.6 L598.6,546.1 L599.1,545.8 L599.4,545.2 L599.8,544.6 L600.2,544.0 L600.6,543.5 L601.0,542.9 L601.4,542.7 L601.7,543.4 L602.0,544.0 L602.3,544.6 L602.5,545.3 L602.8,545.9 L603.1,545.9 L603.4,545.3 L603.6,544.6 L603.9,544.0 L604.2,543.3 L604.4,542.7 L604.7,542.0 L605.0,541.4 L605.2,541.8 L605.4,542.5 L605.6,543.1 L605.8,543.8 L606.1,544.5 L606.3,545.1 L606.5,545.8 L606.7,546.5 L607.0,547.1 L607.2,547.8 L607.4,548.5 L607.8,549.0 L608.3,549.5 L608.8,550.0 L609.3,550.5 L609.8,551.0 L610.3,551.0 L610.8,550.5 L611.3,550.0 L611.7,549.5 L612.2,549.0 L612.6,548.4 L612.8,547.8 L613.0,547.1 L613.2,546.4 L613.5,545.7 L613.7,545.1 L613.9,544.4 L614.1,543.7 L614.3,543.1 L614.5,542.4 L614.6,541.7 L614.6,541.0 L614.7,540.3 L614.8,539.6 L614.9,538.9 L614.9,538.2 L615.0,537.5 L615.1,536.8 L615.1,536.1 L615.2,535.4 L615.3,534.7 L615.3,534.0 L615.4,533.3 L615.5,532.6 L615.6,531.9 L615.6,531.2 L615.7,530.5 L615.8,529.8 L615.8,529.1 L615.9,528.4 L616.0,527.7 L616.0,527.0 L616.1,526.3 L616.2,525.6 L616.3,524.9 L616.4,524.2 L616.5,523.5 L616.6,522.8 L616.7,522.1 L616.8,521.5 L616.9,520.8 L617.0,520.1 L617.1,519.4 L617.2,518.7 L617.3,518.0 L617.4,517.3 L617.5,516.6 L617.8,516.1 L618.5,515.8 L619.1,515.5 L619.7,515.1 L620.3,515.3 L620.8,515.8 L621.3,516.3 L621.8,516.8 L622.3,517.3 L622.6,517.2 L622.9,516.5 L623.2,515.9 L623.4,515.2 L623.7,514.6 L623.9,513.9 L624.2,513.3 L624.5,512.6 L624.8,513.0 L625.1,513.7 L625.4,514.3 L625.7,514.9 L626.0,515.5 L626.3,516.2 L626.6,516.8 L627.0,517.4 L627.5,517.2 L628.2,516.9 L628.8,516.6 L629.4,516.3 L629.8,516.8 L630.2,517.4 L630.6,517.9 L631.0,518.5 L631.4,519.1 L631.8,519.7 L632.2,519.7 L632.6,519.1 L633.0,518.6 L633.4,518.0 L633.7,517.4 L634.1,516.8 L634.5,516.3 L635.0,516.8 L635.5,517.3 L636.0,517.8 L636.5,518.3 L637.0,518.7 L637.4,518.2 L637.9,517.6 L638.3,517.1 L638.8,516.5 L639.2,516.0 L639.6,515.4 L640.1,515.1 L640.5,515.7 L640.9,516.3 L641.2,516.9 L641.6,517.4 L642.0,518.0 L642.4,518.6 L642.6,518.2 L642.8,517.5 L643.0,516.9 L643.2,516.2 L643.4,515.5 L643.5,514.8 L643.7,514.2 L643.9,513.5 L644.1,512.8 L644.3,512.1 L644.4,511.4 L644.7,510.8 L645.0,510.2 L645.4,509.5 L645.7,508.9 L646.0,508.3 L646.3,507.7 L646.6,507.0 L646.9,506.4 L647.5,506.0 L648.1,505.8 L648.8,505.5 L649.4,505.2 L650.1,505.1 L650.4,505.7 L650.8,506.2 L651.2,506.8 L651.6,507.4 L652.0,508.0 L652.4,508.6 L652.6,509.2 L652.8,509.9 L653.0,510.6 L653.2,511.3 L653.4,511.9 L653.6,512.6 L653.8,513.3 L654.0,514.0 L654.2,514.6 L654.4,515.3 L654.6,516.0 L654.8,516.7 L655.0,517.3 L655.2,518.0 L655.5,518.6 L655.7,519.3 L656.0,519.9 L656.2,520.6 L656.5,521.3 L656.8,521.9 L657.0,522.6 L657.3,523.2 L657.6,523.7 L658.3,523.5 L658.9,523.3 L659.6,523.0 L660.3,522.8 L660.9,522.6 L661.6,522.4 L662.3,522.3 L663.0,522.2 L663.7,522.1 L664.4,522.0 L664.5,521.4 L664.5,520.7 L664.5,520.0 L664.5,519.3 L664.5,518.6 L664.5,517.9 L664.6,517.2 L664.6,516.5 L664.6,515.8 L664.6,515.1 L664.6,514.4 L664.6,513.7 L664.6,513.0 L664.6,512.3 L664.6,511.6 L664.6,510.9 L664.6,510.2 L664.6,509.5 L664.7,508.8 L664.7,508.1 L664.7,507.3 L664.7,506.6 L664.7,505.9 L664.7,505.2 L664.7,504.5 L664.7,503.8 L664.7,503.1 L664.7,502.4 L664.7,501.7 L664.7,501.0 L664.7,500.3 L664.8,499.6 L664.8,498.9 L664.8,498.2 L664.8,497.5 L664.8,496.8 L664.8,496.1 L664.8,495.4 L664.8,494.7 L664.8,494.0 L664.8,493.3 L664.8,492.6 L664.8,491.9 L664.9,491.2 L664.9,490.5 L664.9,489.8 L664.9,489.1 L664.9,488.4 L664.9,487.7 L664.9,487.0 L664.9,486.3 L664.9,485.6 L664.9,484.9 L664.9,484.2 L664.9,483.5 L665.0,482.8 L665.0,482.1 L665.0,481.4 L665.0,480.7 L665.0,480.0 L665.0,479.3 L665.0,478.6 L665.0,477.9 L665.0,477.2 L665.0,476.4 L665.0,475.7 L665.0,475.0 L665.0,474.3 L665.1,473.6 L665.1,472.9 L665.1,472.2 L665.1,471.5 L665.1,470.8 L665.1,470.1 L665.1,469.4 L665.1,468.7 L665.1,468.0 L665.1,467.3 L665.1,466.6 L665.1,465.9 L665.2,465.2 L665.2,464.5 L665.2,463.8 L665.2,463.1 L665.2,462.4 L665.2,461.7 L665.2,461.0" fill="none" stroke="#fff0e8" stroke-width="1.45" stroke-linejoin="round" stroke-linecap="round" />
<line x1="602.5" y1="378.9" x2="647" y2="378.9" stroke="#fff0e8" stroke-width="1.6"/>
<line x1="572.5" y1="593.8" x2="642" y2="593.8" stroke="#fff0e8" stroke-width="1.8"/>
<g transform="translate(554.8,369.4) rotate(45)"><rect x="-11.3" y="-11.3" width="22.6" height="22.6" rx="4.5" fill="#f0464f"/><rect x="-4.2" y="-4.2" width="8.4" height="8.4" fill="#6c1408"/></g>
<circle cx="593.5" cy="385.9" r="8" fill="#7a2410" stroke="#2170e0" stroke-width="7"/>
<rect x="625" y="485.8" width="22" height="23.6" rx="3.5" fill="#a0a0a0"/><rect x="632" y="493.3" width="8" height="9" fill="#8a1d0a"/>
<text x="521.3" y="419.5" font-size="17.5" fill="#fff0e8" stroke="#fff0e8" stroke-width="0.25" text-anchor="start" textLength="53.7" lengthAdjust="spacingAndGlyphs" >2.8 nm</text>
<text x="575" y="442.5" font-size="17.5" fill="#fff0e8" stroke="#fff0e8" stroke-width="0.25" text-anchor="start" textLength="52.5" lengthAdjust="spacingAndGlyphs" >1.6 nm</text>
<text x="621.3" y="554.5" font-size="17.5" fill="#fff0e8" stroke="#fff0e8" stroke-width="0.25" text-anchor="start" textLength="53.7" lengthAdjust="spacingAndGlyphs" >5.2 nm</text>
<rect x="706.3" y="562.5" width="69.2" height="31.2" fill="#fff"/>
<text x="722.5" y="584.5" font-size="17.5" fill="#a32038" stroke="#a32038" stroke-width="0.25" text-anchor="start" textLength="39.5" lengthAdjust="spacingAndGlyphs" >5 µm</text>
</svg></body></html>
